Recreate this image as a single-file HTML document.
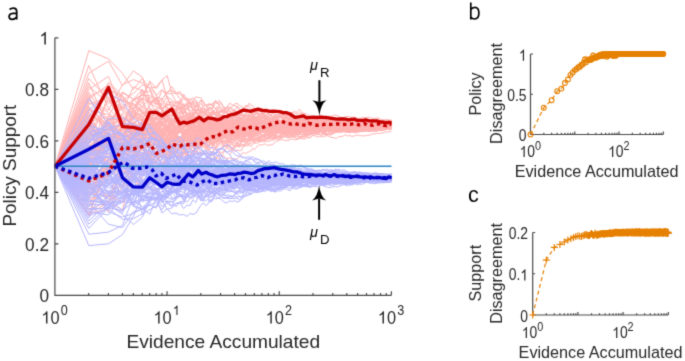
<!DOCTYPE html>
<html><head><meta charset="utf-8"><style>
html,body{margin:0;padding:0;background:#fff;overflow:hidden}
svg{display:block}
text{font-family:"Liberation Sans",sans-serif}
</style></head><body>
<svg width="685" height="361" viewBox="0 0 685 361">
<filter id="bl" x="0" y="0" width="685" height="361" filterUnits="userSpaceOnUse" color-interpolation-filters="sRGB"><feConvolveMatrix order="3" kernelMatrix="0.019 0.1 0.019 0.1 0.524 0.1 0.019 0.1 0.019" divisor="1" edgeMode="duplicate" preserveAlpha="true"/></filter>
<rect width="685" height="361" fill="#fff"/>
<g filter="url(#bl)"><rect width="685" height="361" fill="#fff"/>
<g transform="translate(55 295) scale(0.1)" fill="none" stroke-width="10" stroke-linejoin="round">
<g stroke="#ffb2b2">
<path d="M0 -1288l338-876l197 206l140 116l109 53l89 21l75 70l65 169l57-81l52 1l46-38l42-17l39-63l37 4l33 27l32-112l29-52l28-23l26-31l25-35l24 78l23 25l21 3l21-11l20 24l19 2l19 31l17 11l17 49l17 12l31-4l30 16l28-21l26 21l25 43l24-8l22 41l22 4l21 0l20 14l19 17l18-1l18-9l17-23l16-14l24 3l23-27l22-12l20-15l20-4l19 22l19-5l17-4l17-7l17 8l21-18l20-14l20 0l19 22l18 17l17 9l17 8l16-12l20-17l19 25l18-8l17 14l17 7l16-8l19 5l18-20l18-4l17-27l16-3l18-8l18 5l17 11l17 6l18 5l18 5l16-5l17-12l18 5l17-2l16-3l16-6l18 2l16-9l16 2l17 6l17 5l17 10l17-4l16 1l17-1l17-2l17 1l16 6l18-6l16 13l17 0l16 7l17 3l17 5l16 6l17-4l16 1l17 1l16 1l16-2l17-1l16 7l17 0l16 1l17-5l16-3l16-6l16-3l16 2l16-4l17-10l16-6l16 6l12 1"/>
<path d="M0 -1288l338 490l197-137l140 84l109-444l89-176l75 37l65 43l57-92l52 4l46-29l42 78l39 66l37-89l33 69l32-25l29-33l28-26l26-9l25 58l24 1l23 6l21 22l21 39l20 2l19-37l19 9l17 4l17-43l17 17l31 11l30 25l28-7l26 10l25 7l24-7l22-22l22-31l21-10l20 7l19-10l18-7l18-9l17-26l16 15l24-27l23-23l22 3l20-4l20-8l19 16l19-4l17-1l17 1l17-22l21-16l20-4l20-26l19-34l18 2l17-9l17 8l16 3l20-25l19 3l18 7l17-10l17-8l16-6l19 4l18-16l18 1l17-18l16-13l18-12l18 5l17 17l17 5l18 15l18-6l16 2l17 2l18-5l17 0l16-1l16 3l18-4l16 2l16-9l17-10l17 8l17-4l17-3l16-15l17 0l17 4l17-6l16-10l18 1l16 0l17 3l16 11l17 6l17-1l16 0l17-4l16 2l17 2l16 1l16 1l17 5l16 0l17-4l16 0l17-6l16-3l16 3l16-3l16 1l16-1l17-1l16-7l16-3l12 4"/>
<path d="M0 -1288l338-156l197 28l140-59l109 50l89-209l75-23l65-46l57 77l52-4l46-68l42 48l39-52l37-20l33-29l32-38l29-13l28 61l26 14l25 46l24-1l23 4l21 10l21-16l20 21l19 5l19 28l17 18l17-12l17-5l31 41l30 4l28 19l26 5l25 14l24-7l22 14l22-3l21-11l20 2l19-10l18-14l18-47l17-14l16-12l24-3l23 9l22 39l20-2l20-1l19 11l19 6l17-30l17-13l17-3l21 14l20-8l20-6l19-20l18 5l17-2l17-8l16 3l20-3l19 12l18-1l17 6l17-3l16-2l19-15l18 16l18 6l17 11l16 13l18-1l18-5l17-7l17-1l18-10l18-27l16 7l17-3l18 7l17-3l16-2l16 1l18 2l16 6l16-12l17-7l17-10l17 2l17 3l16 3l17 4l17 4l17-6l16 8l18 7l16-8l17-8l16-7l17-5l17-1l16 5l17 0l16 6l17-4l16 1l16 1l17-8l16 2l17-6l16 0l17 6l16 5l16-6l16-8l16 3l16-4l17 1l16 5l16 3l12-4"/>
<path d="M0 -1288l338-147l197-57l140 61l109-139l89-181l75-149l65-79l57 142l52 153l46-21l42 74l39 102l37-46l33-25l32-2l29 30l28-37l26 9l25-37l24 11l23 0l21 5l21-61l20 8l19-7l19 51l17-20l17-16l17-19l31 25l30-18l28 55l26 1l25-8l24-20l22 32l22 18l21 12l20 28l19 19l18-17l18-5l17 4l16 3l24 3l23 25l22-11l20-6l20-11l19-15l19 14l17-4l17-1l17-2l21 4l20-3l20-14l19 0l18-2l17-6l17 17l16-5l20-7l19-9l18-4l17-6l17-17l16-2l19-19l18 21l18-5l17 9l16 8l18-8l18-14l17 11l17 0l18 10l18-5l16 12l17-17l18 0l17 1l16-1l16 5l18-4l16-4l16-12l17-2l17-6l17 6l17 1l16 1l17-8l17 1l17 3l16-6l18 0l16-5l17 1l16 7l17-1l17-1l16 4l17-1l16-4l17-4l16-2l16-3l17 3l16-6l17-1l16 0l17-4l16-3l16-2l16-5l16 1l16 7l17 3l16-3l16-5l12 0"/>
<path d="M0 -1288l338-424l197-414l140 133l109 139l89 235l75-104l65 27l57-19l52-36l46 80l42 21l39-3l37 51l33-48l32-61l29 22l28-49l26 54l25 43l24-27l23 23l21 24l21 5l20 2l19-43l19 23l17 48l17 23l17-29l31-50l30-28l28-19l26 11l25-17l24-37l22-37l22 9l21 19l20 8l19 26l18 16l18-22l17 16l16 5l24-4l23-23l22-28l20-30l20 33l19 10l19 37l17 4l17 3l17-1l21 25l20 3l20-10l19 14l18 0l17 19l17 4l16-3l20-19l19-11l18-13l17 0l17 4l16 5l19 6l18-15l18-3l17 5l16-9l18-8l18-9l17 15l17-8l18-8l18-13l16 5l17-2l18 1l17-1l16-5l16-1l18 2l16 3l16 1l17-8l17-2l17-3l17 12l16-2l17-2l17 2l17 16l16 7l18-5l16 1l17 1l16-2l17-8l17 5l16 11l17 3l16-2l17-2l16-2l16 2l17-6l16 10l17-2l16 2l17-2l16-1l16 0l16 2l16 1l16-7l17-6l16-1l16 0l12-4"/>
<path d="M0 -1288l338-262l197 0l140-50l109-184l89 32l75 52l65 53l57 57l52-7l46-32l42-32l39 26l37 20l33-29l32 64l29-17l28 24l26-19l25 53l24 19l23 20l21-31l21-6l20 25l19-2l19-5l17-43l17 12l17 21l31 38l30-51l28-7l26-6l25 1l24-53l22-4l22-4l21-33l20-30l19 5l18 0l18-22l17-1l16 12l24-9l23 9l22-11l20-2l20-9l19-13l19 2l17-6l17-12l17-14l21 21l20 2l20 15l19-16l18-1l17-3l17 6l16-21l20-1l19-10l18 0l17-13l17-12l16 6l19 12l18-2l18 0l17 1l16-4l18 0l18-4l17 0l17-11l18 6l18-11l16-9l17 1l18 25l17-3l16 9l16-4l18-5l16 7l16-2l17 14l17-2l17 5l17 10l16 2l17-2l17 4l17-4l16 4l18 4l16 0l17-1l16 1l17 5l17 3l16 6l17 5l16 1l17 5l16-8l16-6l17 2l16 4l17-2l16-3l17 4l16-6l16-2l16-5l16-3l16 4l17 3l16-1l16 5l12-4"/>
<path d="M0 -1288l338-298l197-62l140-7l109 12l89 27l75-34l65 88l57-16l52-81l46 89l42 27l39 5l37-43l33 43l32-7l29 32l28 21l26-42l25 24l24-21l23 2l21 1l21-4l20-42l19-24l19 26l17 3l17-32l17 7l31-23l30-36l28-5l26-38l25 14l24-46l22-3l22 18l21 15l20 14l19-7l18-4l18 0l17-25l16 16l24 30l23 11l22-15l20 14l20 16l19 11l19-17l17-16l17 9l17 3l21-1l20 14l20 9l19-6l18 3l17-11l17 8l16-2l20-19l19-5l18 6l17-12l17 4l16 12l19-5l18-5l18 7l17-1l16 8l18-10l18-12l17-4l17-3l18-3l18 10l16-1l17-4l18-2l17-13l16 8l16 1l18-17l16 5l16 13l17 7l17 6l17-1l17 1l16 6l17-7l17 10l17 6l16 1l18-2l16-8l17 6l16 2l17 2l17 0l16 2l17-7l16-4l17 0l16-5l16 1l17-1l16 3l17 7l16-11l17-6l16 3l16 0l16 5l16-7l16 6l17 3l16-1l16-5l12-5"/>
<path d="M0 -1288l338-767l197-131l140 344l109-241l89 39l75 169l65 104l57 13l52 23l46-4l42-22l39 77l37-8l33 3l32 20l29 57l28 67l26-33l25 0l24 6l23-15l21 4l21 36l20-74l19-8l19-22l17-18l17-6l17-12l31-13l30-12l28-58l26-15l25-45l24-3l22 36l22 6l21 4l20-10l19 5l18 5l18 13l17 23l16-12l24 0l23 6l22 19l20 18l20 11l19-1l19-6l17 10l17 2l17-2l21 13l20 27l20 4l19 1l18 10l17-1l17-8l16 17l20 2l19-2l18-9l17-29l17 2l16-9l19 4l18-1l18-6l17-4l16-23l18 10l18 4l17 15l17-2l18-11l18 6l16 10l17-5l18 6l17 1l16 13l16 4l18-4l16-3l16 2l17-6l17-9l17-11l17 9l16 9l17-3l17 5l17 0l16 0l18 13l16 7l17-2l16 0l17 0l17 2l16 7l17 10l16-5l17 7l16 3l16 3l17-4l16-3l17 4l16-1l17-2l16-9l16 2l16-10l16 3l16-2l17-4l16-7l16-7l12 2"/>
<path d="M0 -1288l338 490l197-583l140 8l109-291l89-13l75-186l65 37l57 7l52 27l46-12l42-39l39-27l37 70l33 80l32 88l29-84l28-50l26-64l25 19l24-19l23 8l21 13l21 63l20 27l19-24l19 20l17 12l17 22l17-13l31-13l30 52l28 33l26 41l25 6l24 3l22 3l22 12l21 18l20-58l19-54l18-24l18-17l17 4l16-29l24 11l23 10l22 10l20-7l20 16l19 8l19-10l17-5l17 0l17 17l21-2l20-3l20 6l19 22l18 5l17 4l17 3l16-13l20 21l19-6l18-7l17-10l17-13l16-5l19-6l18-6l18-1l17 11l16 16l18 5l18-5l17 6l17 1l18-8l18-13l16-3l17 4l18-7l17-7l16 0l16-6l18-7l16 7l16-1l17 4l17 20l17-3l17-1l16 0l17 4l17-3l17 1l16-1l18 4l16-2l17-15l16-3l17-4l17-1l16 2l17 8l16 7l17-5l16 5l16 4l17 0l16 0l17-3l16-3l17-1l16 7l16 2l16-1l16-1l16-2l17-14l16 7l16-2l12-5"/>
<path d="M0 -1288l338-529l197 357l140-111l109 186l89-195l75-121l65-30l57 67l52 1l46 34l42-25l39-10l37 2l33-50l32 21l29 37l28-20l26 21l25 17l24-41l23 19l21-7l21 35l20 32l19-10l19-16l17 5l17-26l17-15l31-24l30 31l28-38l26 33l25 3l24 11l22 27l22 16l21-16l20-24l19-7l18 27l18-18l17-39l16 15l24 16l23-27l22 27l20-7l20-12l19-18l19-10l17-2l17 15l17 4l21 11l20-9l20-19l19-4l18 1l17-15l17-6l16 19l20-15l19-9l18 4l17 14l17-10l16 28l19-4l18 6l18 1l17 17l16 12l18 0l18 16l17 3l17-20l18-5l18 5l16 8l17 18l18 4l17-3l16-18l16 2l18-16l16 1l16 8l17-4l17 13l17 3l17-3l16-3l17-1l17-3l17-5l16-2l18-3l16 1l17-1l16-10l17 5l17-5l16 5l17-7l16 4l17-5l16-4l16-4l17-1l16 1l17 3l16-5l17 0l16 0l16-4l16-4l16-7l16 2l17 3l16 1l16-4l12 4"/>
<path d="M0 -1288l338-383l197 105l140-116l109 40l89-13l75 57l65 63l57-112l52 133l46-105l42-1l39-12l37-13l33-1l32-26l29-67l28 1l26 15l25-26l24-75l23 8l21 55l21-43l20-38l19 11l19 11l17-22l17-41l17 27l31 13l30 14l28 39l26 46l25 20l24 29l22-27l22 4l21-17l20-17l19 12l18 2l18-33l17 14l16-1l24 12l23 7l22 9l20 17l20 0l19-27l19 7l17 11l17 11l17-11l21-26l20 29l20 3l19-12l18 4l17 5l17 0l16 26l20-10l19-7l18-3l17-27l17-6l16-7l19-1l18-4l18-7l17 15l16 11l18 3l18-8l17-9l17-5l18-5l18 13l16 10l17-2l18-4l17 12l16-6l16 4l18-5l16-7l16 3l17 6l17 21l17 3l17-4l16-2l17 4l17 13l17-4l16 2l18-9l16 3l17 14l16 5l17-3l17 10l16 9l17-1l16-2l17-2l16-6l16 1l17 0l16 3l17-4l16 3l17-1l16-3l16 6l16-1l16 1l16 0l17 2l16 4l16 7l12-7"/>
<path d="M0 -1288l338-715l197 479l140-166l109 118l89-45l75-56l65 109l57-60l52-16l46-88l42-21l39-40l37 59l33-16l32 8l29 47l28-19l26-22l25 5l24 9l23-13l21 6l21 13l20-2l19-11l19 2l17 19l17-23l17 6l31-71l30 22l28 24l26 23l25 8l24 5l22-14l22 8l21-6l20-10l19-39l18 18l18-13l17 1l16-32l24-23l23 14l22-14l20 6l20-16l19 4l19 19l17 1l17 20l17 6l21 19l20 25l20 2l19-1l18 8l17 12l17 1l16 15l20-2l19 9l18 19l17-3l17-5l16 13l19 9l18-1l18 18l17 2l16 16l18-6l18-1l17 7l17-10l18-15l18 9l16-5l17 1l18 5l17-11l16-12l16 8l18 5l16 11l16-11l17 3l17 0l17 6l17-5l16-3l17-1l17 8l17-5l16 1l18-7l16-2l17 11l16-7l17 1l17 6l16 5l17 0l16-7l17-5l16-4l16-3l17 0l16-6l17-7l16 6l17 0l16-6l16-8l16-4l16 1l16-4l17 5l16 1l16 2l12-5"/>
<path d="M0 -1288l338 24l197-418l140 40l109 92l89 152l75-181l65 12l57 29l52 18l46 3l42-103l39 96l37-20l33-87l32-62l29-39l28-27l26 14l25 55l24-19l23 50l21-5l21-36l20 24l19-59l19-20l17-23l17 51l17 42l31-8l30 23l28 19l26-6l25-21l24 18l22-15l22-11l21-25l20-11l19 20l18-25l18-22l17 19l16-14l24 43l23-5l22 1l20 9l20-43l19 8l19 1l17 1l17 4l17 5l21-2l20-18l20-1l19-4l18 18l17-29l17-11l16 15l20 8l19-3l18 2l17-6l17 5l16-4l19-5l18-1l18 9l17-3l16-14l18 8l18 13l17-6l17 8l18-7l18-2l16-11l17-3l18-10l17-1l16-8l16-5l18 2l16-6l16-10l17 8l17-1l17 11l17 8l16 3l17-6l17-5l17-2l16 1l18 8l16-1l17-3l16 8l17 9l17 9l16 3l17 2l16 3l17-1l16 7l16 2l17-4l16 5l17-4l16-1l17 6l16 3l16-1l16-2l16 7l16 2l17 5l16-1l16 5l12 7"/>
<path d="M0 -1288l338-672l197-145l140 134l109 130l89-20l75 115l65-72l57-1l52-11l46-10l42 50l39-52l37 32l33-57l32 40l29 46l28-50l26-33l25 66l24 21l23 11l21 35l21 5l20-4l19-17l19 23l17-31l17 11l17 20l31-12l30-22l28-35l26-30l25-30l24-30l22 39l22-2l21-2l20-39l19 11l18-44l18 23l17 8l16 27l24 30l23 25l22 7l20-10l20-14l19-10l19 30l17 19l17 4l17 2l21-2l20-10l20 4l19-18l18 16l17 2l17-11l16 2l20 23l19 2l18-22l17 10l17 5l16-16l19 17l18-15l18 6l17-2l16 1l18 3l18 3l17 9l17 3l18-4l18-2l16-2l17 6l18 2l17-2l16-15l16 5l18 3l16 5l16 9l17 14l17-3l17 3l17 3l16-1l17 3l17 0l17-1l16 8l18 1l16 5l17 10l16 2l17 1l17 5l16 11l17 6l16-1l17-7l16 6l16 1l17 11l16-6l17 6l16-6l17 1l16-1l16-5l16-4l16 12l16 1l17-7l16-2l16 0l12 1"/>
<path d="M0 -1288l338-227l197-248l140 17l109 175l89 170l75-4l65-81l57-1l52 18l46-113l42-46l39-63l37 24l33 79l32 59l29-35l28 2l26-65l25 14l24-42l23-17l21-35l21 12l20-11l19 19l19 20l17 9l17-47l17 18l31 5l30 30l28 6l26-23l25-26l24-18l22-21l22 0l21 18l20 15l19 3l18 22l18 0l17-5l16-15l24 4l23-4l22 13l20-13l20 1l19-24l19-10l17-8l17 1l17 2l21-21l20 0l20 22l19-10l18 10l17-6l17-8l16-13l20 2l19 8l18 7l17-8l17-10l16 12l19-13l18 4l18-6l17 18l16 3l18 5l18-4l17-10l17 0l18 21l18-12l16 0l17 6l18 12l17 10l16 1l16-2l18-3l16-17l16 9l17 6l17 7l17-4l17 1l16-5l17 9l17-1l17-6l16-1l18 3l16 5l17 0l16 3l17-2l17 3l16 3l17 10l16-6l17 17l16-2l16 0l17 6l16-3l17-5l16 6l17-3l16 0l16 4l16 4l16 5l16-1l17-3l16 1l16 5l12 0"/>
<path d="M0 -1288l338-307l197-359l140 232l109 51l89 227l75-124l65 0l57-78l52 101l46 84l42-31l39-65l37 40l33-105l32-45l29-1l28 52l26-24l25 19l24 8l23-26l21-35l21-18l20-14l19-17l19 20l17 2l17 39l17 17l31-34l30 27l28-21l26 25l25-33l24 13l22 18l22 40l21-24l20-15l19 28l18 17l18-20l17 26l16 3l24 3l23-13l22 11l20-1l20-27l19-16l19-2l17 6l17 0l17 6l21 16l20-13l20-17l19 1l18 4l17-2l17-10l16-3l20 11l19 7l18-10l17 16l17-1l16-5l19-6l18-2l18 9l17-1l16-2l18 3l18-6l17-4l17-7l18 8l18 2l16-7l17 11l18 1l17-1l16-8l16 0l18-3l16-9l16 2l17 2l17 10l17 2l17-1l16 4l17 1l17-10l17 3l16 3l18-8l16-7l17 5l16 0l17-3l17 0l16-1l17 13l16-5l17-1l16-1l16-6l17-3l16 4l17-1l16-3l17-1l16-8l16-1l16 1l16 1l16-5l17 1l16 2l16-2l12-2"/>
<path d="M0 -1288l338 156l197-197l140-248l109-233l89-3l75-6l65 110l57-56l52 7l46-123l42 35l39-11l37 29l33 15l32 25l29-41l28 72l26 35l25 44l24-9l23 52l21-3l21-16l20 14l19-33l19 15l17-24l17 39l17 17l31-31l30 1l28-21l26 26l25-11l24-4l22 5l22 22l21-4l20-18l19-14l18-4l18 8l17-17l16 5l24 26l23 3l22 0l20 24l20 11l19 4l19 12l17-16l17-3l17-20l21 1l20 15l20 3l19 0l18 11l17 17l17-5l16 4l20-21l19-7l18-4l17 1l17 3l16-7l19-34l18 11l18 1l17-8l16-2l18-13l18-3l17-11l17-5l18-4l18 9l16 7l17-8l18-5l17-7l16 3l16-2l18-1l16-6l16 2l17-4l17-2l17-4l17 3l16-5l17 0l17-4l17-1l16 8l18-5l16 2l17 9l16 5l17-4l17 5l16 5l17 3l16 1l17 2l16-2l16-1l17-5l16 2l17-1l16-5l17 4l16-3l16 1l16-7l16 3l16 2l17-1l16-1l16-1l12 4"/>
<path d="M0 -1288l338 91l197 19l140-146l109-59l89-75l75 29l65-107l57 21l52-72l46-16l42 51l39 50l37 49l33-26l32-36l29 44l28-10l26-57l25 17l24 41l23 21l21-9l21 18l20-33l19-57l19-14l17-13l17-9l17-24l31-39l30-12l28 41l26 24l25-24l24 21l22-3l22-1l21-21l20-20l19 2l18-12l18-24l17 8l16 1l24 6l23 8l22-3l20 0l20-13l19 15l19-10l17-3l17 28l17-1l21-1l20 13l20-15l19 8l18 7l17 10l17-6l16 10l20 12l19-3l18-3l17-17l17-3l16 5l19 10l18-2l18 2l17 0l16-8l18 5l18-6l17 1l17-1l18-5l18-6l16-9l17-7l18-5l17-8l16 2l16 3l18-4l16 2l16-1l17 1l17 9l17 2l17 9l16-11l17-13l17 3l17-6l16-6l18 5l16-4l17 8l16 5l17 0l17 4l16 4l17 6l16-8l17 3l16-1l16 0l17 5l16-4l17-5l16-2l17-6l16-4l16 3l16 0l16 6l16-4l17-3l16-1l16 3l12-1"/>
<path d="M0 -1288l338-404l197 148l140-148l109-266l89 80l75-101l65 69l57 41l52 92l46-22l42-66l39-23l37 36l33 46l32-5l29 6l28-16l26 0l25 76l24 0l23 17l21 3l21 34l20-30l19-10l19-21l17 52l17-21l17 13l31 6l30 5l28 8l26-18l25-20l24-8l22 22l22 16l21 5l20 6l19-3l18 24l18 5l17-28l16-1l24 23l23 4l22 1l20-12l20 5l19 3l19 4l17 9l17-10l17-10l21 11l20-34l20-21l19-1l18 10l17 8l17 9l16-9l20-1l19-14l18 12l17 8l17 9l16 2l19 2l18 7l18 3l17-19l16-2l18 6l18-18l17 5l17-2l18-2l18 5l16-2l17-8l18 11l17-12l16 7l16 1l18 15l16 4l16-1l17 2l17-5l17-10l17-11l16 3l17 8l17-6l17-4l16-3l18 8l16 2l17 1l16-3l17 1l17 4l16-2l17-3l16 0l17 9l16-7l16 8l17-5l16-1l17-2l16 3l17-5l16-3l16 7l16-1l16 6l16 2l17 1l16-7l16 6l12-2"/>
<path d="M0 -1288l338-693l197-94l140 123l109 54l89 70l75 82l65 113l57-36l52 5l46 66l42 19l39-105l37 99l33-51l32-60l29-14l28 26l26 18l25-30l24-13l23 4l21 4l21 28l20 28l19-5l19 23l17-5l17 1l17 5l31-78l30 68l28 39l26 48l25 15l24 13l22 9l22 4l21 7l20 5l19 6l18-11l18 17l17-30l16-26l24-17l23-5l22-16l20-26l20-1l19 3l19 21l17 6l17 5l17-2l21-3l20-9l20-22l19-12l18-10l17-7l17-5l16-12l20-13l19-4l18 11l17-16l17-7l16 6l19-9l18 5l18 6l17-15l16 6l18-9l18 19l17-5l17 1l18 5l18 1l16-16l17-4l18-5l17-4l16 8l16-7l18 18l16 0l16-1l17 5l17-7l17 5l17 3l16 4l17 1l17 5l17 1l16 2l18 1l16 11l17 0l16 2l17 5l17 0l16-2l17-4l16-14l17 0l16-3l16-8l17 2l16 2l17-2l16-1l17 1l16-8l16 7l16-4l16-7l16-1l17 0l16 4l16-1l12-1"/>
<path d="M0 -1288l338-165l197-173l140-75l109-9l89-55l75 94l65 50l57-91l52 20l46 50l42 42l39-30l37 20l33 87l32-53l29 22l28 2l26 3l25-19l24-5l23-17l21 12l21-25l20 19l19-35l19 28l17-1l17-13l17 13l31 4l30-33l28-8l26-12l25 34l24 19l22 2l22 11l21 40l20-19l19-18l18-3l18 6l17-12l16-19l24-15l23 7l22 11l20 3l20-11l19 11l19 5l17-14l17-18l17-12l21 15l20-14l20 8l19-4l18 1l17-6l17-15l16-4l20 1l19-17l18 5l17-6l17 12l16 4l19 0l18 6l18-4l17 7l16 2l18-5l18-6l17 0l17-7l18 1l18 4l16-3l17 6l18 11l17 4l16-7l16-2l18-15l16 7l16-7l17-5l17 8l17-8l17 0l16-8l17-7l17 0l17-2l16-1l18-7l16 5l17 3l16-2l17-1l17 4l16 10l17 5l16 6l17-3l16-6l16-3l17 1l16-8l17 4l16-5l17 0l16-4l16-2l16 3l16 0l16 1l17-2l16 5l16-4l12 2"/>
<path d="M0 -1288l338 432l197-78l140-143l109-333l89-81l75 136l65-83l57-59l52-16l46-69l42-48l39-43l37 4l33-55l32 17l29-54l28 31l26 1l25-28l24-1l23 51l21 14l21-3l20 10l19-14l19-4l17-2l17 35l17 9l31-27l30 10l28 28l26 15l25-16l24 64l22-23l22-9l21-13l20-10l19-21l18 1l18-42l17 10l16-53l24-24l23-4l22-4l20-26l20 14l19-6l19 20l17-2l17-4l17-3l21-11l20-2l20-22l19-5l18 32l17-20l17 1l16 2l20-15l19 2l18-16l17 18l17-21l16-13l19 33l18 16l18 7l17 20l16-2l18 1l18 12l17-1l17-1l18 3l18 8l16 8l17 13l18 2l17 2l16-2l16 8l18 12l16-8l16-3l17 8l17-2l17-10l17-5l16-16l17 11l17 14l17 8l16 3l18 5l16 7l17-2l16-5l17-5l17-12l16-2l17 2l16 7l17-2l16-3l16 2l17 5l16-2l17-5l16 0l17 2l16 1l16 7l16 5l16-4l16-2l17 2l16-1l16 0l12-1"/>
<path d="M0 -1288l338 34l197-247l140-206l109-15l89 63l75 8l65-110l57-19l52-93l46 10l42 42l39 58l37-21l33 27l32 33l29-17l28 42l26 16l25-8l24-15l23-51l21 28l21 42l20-11l19 53l19-28l17-52l17 29l17 24l31 14l30 23l28 4l26 36l25-48l24-11l22 0l22-6l21-7l20-25l19-11l18-10l18 11l17 16l16 4l24 25l23-1l22-19l20-7l20-6l19 29l19-8l17 35l17 21l17-14l21-26l20 7l20-16l19-1l18 17l17 0l17 1l16 13l20 9l19-20l18 8l17 7l17-11l16-13l19 0l18-1l18-5l17-14l16 2l18-4l18-2l17 6l17 9l18-4l18 1l16-4l17-9l18 4l17 6l16 7l16-4l18 8l16-5l16 1l17 7l17 7l17-6l17 0l16-2l17 3l17 6l17-2l16 10l18 0l16 5l17-1l16 3l17-8l17 1l16 3l17-11l16-7l17-2l16-2l16-13l17-1l16-1l17-3l16-1l17-3l16-3l16-5l16 2l16-1l16 4l17-2l16-5l16 0l12-1"/>
<path d="M0 -1288l338 170l197-172l140-232l109 58l89-47l75-162l65-46l57-46l52 34l46-3l42-38l39 3l37 41l33-57l32 70l29-2l28 26l26-8l25 70l24 27l23-39l21 11l21 8l20 33l19 12l19 22l17 5l17-15l17-27l31-22l30-10l28-40l26 14l25-18l24 30l22-13l22-5l21 36l20-23l19-39l18-32l18-21l17 10l16-2l24 1l23-2l22 6l20-10l20 2l19-2l19-11l17-11l17-4l17-5l21 2l20-8l20-26l19-15l18 5l17 4l17 16l16-13l20 9l19 14l18-8l17 11l17 15l16 11l19 9l18-1l18 7l17-14l16 8l18-10l18 8l17 10l17-5l18 5l18-9l16 6l17 1l18 8l17 6l16 8l16 5l18 16l16 10l16-5l17-4l17 1l17-3l17-2l16 13l17 3l17 4l17 4l16-1l18 10l16 5l17-4l16 3l17-1l17 8l16-4l17-1l16 1l17-3l16 9l16 2l17-5l16 0l17-6l16-5l17-10l16-7l16-2l16 5l16 0l16-1l17-1l16 0l16 3l12-5"/>
<path d="M0 -1288l338-183l197-237l140-61l109 65l89-125l75 23l65-55l57-37l52-86l46 36l42 41l39-20l37-81l33 47l32 22l29 60l28-13l26 4l25-26l24 24l23-6l21-11l21-8l20 23l19 10l19 21l17 25l17 7l17-5l31-28l30 35l28-50l26 18l25 9l24 24l22 54l22 8l21 2l20 3l19 2l18 4l18-5l17 36l16-8l24-34l23-24l22 24l20-8l20 32l19 13l19-27l17 17l17-17l17 5l21 15l20 12l20 10l19 20l18 6l17-3l17-3l16 3l20 5l19-17l18-5l17 2l17-6l16 6l19 14l18-10l18-11l17-1l16 1l18-5l18 3l17 2l17-8l18 11l18 1l16-15l17-1l18 13l17 1l16-2l16 3l18 4l16-3l16-7l17 5l17 0l17 11l17-9l16 5l17 8l17-3l17 14l16 7l18-4l16-6l17-4l16-2l17 7l17-10l16-1l17 7l16-3l17 6l16-3l16 0l17-3l16 5l17-1l16 6l17 2l16 0l16 3l16 4l16 5l16 4l17 3l16-5l16 0l12 3"/>
<path d="M0 -1288l338-601l197 218l140 74l109-114l89 114l75-42l65 152l57-36l52-68l46-65l42-26l39 34l37 62l33 59l32 1l29-11l28-11l26-15l25-11l24 7l23-40l21 21l21-16l20-27l19-23l19 0l17-68l17-49l17 20l31 2l30 14l28 9l26 13l25 9l24-5l22 3l22 10l21-20l20-5l19-11l18-12l18 17l17-28l16-3l24-11l23 9l22 5l20 12l20 5l19 6l19-7l17 14l17-15l17-11l21-10l20 22l20 16l19-9l18-10l17 2l17-15l16-7l20 0l19 4l18 7l17 8l17-12l16 13l19 1l18 7l18 8l17-12l16 0l18-1l18-2l17-2l17 3l18 3l18 7l16-15l17-7l18-21l17 0l16 0l16-3l18 0l16-8l16 16l17-1l17 6l17-1l17 4l16 11l17-3l17 9l17-3l16 5l18 5l16 11l17 9l16-2l17-1l17 16l16-1l17 5l16 2l17 1l16 0l16-2l17 5l16 3l17 5l16 1l17 7l16 0l16 7l16-11l16-2l16-3l17 4l16 0l16-4l12 1"/>
<path d="M0 -1288l338 201l197 259l140-487l109 21l89-280l75-2l65-71l57-80l52-29l46 99l42 34l39-54l37 19l33 4l32-19l29 16l28 18l26-21l25 68l24-39l23 49l21-27l21-7l20-3l19-29l19-33l17 44l17 45l17-29l31-21l30 69l28 35l26 37l25 7l24-18l22-46l22 7l21-40l20 11l19-9l18-16l18 33l17 0l16 0l24 17l23 23l22-34l20-20l20-21l19 11l19-34l17-5l17-15l17-4l21 1l20-6l20-10l19 9l18-6l17 0l17 9l16-3l20-22l19-11l18-12l17 5l17 2l16 13l19-7l18-7l18-6l17 0l16 25l18-1l18-13l17-3l17-4l18-5l18-25l16 4l17 5l18 10l17 10l16-4l16-11l18-5l16 7l16 9l17 8l17-2l17-9l17-5l16 9l17-4l17 5l17 8l16 1l18 2l16-8l17-7l16 2l17 8l17 9l16-8l17 0l16 12l17-1l16-3l16-1l17-4l16-1l17-7l16 5l17 0l16 2l16-5l16-1l16 2l16 3l17 6l16 1l16-2l12-1"/>
<path d="M0 -1288l338-56l197 193l140 75l109-68l89-64l75-170l65 33l57-146l52-73l46 8l42-50l39-15l37-30l33 8l32-45l29-33l28-39l26 63l25 44l24-68l23 5l21 33l21 18l20 13l19-4l19-32l17-60l17 27l17-3l31 20l30-23l28 21l26-52l25 31l24 39l22 2l22 9l21-2l20-12l19-5l18-24l18 7l17 20l16-29l24 29l23-10l22 18l20-3l20 6l19-22l19 5l17 8l17 13l17-5l21 4l20-11l20-8l19 33l18-20l17 5l17 8l16 11l20 8l19 4l18-1l17 14l17 0l16 2l19-21l18-6l18 2l17 3l16 17l18-11l18 4l17-14l17-3l18-7l18 5l16-2l17 28l18 17l17-10l16-3l16 6l18-4l16 4l16-3l17-1l17-6l17 3l17 2l16-2l17-6l17-3l17 1l16-3l18-6l16 5l17-7l16 4l17-12l17-4l16 2l17 5l16 4l17-1l16-5l16-1l17 8l16-6l17-3l16-5l17 6l16-2l16-2l16 0l16-5l16 0l17 4l16-1l16 2l12 0"/>
<path d="M0 -1288l338-174l197-18l140-225l109 91l89-122l75-9l65-11l57 94l52 20l46 25l42-46l39-16l37-38l33 1l32-11l29 84l28 51l26-21l25 34l24-11l23-6l21-41l21 11l20-30l19-26l19-5l17-10l17-38l17-8l31-5l30-40l28 26l26-46l25 8l24-8l22 39l22 53l21 10l20 18l19-17l18-29l18-12l17 1l16-15l24 3l23 44l22-5l20-20l20 22l19 0l19 0l17-3l17-2l17 2l21-7l20 16l20-9l19-5l18 26l17 3l17-10l16-2l20 15l19 4l18 3l17-20l17-6l16 2l19-8l18 0l18 21l17-9l16 15l18-13l18 10l17 7l17 8l18-7l18-9l16-2l17-16l18 3l17-8l16 6l16 6l18 3l16-1l16 0l17 4l17 12l17-1l17-7l16 2l17-8l17 8l17 7l16 6l18 3l16 7l17-9l16 9l17 0l17 10l16-6l17 4l16 2l17 6l16-1l16-6l17 4l16 3l17 4l16 12l17-14l16 1l16-5l16 2l16 3l16-3l17-2l16-1l16-5l12-1"/>
<path d="M0 -1288l338 185l197-490l140-42l109-7l89 84l75 33l65-45l57-76l52-14l46 63l42 3l39-33l37 22l33-5l32 13l29 3l28 3l26-56l25-1l24 20l23-25l21-31l21 33l20-13l19-21l19-42l17-17l17 5l17 22l31 21l30 4l28-19l26-5l25-13l24-13l22 25l22 4l21-4l20-16l19-2l18-14l18-14l17-14l16 22l24 22l23 12l22 11l20-3l20 30l19-1l19-7l17-5l17-5l17-5l21 14l20-12l20-9l19 22l18 7l17 1l17 3l16 12l20-17l19 6l18-15l17-6l17 6l16 9l19-9l18-23l18-15l17-12l16 0l18 3l18 0l17-5l17 0l18 3l18 3l16-12l17 3l18-10l17 5l16 10l16-7l18 7l16 3l16-2l17 7l17 3l17-7l17-7l16 7l17-4l17 6l17-7l16-4l18 14l16 6l17 6l16-4l17 15l17 11l16 8l17-5l16-8l17 2l16-4l16 1l17 0l16 3l17-4l16 2l17 3l16-2l16-7l16 2l16-2l16 1l17 5l16-1l16-1l12 9"/>
<path d="M0 -1288l338-833l197 454l140-29l109 221l89-39l75-43l65-121l57-104l52-57l46-30l42-58l39-14l37 116l33-38l32-29l29-50l28-40l26 8l25 0l24 45l23 41l21 20l21-11l20 16l19-55l19-29l17 26l17 21l17 14l31 52l30 2l28-15l26 23l25 29l24 2l22-35l22 30l21 4l20-25l19-20l18 0l18-3l17 11l16 2l24 23l23 21l22-1l20-1l20 12l19 7l19 8l17 20l17-23l17 24l21 46l20-3l20 5l19 8l18 9l17-4l17-2l16 8l20-1l19-9l18 4l17 23l17-6l16-6l19 6l18 4l18-3l17-8l16-5l18 2l18-4l17-18l17-5l18-14l18-9l16 10l17 20l18 1l17-10l16-5l16-4l18 4l16-9l16-4l17 1l17 0l17 6l17 6l16 0l17 5l17-3l17 1l16 4l18 2l16 6l17 9l16-5l17-4l17-5l16 4l17-7l16-2l17-10l16 1l16-8l17 4l16 7l17-3l16-6l17 9l16 0l16 11l16 0l16 7l16-4l17-1l16-1l16-2l12-1"/>
<path d="M0 -1288l338 339l197-499l140-68l109-81l89-7l75 18l65-1l57-44l52 53l46 18l42-27l39 51l37 39l33 10l32-39l29-27l28-9l26-19l25 38l24-3l23 19l21 48l21-25l20-9l19-20l19-3l17-35l17-18l17 16l31 33l30 0l28 14l26-20l25-45l24 25l22 0l22-8l21-6l20-3l19-10l18 10l18-5l17-15l16-10l24 4l23-21l22 2l20 4l20-13l19 8l19-34l17 12l17 4l17 6l21-19l20 17l20 12l19 11l18-19l17 18l17 0l16 10l20-15l19-3l18-1l17 2l17 3l16-3l19-3l18 5l18-18l17 13l16 4l18-2l18 4l17-9l17 8l18-3l18-9l16 0l17-3l18-6l17 6l16 2l16 7l18-4l16 5l16 1l17-12l17 10l17-7l17 0l16-2l17 12l17 0l17 4l16-4l18-12l16 5l17 3l16-8l17-3l17-3l16-4l17-9l16-5l17 2l16 1l16-5l17 5l16-7l17 4l16-6l17-3l16 0l16 2l16-5l16-1l16 1l17-4l16 4l16 4l12 3"/>
<path d="M0 -1288l338-457l197 280l140 32l109 43l89-78l75 109l65 80l57-45l52-12l46-90l42 24l39 84l37-121l33 13l32-13l29-7l28-60l26 10l25 13l24 0l23 5l21-10l21-25l20 2l19 20l19-84l17 0l17-2l17-4l31 15l30 14l28-17l26-10l25-26l24-7l22-48l22-11l21-14l20-13l19 27l18 13l18-26l17 11l16 13l24-17l23 16l22-9l20-13l20-10l19 20l19 32l17 14l17 17l17 18l21-15l20-8l20 6l19-19l18-14l17-3l17 7l16-8l20-6l19 1l18-10l17-7l17 9l16-4l19 1l18-17l18-5l17 0l16-21l18 3l18 2l17-17l17-11l18 9l18 3l16 11l17 5l18-10l17 15l16-2l16-4l18 0l16 6l16 7l17-3l17-9l17 3l17-12l16 6l17 2l17-8l17 8l16-7l18 3l16 1l17 1l16 2l17-8l17 1l16 9l17 6l16-2l17 2l16 1l16 3l17 4l16 4l17-6l16-1l17 1l16 2l16 0l16 1l16 0l16-4l17 3l16 2l16-1l12 6"/>
<path d="M0 -1288l338 13l197-771l140 58l109 137l89-107l75-183l65 77l57-87l52-42l46 171l42 9l39-23l37 54l33 21l32 4l29-13l28 25l26 73l25 77l24 10l23-42l21-33l21-8l20 11l19-31l19-45l17 25l17-38l17 15l31 65l30-3l28-49l26 15l25 12l24 2l22 22l22 20l21-14l20 11l19 23l18 31l18-17l17-6l16-13l24 19l23 23l22-17l20 22l20 7l19 13l19 9l17-9l17-1l17 9l21-10l20-16l20-12l19-8l18 2l17-10l17-2l16 22l20 2l19 3l18 2l17-5l17 1l16-13l19 0l18 2l18 3l17 13l16 10l18-6l18 0l17 13l17 6l18 0l18 5l16 4l17-5l18 4l17 4l16-8l16 5l18-1l16 0l16-1l17-2l17 5l17-1l17 8l16 9l17-4l17 5l17 5l16-4l18 3l16 5l17 2l16-2l17-5l17-5l16-6l17 8l16 6l17-1l16 4l16 2l17 3l16 3l17 5l16 0l17-4l16 2l16-3l16-6l16 0l16-2l17-3l16 3l16 3l12 1"/>
<path d="M0 -1288l338-492l197 291l140-83l109-269l89 67l75 27l65-117l57 173l52 17l46-59l42-8l39 12l37 15l33 48l32 49l29 34l28-17l26 8l25 4l24 27l23-6l21 16l21 15l20 18l19-11l19-49l17 23l17-4l17-2l31 41l30 4l28-35l26 30l25 37l24-45l22-7l22-1l21-15l20-7l19 7l18 10l18 0l17-6l16 26l24 6l23-15l22-15l20-7l20 7l19-36l19 25l17-22l17 18l17-3l21 0l20 8l20 10l19-11l18 10l17 2l17 1l16-5l20-10l19-1l18 10l17-5l17-2l16-11l19 6l18-13l18-5l17-4l16 12l18 1l18-20l17-7l17-3l18-4l18-3l16 8l17 1l18-8l17-1l16 0l16 5l18 5l16-12l16-8l17-10l17 1l17-5l17-10l16 8l17-7l17 7l17 6l16 2l18-6l16 0l17-13l16-6l17 6l17-3l16 6l17-14l16 5l17 2l16 2l16-7l17-7l16-9l17-9l16-2l17 5l16 4l16 2l16-10l16-4l16-9l17 2l16 2l16-8l12 0"/>
<path d="M0 -1288l338 366l197-252l140-166l109-8l89-10l75-36l65 70l57 46l52-117l46-184l42 11l39-18l37 37l33 25l32-57l29 37l28-7l26-17l25-51l24-2l23 41l21 16l21-25l20 14l19-26l19 26l17 6l17-35l17-21l31-8l30 12l28 34l26-21l25 42l24 6l22-17l22 5l21-22l20-34l19 31l18 21l18 27l17 5l16-11l24-7l23-25l22 16l20-11l20 5l19 5l19-6l17-13l17 15l17 4l21-12l20-6l20 25l19-4l18-23l17 13l17 4l16-10l20 5l19 1l18 4l17-5l17-6l16 12l19-12l18-22l18-14l17-14l16 3l18-11l18-10l17 0l17 7l18 3l18 5l16-12l17-6l18-22l17-11l16 3l16 9l18-1l16-10l16-3l17-2l17-4l17 10l17 1l16 4l17 4l17 4l17 9l16 1l18-4l16-1l17 7l16-4l17 6l17-4l16-6l17-8l16 0l17-19l16 1l16-4l17-5l16 1l17-3l16 5l17 1l16 3l16 4l16-3l16 4l16-1l17-5l16 5l16 3l12 1"/>
<path d="M0 -1288l338-740l197 292l140-147l109 63l89 35l75-8l65 173l57-38l52-31l46-36l42 72l39-99l37 78l33-39l32 41l29-23l28 24l26-22l25-64l24-11l23-3l21-1l21-2l20-38l19 6l19-21l17 4l17-16l17-4l31 15l30-58l28 13l26 29l25 6l24 48l22-20l22 14l21-8l20 17l19 15l18 5l18-4l17-19l16 14l24-11l23-6l22-15l20-30l20 8l19-11l19 6l17-2l17 5l17 21l21 19l20 20l20-1l19 15l18-7l17-3l17-3l16 7l20 15l19 6l18-3l17 9l17-2l16-5l19 10l18 12l18 3l17-5l16-1l18 17l18 4l17 8l17-11l18 2l18 11l16-4l17-2l18 13l17-6l16-7l16-7l18-14l16 1l16-5l17 3l17 7l17-5l17 5l16 3l17 4l17-5l17-9l16 2l18 3l16-18l17 4l16 4l17 3l17-2l16-4l17 5l16 11l17 4l16 2l16-3l17-2l16-2l17-4l16 0l17-5l16 5l16-5l16 5l16-2l16-2l17 3l16 1l16-1l12 2"/>
<path d="M0 -1288l338-130l197-105l140 80l109-21l89-51l75 47l65-79l57 63l52 77l46-51l42-41l39-50l37-46l33-26l32 67l29-71l28-14l26 53l25 47l24-1l23 9l21-44l21-14l20 2l19-12l19 6l17-10l17-7l17-29l31-31l30-47l28 24l26 2l25-12l24 6l22 2l22-2l21 6l20 6l19-25l18 5l18-18l17 18l16 7l24 8l23-24l22 3l20 2l20 6l19 15l19-12l17-15l17-10l17-10l21-31l20-16l20-5l19 5l18 16l17-5l17 8l16 10l20-8l19-10l18 3l17 3l17 4l16-21l19 28l18 11l18 8l17 2l16 4l18 12l18-2l17 9l17 2l18-12l18 9l16-9l17-1l18 8l17 9l16 5l16-10l18 3l16 4l16 1l17 3l17 10l17-3l17 12l16-3l17 3l17 3l17 4l16-10l18 2l16-7l17 5l16-6l17 3l17 2l16 0l17 4l16-2l17 0l16 3l16-1l17 6l16 8l17 0l16-7l17-5l16 2l16 0l16 2l16-3l16 1l17-4l16-2l16-8l12 0"/>
<path d="M0 -1288l338-586l197 270l140 208l109 218l89 144l75-135l65-13l57 39l52-26l46 16l42 47l39-68l37 39l33-30l32 13l29-18l28-40l26 14l25-11l24-100l23 13l21-12l21-31l20-3l19-5l19-40l17 23l17-4l17-10l31-51l30-53l28 37l26-26l25 36l24-18l22 7l22-3l21-42l20-3l19-16l18 1l18-10l17-14l16 15l24-24l23-6l22-1l20-10l20 11l19 11l19-1l17-11l17-1l17-3l21-33l20 3l20-10l19-12l18-17l17-1l17 6l16-2l20 11l19 7l18-15l17 1l17 28l16 5l19 3l18-12l18-7l17 2l16 3l18-14l18-7l17-2l17-5l18-1l18-4l16-8l17 20l18 10l17 3l16-2l16-6l18-4l16-3l16-4l17-8l17-4l17-4l17-1l16 4l17-6l17-11l17 13l16 8l18 0l16-4l17 6l16 3l17-8l17 1l16-7l17-2l16 2l17-8l16-7l16-6l17 2l16-1l17 5l16 12l17-3l16-5l16 4l16-1l16-10l16-8l17 1l16 1l16-3l12-5"/>
<path d="M0 -1288l338-192l197-100l140 252l109 26l89-225l75 32l65-12l57-58l52 126l46-69l42-55l39 29l37 5l33-21l32 14l29-21l28-53l26-16l25 43l24 0l23 35l21 5l21 11l20 13l19 12l19-13l17 13l17-8l17-8l31-4l30 16l28 37l26 29l25-39l24-27l22 7l22-33l21-6l20 11l19-3l18-26l18-14l17-7l16-3l24 8l23 8l22-14l20-6l20 9l19 2l19 0l17-11l17-23l17-7l21-15l20 6l20 2l19 4l18 2l17-11l17-5l16 6l20-4l19 1l18-4l17 3l17-7l16 14l19-29l18 8l18 0l17 9l16-3l18 3l18-5l17-5l17 10l18-10l18-3l16 10l17 7l18 13l17 14l16-1l16-12l18-11l16 2l16-1l17-2l17-14l17-5l17-6l16-1l17-10l17-15l17 8l16 3l18 5l16 5l17-4l16-3l17 2l17 4l16 6l17 0l16 2l17 2l16-7l16-3l17-2l16 2l17-2l16 5l17-1l16 1l16-5l16-1l16 3l16-3l17 7l16-5l16-3l12-4"/>
<path d="M0 -1288l338-393l197 95l140-435l109 62l89-38l75-125l65 128l57-62l52 75l46 120l42 27l39 16l37-64l33-23l32 20l29 28l28 13l26 81l25 36l24 48l23 7l21 6l21-14l20-13l19-2l19 18l17 41l17 26l17-41l31 8l30-7l28 36l26 8l25 25l24 19l22 21l22-3l21-15l20-30l19-30l18 25l18 0l17-9l16-7l24-35l23-19l22 1l20 25l20 2l19 17l19-24l17 8l17-6l17-11l21-5l20-1l20 12l19 10l18 5l17-2l17 1l16-13l20 7l19-2l18 12l17 1l17 3l16 8l19-18l18-20l18 14l17-20l16-3l18-6l18-1l17-6l17-6l18-5l18 6l16 0l17 4l18-3l17-9l16 5l16 1l18 1l16 10l16 6l17-2l17-3l17-5l17 9l16 0l17-3l17-5l17-11l16-4l18-6l16-1l17-6l16-1l17 2l17 5l16 5l17 13l16 2l17-1l16 0l16 1l17 3l16-8l17-1l16-11l17 0l16-4l16 3l16 6l16 10l16-3l17 0l16-4l16-2l12 0"/>
<path d="M0 -1288l338-200l197 170l140 4l109-87l89 19l75 62l65-79l57 22l52 4l46-75l42 17l39-15l37-30l33-6l32-73l29 27l28 0l26-22l25 1l24-41l23 17l21 34l21 20l20-34l19 0l19 1l17 6l17 0l17 8l31 7l30 1l28-25l26-15l25 8l24 1l22-19l22-42l21-19l20-9l19-7l18 14l18-7l17 18l16 1l24-21l23-22l22 1l20 1l20-11l19 6l19 20l17 3l17-1l17 4l21 7l20-3l20-15l19-4l18 4l17 17l17 12l16-5l20-26l19-12l18 17l17-7l17 7l16 13l19 13l18-10l18-29l17-6l16 9l18 4l18-5l17-10l17 4l18-2l18 3l16-4l17-8l18-11l17-4l16 1l16-8l18-3l16-1l16 2l17-15l17-23l17 18l17 11l16 4l17-5l17-10l17-3l16-4l18-1l16 8l17 10l16 7l17 4l17-8l16-1l17-4l16 1l17 4l16-8l16 9l17 2l16-1l17 9l16 2l17-4l16-6l16-5l16 8l16 3l16-4l17 6l16-2l16 9l12-5"/>
<path d="M0 -1288l338-1155l197 81l140 146l109 161l89-111l75 105l65 131l57-27l52-62l46-65l42 63l39 59l37 59l33-13l32-40l29 21l28 91l26-16l25 30l24-12l23 35l21 13l21-29l20-8l19 13l19 1l17 16l17 4l17 17l31 51l30-2l28 27l26-22l25-16l24 7l22-13l22-47l21 10l20-3l19-2l18-10l18-13l17 4l16-29l24 20l23 4l22-1l20 20l20 18l19 1l19 12l17 21l17 9l17 10l21 3l20 25l20 23l19 14l18 11l17-21l17 3l16 5l20-5l19-6l18-9l17-21l17-3l16 6l19-5l18-1l18 4l17 0l16 8l18 6l18-17l17 6l17-10l18 6l18 16l16-12l17-16l18 5l17-10l16-8l16 3l18 2l16 4l16-3l17 1l17-5l17 6l17 2l16 5l17 0l17 5l17 2l16 1l18 4l16-5l17-5l16-15l17 4l17 3l16 6l17 3l16 9l17-5l16 4l16 2l17-9l16-10l17 1l16-7l17-4l16-1l16-4l16 2l16-1l16-5l17 5l16-1l16 4l12 4"/>
<path d="M0 -1288l338 315l197-269l140-414l109-99l89-138l75 120l65 66l57-32l52 33l46-52l42 32l39-66l37 61l33-43l32 64l29-43l28-3l26-15l25 13l24-41l23 7l21-2l21 5l20-53l19 6l19-19l17-32l17 35l17 18l31 14l30 2l28 5l26-2l25-14l24 41l22-6l22-5l21-45l20-11l19 16l18-3l18 24l17 12l16 21l24 23l23 0l22 43l20 25l20 12l19-19l19 11l17 16l17-7l17-4l21 4l20 1l20-3l19-4l18-4l17 8l17-3l16 18l20-33l19 2l18-7l17 12l17-5l16 3l19 5l18-3l18 0l17-5l16 7l18-10l18 5l17 0l17 3l18-8l18 5l16 9l17 1l18 6l17-10l16-6l16 0l18 12l16-2l16 0l17 5l17 2l17-9l17-2l16-7l17-9l17-8l17 2l16 7l18 1l16 0l17-2l16 0l17 3l17 0l16 3l17-1l16 2l17-3l16 2l16 1l17-3l16-7l17-3l16-1l17 0l16 4l16-4l16 3l16 0l16-8l17 13l16-1l16 2l12 4"/>
<path d="M0 -1288l338-571l197 158l140-237l109 26l89 73l75 89l65 131l57 25l52 94l46 109l42-56l39 53l37-50l33 27l32 51l29-20l28-110l26 32l25-26l24-2l23 0l21-20l21 4l20-28l19-49l19-52l17-25l17 4l17 12l31-34l30-32l28 8l26 28l25 6l24 15l22 4l22-6l21 15l20-31l19 2l18 1l18 14l17-9l16-3l24-19l23-40l22 17l20 9l20 9l19 12l19-4l17-6l17-2l17-8l21-1l20-24l20 7l19-12l18-14l17 3l17-8l16 25l20 0l19-11l18-7l17 8l17-1l16-4l19 7l18 7l18-13l17 12l16 12l18 12l18 6l17-7l17 4l18-8l18-14l16-9l17 10l18-11l17 11l16-16l16-9l18 18l16-9l16-2l17-2l17-1l17 0l17-4l16 9l17 2l17 1l17 1l16 3l18-7l16 0l17 5l16-1l17 4l17 1l16-5l17-3l16 4l17 7l16 2l16-5l17-9l16-3l17 7l16-6l17-10l16 8l16 5l16-1l16 3l16-2l17 3l16 8l16 6l12-3"/>
<path d="M0 -1288l338-374l197 451l140-314l109-83l89 16l75-68l65-26l57-59l52 79l46 47l42-102l39 23l37 4l33-28l32 7l29 3l28-21l26 13l25 51l24 3l23-10l21-26l21 54l20 8l19-6l19-17l17 2l17 16l17-7l31-16l30 6l28-21l26-7l25 3l24 5l22-40l22 0l21 10l20-14l19 20l18 27l18-12l17-6l16-13l24-33l23 9l22 12l20-6l20 18l19-2l19 1l17-1l17 1l17 11l21 5l20-6l20 14l19 5l18 12l17 5l17-7l16 13l20 3l19 2l18-10l17-2l17 20l16-2l19-2l18-1l18-12l17 13l16-10l18-1l18-5l17 19l17-24l18-5l18 9l16-5l17-1l18-9l17-5l16 4l16-2l18-1l16 0l16 0l17 9l17-3l17 8l17-3l16-1l17 8l17 4l17-4l16 3l18 8l16-4l17-5l16-2l17 1l17 6l16-3l17 4l16-5l17-4l16-5l16 10l17 3l16-4l17 2l16-7l17 5l16 1l16 3l16-3l16-7l16 2l17-7l16-5l16-1l12-1"/>
<path d="M0 -1288l338-244l197 62l140-351l109 50l89-286l75 143l65-65l57 16l52 93l46 38l42 52l39-28l37-14l33-52l32-53l29 87l28-60l26 56l25 20l24-7l23 10l21 56l21 37l20-4l19 2l19 42l17 1l17-98l17-4l31 46l30 16l28 16l26-31l25 6l24 46l22-16l22-6l21-8l20 9l19-19l18-21l18-14l17 29l16 28l24-49l23-7l22-10l20-16l20 16l19 26l19-1l17 4l17 14l17 10l21 22l20 17l20 25l19-10l18-11l17-3l17-17l16-10l20 4l19 1l18 13l17-3l17 11l16 9l19-8l18-1l18 6l17-22l16 8l18-28l18 5l17 2l17-4l18 4l18-1l16 2l17-4l18 0l17 5l16-6l16-2l18-4l16-5l16-3l17-3l17 10l17 18l17-10l16-11l17 8l17 6l17-5l16-8l18-7l16 4l17 10l16-8l17 0l17-3l16 8l17-4l16 5l17 1l16 6l16-4l17-2l16 3l17 6l16-1l17-1l16 7l16 2l16-7l16-1l16 4l17 5l16 1l16-1l12-5"/>
<path d="M0 -1288l338-1007l197 428l140 141l109 138l89 126l75-21l65 27l57-166l52-26l46 85l42 56l39 17l37 41l33-68l32-22l29-49l28 5l26 50l25-23l24-32l23 11l21 32l21-9l20 0l19-37l19-70l17 30l17-34l17-17l31-7l30 39l28 5l26 24l25 41l24-57l22-26l22 34l21 3l20 4l19 16l18-2l18-2l17-14l16 8l24-13l23 13l22-5l20-4l20-43l19 26l19 3l17-23l17 7l17 7l21-11l20 22l20-6l19 18l18-13l17 6l17 2l16 12l20-1l19 20l18-7l17 1l17 17l16 2l19-2l18 4l18 3l17-14l16-3l18-9l18-13l17-9l17-2l18 16l18-6l16-7l17 12l18-22l17-5l16-4l16-5l18-3l16-11l16 3l17 2l17-3l17 8l17 1l16-9l17-1l17 1l17 0l16 4l18 2l16 5l17 2l16 0l17-10l17 1l16-9l17 8l16-7l17-2l16 7l16-5l17-7l16 4l17-4l16-3l17-2l16-3l16 5l16 2l16 2l16-4l17-1l16 3l16-2l12 1"/>
<path d="M0 -1288l338-653l197 93l140-255l109-51l89 33l75 51l65 69l57 131l52 77l46 88l42-30l39-27l37-14l33-41l32 36l29 48l28 79l26 34l25-15l24-28l23-22l21-5l21-7l20-2l19-37l19-28l17-4l17 9l17-18l31 23l30 42l28 20l26-45l25-13l24 0l22-4l22 19l21 0l20 2l19-12l18-12l18-18l17-11l16 9l24 1l23 12l22-26l20 25l20 7l19-13l19 15l17-7l17-8l17 15l21 15l20 3l20-11l19 13l18 19l17 12l17-3l16-1l20-29l19-11l18 7l17 7l17-13l16-10l19 11l18 3l18-3l17 7l16 1l18-2l18 12l17-9l17 13l18-7l18 4l16-5l17 17l18-16l17 8l16-10l16-5l18 7l16-4l16-2l17 6l17 5l17-3l17-2l16 20l17 7l17-6l17 3l16-12l18 4l16 1l17 1l16 9l17 3l17 7l16 7l17-5l16 1l17 6l16-7l16-1l17-2l16-6l17-4l16-3l17 0l16-1l16 10l16 6l16-4l16 3l17 4l16-10l16 0l12-5"/>
<path d="M0 -1288l338 234l197-243l140-80l109 213l89-83l75-88l65-45l57-58l52 21l46-61l42-49l39 44l37 84l33-45l32-29l29-35l28-27l26-25l25 8l24 25l23 16l21-54l21-6l20-21l19 1l19-36l17-23l17-13l17 0l31 12l30-21l28-71l26 5l25-19l24 32l22 4l22-47l21-11l20 11l19 10l18-17l18 4l17 4l16-23l24 12l23-13l22-25l20 11l20 17l19 14l19 10l17 19l17-9l17-6l21 4l20 15l20 6l19-16l18 5l17 2l17-6l16 5l20-19l19 3l18 14l17 9l17 11l16 1l19 3l18-24l18-6l17-14l16-15l18 5l18 2l17-1l17-7l18 11l18-2l16 9l17 0l18-1l17-3l16 23l16 4l18 1l16-1l16-13l17 4l17 11l17 5l17 1l16-1l17 6l17 10l17 4l16 0l18 1l16-10l17 2l16 6l17-1l17-1l16 8l17-1l16-1l17 2l16-2l16 1l17-5l16-2l17 1l16 3l17 4l16 8l16 3l16-6l16-2l16 5l17-1l16 4l16-2l12 4"/>
<path d="M0 -1288l338-414l197 464l140-143l109-116l89 18l75 148l65 23l57-104l52 43l46-107l42-70l39 7l37-11l33-29l32-25l29-38l28-4l26-16l25-22l24-4l23-56l21-23l21-22l20 4l19 27l19-13l17 34l17-11l17-41l31 15l30-5l28-21l26 39l25 16l24-5l22 9l22 10l21-7l20 9l19-6l18 17l18-9l17 36l16 3l24-26l23-8l22-11l20-10l20-26l19 1l19-2l17-24l17-25l17-16l21-1l20 10l20 6l19 7l18 19l17-25l17 5l16 15l20 3l19 28l18 7l17 7l17 8l16 1l19 4l18 21l18 9l17-9l16 8l18-12l18 1l17 9l17-13l18-3l18 24l16 9l17 5l18-4l17-7l16-2l16 4l18 4l16 0l16-12l17 5l17 1l17 2l17-13l16 0l17 0l17-2l17 11l16 8l18 2l16-2l17-4l16-6l17 6l17-6l16 0l17 2l16 19l17 1l16 1l16-3l17 5l16 0l17-7l16 0l17-6l16 4l16-5l16-1l16 2l16-2l17-1l16 1l16 4l12 0"/>
<path d="M0 -1288l338-364l197 313l140-158l109-162l89 121l75-122l65-23l57 118l52-87l46-64l42-32l39 15l37 44l33 14l32-18l29-84l28 22l26-18l25 7l24 32l23 38l21 39l21-31l20-6l19 34l19 17l17 5l17-14l17-30l31 33l30 14l28 37l26-39l25 9l24-15l22-12l22 17l21-22l20 19l19-4l18 5l18 13l17 14l16-2l24-18l23-34l22-4l20 3l20-19l19-13l19-3l17 16l17-1l17 2l21-6l20 1l20-6l19-2l18-8l17-3l17 4l16 19l20-2l19 11l18 4l17 7l17 19l16 2l19 1l18-5l18-13l17 2l16 13l18-8l18 13l17 3l17 2l18-6l18 9l16-6l17 13l18-7l17 7l16-6l16-15l18 10l16-3l16-5l17-2l17-6l17-2l17 1l16-8l17 1l17-7l17-6l16 1l18 14l16-11l17-1l16 0l17 2l17-2l16 2l17 1l16-1l17-2l16-8l16-9l17 1l16 4l17-2l16-4l17-2l16-8l16 0l16-3l16 0l16-3l17-1l16 3l16 1l12 1"/>
<path d="M0 -1288l338-635l197 96l140 146l109-187l89-147l75-28l65 142l57-147l52 33l46 4l42 79l39 13l37 20l33 106l32 2l29 5l28-36l26 33l25 27l24 8l23-24l21 55l21-21l20 16l19-18l19 12l17-16l17 48l17-4l31-11l30 14l28-42l26 6l25 3l24-15l22 20l22-22l21 16l20 11l19 44l18 7l18-16l17 2l16-3l24 0l23 27l22 6l20 8l20-19l19-28l19 20l17 10l17-16l17-8l21 21l20-13l20 16l19-11l18-12l17-29l17 13l16 1l20 10l19-15l18-2l17-2l17-1l16 2l19-4l18-3l18 10l17-2l16-1l18 3l18 0l17 5l17 10l18-17l18 4l16-5l17 0l18 4l17 5l16 4l16-5l18 4l16-10l16 6l17-1l17 8l17-13l17-2l16 2l17 1l17 13l17 9l16 2l18 4l16-4l17 0l16-4l17-5l17-2l16 2l17 2l16 3l17-1l16 1l16 3l17 4l16-4l17 3l16-4l17 5l16-8l16 2l16 1l16 7l16-2l17 2l16 5l16 2l12-1"/>
<path d="M0 -1288l338-798l197 167l140-30l109-67l89-86l75 33l65-12l57-70l52 184l46 64l42 22l39-29l37 11l33 32l32 16l29 30l28 46l26 49l25 32l24-12l23-8l21-1l21 0l20 29l19-6l19-20l17 35l17 42l17-3l31-20l30-25l28 16l26-27l25 28l24-20l22 7l22 14l21 23l20-1l19-12l18-23l18 0l17 6l16-3l24 13l23 11l22-2l20 17l20-12l19-3l19-4l17 10l17-11l17-3l21-11l20-10l20 11l19-8l18-4l17 0l17-5l16 9l20-3l19 6l18 20l17 5l17-1l16 9l19-9l18-9l18 3l17 6l16-14l18-4l18-1l17 7l17 2l18 7l18-5l16 0l17-2l18-2l17-12l16 10l16-8l18-3l16 2l16 4l17 5l17-1l17 3l17 7l16 4l17-10l17-9l17 0l16 4l18-1l16 0l17 4l16-5l17-3l17 3l16-5l17 4l16-2l17-6l16 1l16-5l17-1l16-1l17 2l16 5l17 1l16-8l16 1l16-3l16-7l16 4l17-7l16-2l16 1l12-2"/>
<path d="M0 -1288l338-236l197 203l140 25l109 176l89-53l75-197l65-59l57-71l52-87l46-22l42-66l39 40l37 44l33-1l32 71l29 4l28-24l26-26l25 14l24 12l23-7l21-2l21 26l20 21l19-20l19-14l17 6l17-35l17 3l31-28l30-45l28-29l26-12l25 10l24 26l22-7l22 11l21 8l20 13l19 5l18 12l18-1l17 14l16-20l24-13l23 4l22-13l20-2l20-6l19-5l19-8l17 4l17 16l17-15l21-12l20-3l20-9l19 12l18 11l17 3l17 12l16 13l20 18l19 9l18 5l17 27l17-10l16 0l19-1l18 10l18-2l17-14l16 0l18-2l18-16l17-2l17 7l18 10l18-8l16 2l17 1l18 3l17-13l16 2l16 5l18 11l16 0l16 2l17 9l17-11l17-9l17-1l16-2l17-8l17-8l17 15l16-9l18 8l16 2l17-3l16-9l17-1l17 5l16 2l17 0l16 4l17-8l16 1l16-2l17-4l16-9l17 1l16-3l17-3l16 0l16-1l16-5l16 1l16-11l17 3l16-3l16-5l12 1"/>
<path d="M0 -1288l338 475l197-47l140-226l109-190l89-73l75-255l65-18l57-6l52 46l46 48l42 57l39 23l37-148l33-41l32-2l29 3l28 74l26-38l25-15l24-36l23-63l21-21l21-2l20 17l19-13l19 18l17 37l17 47l17-26l31 62l30 13l28-1l26-27l25 16l24-87l22-15l22 12l21-9l20-37l19-3l18 1l18 12l17 12l16-4l24 43l23 17l22-21l20-9l20-1l19-24l19 26l17 6l17-10l17-5l21 2l20 6l20 7l19-7l18 6l17 2l17 9l16 4l20-10l19 20l18-1l17 3l17-3l16-4l19 2l18 0l18-1l17 1l16-7l18 3l18 8l17-1l17 5l18-6l18-1l16 7l17 1l18-10l17 3l16-2l16-12l18 6l16-8l16 2l17-6l17 0l17-7l17-1l16 2l17-10l17-2l17 10l16-13l18 6l16-1l17-6l16-12l17 2l17 7l16 7l17-2l16-11l17 4l16 0l16 7l17-2l16-1l17 8l16 1l17 4l16 4l16-1l16 0l16 0l16-2l17-5l16 6l16-1l12 4"/>
<path d="M0 -1288l338-218l197 242l140-36l109-239l89-152l75 54l65-14l57 28l52-19l46-66l42 73l39 79l37-46l33-6l32-14l29-40l28 17l26-35l25 3l24-21l23-41l21 29l21-7l20 39l19-68l19-36l17-5l17 5l17 2l31-43l30-12l28 55l26 30l25-54l24 20l22 6l22 21l21-25l20 22l19 8l18-42l18 16l17 3l16 20l24 23l23-19l22 13l20-3l20-27l19 14l19 7l17-6l17-19l17-3l21 10l20-10l20-9l19-9l18 0l17-1l17-16l16 5l20-12l19-11l18 11l17-1l17 5l16-7l19 1l18-1l18 7l17 4l16 16l18 5l18 27l17-11l17-11l18 2l18 3l16 1l17-2l18 15l17 5l16 14l16 8l18 6l16-10l16-1l17 1l17-5l17-9l17 5l16 6l17-1l17 6l17-1l16-1l18-12l16 1l17 5l16 3l17-1l17 7l16-7l17-8l16 0l17 0l16 9l16-4l17-1l16 0l17-4l16 2l17 5l16 3l16 5l16-4l16-4l16 1l17 1l16 0l16 0l12 2"/>
<path d="M0 -1288l338-93l197-248l140 72l109 47l89-12l75-16l65-14l57 7l52-3l46 36l42-64l39 12l37 63l33 5l32 23l29-18l28 16l26-10l25-16l24-77l23 0l21-17l21 27l20-2l19 11l19-4l17-24l17 11l17 17l31-35l30-15l28-4l26-20l25-16l24-4l22-20l22-1l21-20l20 0l19 8l18 20l18-2l17-3l16 8l24-6l23-6l22 4l20-11l20-2l19 3l19-30l17 7l17 20l17-15l21-12l20-12l20 9l19 6l18-16l17 8l17-16l16 1l20-8l19 11l18-15l17 13l17 2l16 10l19 9l18-6l18 7l17 8l16-23l18-3l18-5l17 6l17 14l18-13l18-1l16-7l17 9l18-1l17-5l16 16l16-4l18-17l16 6l16 22l17 9l17 3l17-2l17 3l16 0l17 3l17-1l17 2l16-5l18-1l16-13l17 4l16 8l17-2l17-2l16 0l17 1l16 9l17-2l16-9l16-6l17 3l16-10l17 2l16-3l17 0l16-4l16 2l16-3l16 3l16 8l17-5l16-5l16-3l12-5"/>
<path d="M0 -1288l338 252l197-228l140-445l109 82l89 13l75 69l65 154l57 6l52-54l46-44l42-40l39-43l37 24l33-23l32 50l29-48l28-32l26 12l25 5l24-50l23-9l21 0l21-15l20 24l19-13l19 14l17-35l17-53l17 16l31 23l30-22l28 64l26-12l25 6l24 11l22 18l22-24l21-16l20 2l19 11l18-23l18 3l17 32l16-8l24 15l23-5l22-6l20-46l20-29l19-13l19 11l17-17l17 13l17 14l21-16l20 26l20-7l19 3l18-17l17 1l17 6l16 21l20-16l19-6l18-14l17-6l17-14l16 8l19 5l18 6l18 6l17 0l16 6l18 17l18 7l17-9l17-1l18-9l18 13l16 15l17-9l18-1l17 5l16 6l16 10l18 6l16 2l16 5l17 10l17 4l17 8l17-5l16-3l17-4l17-2l17-2l16 7l18-10l16 3l17-1l16-1l17-7l17-11l16-8l17-2l16 0l17 6l16-7l16 3l17-6l16 1l17-6l16 0l17 5l16 6l16-2l16-10l16 3l16-4l17 3l16-3l16 1l12-4"/>
<path d="M0 -1288l338 56l197 11l140-288l109-134l89-84l75 103l65-32l57-19l52-146l46-14l42 13l39-64l37 113l33 55l32-19l29 32l28 28l26 52l25-7l24 63l23-42l21-4l21 25l20 8l19-14l19 42l17 31l17-33l17-30l31-1l30-34l28 20l26 16l25-2l24-3l22-63l22 36l21 23l20 1l19-12l18-6l18 11l17-11l16 7l24-17l23-1l22-13l20-16l20-12l19 18l19 28l17-17l17 38l17-14l21-15l20-18l20-5l19 12l18-12l17 1l17-19l16-1l20 23l19-7l18 4l17-11l17 3l16 8l19 11l18-5l18-13l17-9l16-17l18 14l18-1l17-1l17-5l18-1l18 0l16-6l17-8l18 9l17-7l16 0l16 1l18 5l16-4l16-2l17 0l17 2l17 5l17-1l16-6l17-14l17 4l17 14l16 2l18-7l16 5l17 5l16-5l17-4l17-2l16-8l17-3l16-2l17-2l16-1l16-2l17-2l16 4l17 7l16 5l17 4l16-8l16 4l16 7l16 1l16-5l17-4l16-2l16 2l12-1"/>
<path d="M0 -1288l338 79l197-508l140 178l109-265l89 13l75-106l65-78l57 146l52-107l46 11l42 46l39 29l37 48l33 25l32 9l29 16l28 64l26 40l25-9l24-31l23 36l21-21l21 14l20-19l19 4l19-7l17 7l17-25l17-3l31-20l30 23l28-22l26 38l25-24l24 28l22 8l22 3l21-20l20-14l19 4l18 13l18-25l17 12l16 2l24-36l23 0l22 14l20 17l20 3l19-25l19 12l17 4l17-15l17 10l21 2l20 18l20 1l19-11l18 0l17 13l17 6l16 1l20-11l19-1l18-10l17-8l17 14l16-4l19-3l18 22l18-6l17 18l16 0l18 5l18 1l17 4l17-5l18 4l18-8l16 3l17 1l18 12l17-1l16 7l16 11l18-3l16-8l16 1l17-9l17 1l17-10l17-4l16-3l17 2l17-10l17-6l16 0l18-6l16 0l17 7l16 0l17-9l17-5l16 3l17 0l16-4l17 2l16-1l16-10l17 3l16 7l17-7l16 0l17-6l16 5l16-1l16-8l16 0l16-1l17 5l16-1l16-3l12-1"/>
<path d="M0 -1288l338 217l197-668l140-132l109-84l89-100l75 124l65 20l57 1l52 48l46 0l42 0l39-64l37 62l33 44l32 4l29 65l28 60l26 1l25-33l24 59l23-1l21 59l21-17l20-13l19-12l19-49l17-24l17-6l17 35l31 28l30 0l28 9l26-7l25 45l24-36l22-2l22-19l21 29l20-35l19-10l18-25l18 13l17 1l16-11l24 38l23 12l22 11l20 8l20-27l19-20l19-19l17-15l17 18l17 18l21-14l20-3l20 12l19 6l18 1l17 33l17-15l16 8l20-11l19-10l18-4l17-9l17-2l16 1l19 9l18-11l18 7l17-16l16 0l18-5l18 8l17 4l17-5l18-1l18-12l16 8l17 2l18 6l17 5l16 4l16-7l18 0l16-7l16-2l17 4l17-1l17 15l17-7l16 6l17 0l17 6l17-13l16 5l18-4l16-2l17 5l16 5l17 2l17 8l16-2l17 0l16 5l17-4l16-5l16 2l17-4l16 1l17 1l16-2l17-2l16-8l16-2l16 3l16 1l16-8l17 5l16-3l16 3l12 7"/>
<path d="M0 -1288l338-335l197-27l140-127l109 87l89 115l75-53l65 94l57 18l52-69l46 38l42-42l39 34l37 22l33-79l32-24l29-89l28-4l26-7l25 10l24-20l23-5l21-4l21 23l20 4l19 8l19 24l17 9l17-1l17 46l31-7l30-8l28 7l26 3l25-38l24-5l22-14l22-1l21 3l20-19l19-4l18-42l18 16l17 18l16 20l24-21l23 4l22 17l20-21l20-19l19-1l19-4l17 2l17 1l17 16l21 2l20 28l20-20l19 12l18 6l17-21l17 5l16 1l20-3l19 2l18-12l17 5l17-1l16-21l19 3l18-19l18 5l17-6l16 3l18 2l18-1l17 5l17 21l18-7l18 8l16 8l17 1l18 3l17 0l16 15l16-1l18-13l16-21l16-3l17 2l17-1l17-3l17 0l16 9l17-2l17 8l17 3l16 2l18-5l16-11l17 9l16 8l17 0l17-1l16 9l17 2l16 1l17 2l16 5l16-4l17 10l16-2l17 1l16 1l17 0l16-3l16 1l16-1l16-2l16 2l17 4l16 2l16 4l12-3"/>
<path d="M0 -1288l338-103l197-370l140 159l109-41l89 81l75-137l65-86l57 2l52 45l46 9l42 63l39-36l37-24l33-8l32-19l29 81l28 2l26 45l25-108l24 30l23-42l21 14l21-1l20 7l19 45l19-4l17 5l17 47l17-38l31 7l30 27l28 7l26-39l25 36l24-36l22-11l22 27l21 9l20 4l19-33l18 42l18 8l17 21l16-8l24-10l23-11l22-18l20-22l20-16l19 7l19 3l17 0l17-1l17-9l21 1l20 30l20 0l19-8l18-11l17 13l17 9l16 14l20 7l19 12l18 13l17 2l17-19l16-3l19-1l18 0l18-6l17 6l16-1l18-10l18-3l17-3l17-10l18-8l18-1l16-2l17 8l18-6l17-3l16-1l16-2l18-8l16-5l16-15l17-1l17 7l17-3l17-14l16 11l17-4l17-7l17-1l16-7l18-5l16 7l17-5l16 0l17-5l17-7l16 2l17-11l16 1l17-4l16 2l16 6l17-4l16 7l17-3l16 0l17 0l16 1l16-8l16-2l16-2l16 3l17 0l16-1l16-3l12 2"/>
<path d="M0 -1288l338 272l197 22l140 64l109-313l89-133l75 1l65-12l57-63l52-112l46-9l42-4l39 41l37 25l33-8l32-53l29 21l28 69l26 9l25-52l24-20l23-66l21-72l21-66l20-2l19 15l19-8l17 16l17 5l17-17l31 10l30-12l28-22l26 54l25-2l24-32l22 1l22 7l21 3l20-23l19 1l18 10l18-14l17-1l16-13l24-1l23 49l22-14l20 16l20 1l19-17l19 30l17 24l17-3l17 31l21-14l20-11l20 1l19 17l18-14l17-21l17 0l16-14l20-12l19 6l18 10l17-10l17 3l16-17l19 18l18 1l18-3l17 16l16 9l18 5l18 11l17-2l17 0l18 5l18 1l16-13l17 7l18 1l17 7l16 5l16 4l18-7l16 2l16 6l17-10l17 6l17 9l17-11l16-7l17-6l17-5l17-1l16 3l18-10l16 1l17 5l16 4l17-3l17-11l16 1l17 4l16-2l17-8l16 6l16 7l17 1l16-6l17-6l16 6l17 8l16 0l16-10l16-2l16-8l16 3l17-4l16-2l16 3l12 1"/>
<path d="M0 -1288l338-317l197 74l140 144l109-253l89 133l75-54l65-221l57 0l52-8l46 50l42 56l39 42l37-18l33 8l32 74l29-60l28 27l26 8l25 65l24-4l23 28l21 17l21-2l20-36l19-37l19 18l17-21l17-2l17 5l31-58l30 34l28 0l26-28l25-23l24-12l22-12l22 13l21-29l20 2l19-13l18-27l18 7l17 6l16-1l24 5l23-21l22-12l20 4l20 13l19-38l19 7l17 6l17 8l17-2l21 8l20 20l20-8l19-6l18-9l17 13l17-18l16-4l20-6l19 15l18 5l17 13l17 1l16 6l19-11l18 10l18 4l17-8l16 6l18-4l18 15l17-2l17 0l18-7l18-24l16-8l17 7l18-14l17-6l16-3l16 5l18 9l16 1l16-7l17-4l17-9l17 3l17 13l16 8l17-6l17-3l17 3l16 2l18-4l16-8l17-11l16-2l17 0l17 1l16-3l17-4l16 1l17-2l16-2l16-2l17 6l16 9l17-3l16-3l17 1l16 2l16 7l16 10l16-2l16 0l17-2l16 4l16 2l12 0"/>
<path d="M0 -1288l338 3l197-363l140-70l109-230l89-49l75 3l65 40l57 87l52-38l46 12l42 6l39-31l37-45l33 9l32 49l29-24l28-19l26 34l25 64l24 35l23-6l21-7l21 8l20 14l19 32l19 7l17-28l17 29l17-8l31 8l30 21l28-24l26-8l25 50l24 2l22-33l22-17l21 11l20-18l19-4l18 7l18 20l17 5l16 17l24-4l23 7l22-4l20 16l20 13l19-18l19 4l17 29l17 17l17-1l21-13l20 14l20-7l19 21l18 15l17 14l17-7l16-5l20 5l19-16l18-9l17-1l17-3l16-17l19-12l18 10l18-5l17-29l16 10l18-12l18 8l17 3l17-8l18-11l18 1l16 5l17 2l18-5l17 3l16 3l16-2l18-1l16-1l16 5l17 5l17 2l17 10l17 9l16-4l17 3l17-11l17-1l16-3l18 4l16-3l17 7l16-4l17-2l17-2l16 1l17 5l16 12l17-4l16-2l16-1l17 7l16 2l17 3l16 1l17 4l16 0l16-3l16 3l16 3l16-1l17 2l16-10l16-5l12-3"/>
<path d="M0 -1288l338-17l197-221l140 24l109 11l89 23l75-94l65-65l57 39l52-56l46-35l42-10l39-35l37-19l33 44l32 67l29 33l28 61l26 19l25 8l24-11l23-6l21-38l21 8l20-30l19 23l19-34l17-13l17-39l17-7l31 23l30-11l28-38l26-2l25 7l24 48l22-38l22-7l21 0l20-6l19 6l18-24l18-9l17 1l16-12l24-26l23 25l22 17l20-9l20 16l19 12l19-15l17-34l17-23l17-6l21-12l20 10l20-16l19-11l18-2l17 13l17-2l16-18l20 2l19 16l18 18l17 8l17 9l16 17l19 4l18-6l18 7l17 0l16 8l18 5l18-17l17 5l17-6l18 4l18 7l16-11l17 0l18 5l17-4l16-2l16 14l18 6l16 10l16-5l17-3l17-8l17-1l17-5l16 6l17 1l17-7l17-2l16 4l18 5l16-9l17-2l16 2l17 9l17 0l16-3l17 2l16-7l17 5l16 6l16 2l17 7l16-1l17 1l16-2l17-2l16 1l16 4l16 6l16 3l16 12l17-1l16 1l16 5l12-5"/>
<path d="M0 -1288l338-517l197 101l140-200l109 40l89-108l75 55l65 35l57 18l52-28l46-41l42 6l39 40l37 30l33-53l32-20l29 27l28-22l26 40l25 10l24 36l23 18l21-72l21-12l20 0l19 17l19 26l17 31l17 10l17 38l31 45l30 8l28-6l26 11l25-9l24 19l22 12l22 23l21-5l20-3l19-26l18 12l18 11l17-8l16 1l24 30l23-20l22 27l20-15l20-5l19-27l19 21l17 35l17 14l17-2l21-6l20 10l20-6l19 0l18 20l17-3l17-12l16-12l20 10l19-27l18-2l17-23l17 6l16-12l19 13l18-21l18 16l17 0l16-6l18 10l18-4l17-2l17 1l18-1l18-2l16 1l17 1l18 7l17 2l16-9l16 2l18 3l16-10l16 0l17-7l17-1l17-3l17-3l16 0l17 13l17-5l17-1l16 1l18 0l16 4l17-5l16-2l17-5l17 5l16-4l17 9l16-4l17-4l16-2l16 4l17 6l16-5l17 8l16 6l17-10l16-5l16 2l16-3l16 8l16-4l17-3l16-7l16 2l12-2"/>
<path d="M0 -1288l338 45l197-22l140-152l109-60l89-227l75 190l65-117l57-82l52 19l46 74l42 22l39-56l37 21l33-3l32-49l29-62l28 3l26 30l25-35l24 5l23-26l21 13l21 27l20 13l19-28l19 8l17-7l17 11l17-1l31-2l30-32l28 0l26 20l25 18l24-21l22-3l22-4l21 6l20 41l19-23l18-9l18 11l17-6l16 0l24-10l23-10l22-2l20 0l20 2l19 1l19 2l17 16l17 12l17 18l21 2l20 7l20-7l19-8l18 13l17 1l17-22l16-20l20-7l19-7l18 8l17 24l17 0l16-7l19 4l18 12l18 14l17-9l16 14l18 1l18-18l17 17l17 6l18 8l18 7l16-6l17-10l18 6l17 1l16 6l16-1l18-14l16-3l16 12l17 0l17 14l17-1l17 1l16-2l17 6l17 1l17-3l16 0l18-4l16-7l17-6l16-7l17-2l17-6l16 8l17 1l16-2l17 0l16 2l16 11l17-10l16-3l17 3l16-2l17-6l16-1l16-2l16 1l16-3l16-6l17-7l16-6l16-1l12-4"/>
<path d="M0 -1288l338-271l197-149l140 200l109-126l89-81l75 14l65 58l57 10l52 41l46-20l42-26l39-13l37 36l33-40l32 8l29 0l28 19l26 10l25 8l24 55l23 16l21-21l21-14l20 18l19-28l19-12l17 3l17 24l17 12l31-16l30-2l28 13l26-35l25-16l24 8l22-12l22-8l21 6l20 12l19 1l18-14l18-20l17 2l16 5l24-35l23-20l22-7l20 27l20-22l19 2l19 6l17 6l17-11l17-11l21 14l20-3l20-3l19 3l18-5l17 12l17-18l16-14l20-18l19 19l18 8l17 10l17-1l16 7l19 2l18-1l18-3l17-4l16 11l18-8l18 6l17-12l17 2l18 4l18-4l16-9l17 8l18 2l17-7l16 6l16-3l18-4l16-3l16-4l17 6l17 10l17 4l17 14l16 0l17 1l17-15l17 4l16 10l18-2l16 3l17-3l16-4l17 2l17-18l16 0l17-5l16-2l17 1l16 5l16 0l17-2l16-3l17-5l16 4l17-10l16 0l16 2l16-1l16 6l16 5l17-4l16 1l16-6l12-1"/>
<path d="M0 -1288l338-930l197-121l140 245l109-147l89 62l75 242l65-6l57 88l52-58l46 22l42 1l39 28l37-11l33-29l32 89l29 45l28 40l26 5l25 2l24-38l23 46l21 0l21 0l20-44l19-12l19 53l17 17l17-20l17-28l31-24l30-31l28-11l26-11l25-11l24-3l22 28l22-12l21 24l20-5l19 8l18 14l18-24l17-4l16 7l24-41l23 3l22 7l20 17l20 32l19-2l19 8l17 15l17-12l17 1l21-4l20 13l20 21l19-5l18-4l17 5l17 3l16 13l20-8l19 7l18-7l17-7l17 13l16-3l19-1l18-7l18 22l17 5l16-10l18-14l18 1l17 4l17 3l18 14l18-1l16-2l17 4l18-3l17 0l16 0l16 2l18 0l16 0l16 1l17 2l17 1l17 5l17 6l16 1l17 1l17 8l17-3l16 0l18 1l16 8l17 7l16 5l17 7l17 3l16 1l17-3l16-5l17 7l16-1l16-3l17-2l16 1l17 0l16-2l17-1l16 0l16 3l16-1l16 2l16 8l17-4l16-1l16-6l12 0"/>
<path d="M0 -1288l338 68l197 266l140-391l109 27l89 60l75 51l65-26l57 81l52 33l46-10l42-31l39-48l37 4l33-20l32 1l29 13l28 1l26 8l25-73l24-41l23-20l21-18l21 9l20-91l19 20l19-3l17-18l17-30l17-2l31-12l30-19l28-1l26 30l25-27l24 14l22-9l22-33l21-9l20 0l19 6l18-9l18-20l17 5l16 11l24-12l23-2l22-21l20-13l20-2l19-20l19 0l17-31l17 14l17-4l21-21l20-7l20 15l19-12l18 8l17-9l17-14l16 2l20 31l19 5l18 0l17 5l17-32l16 10l19-4l18-8l18 1l17-6l16-8l18 1l18-1l17-3l17 12l18-8l18-12l16 5l17 0l18 2l17-4l16-2l16 5l18-14l16 8l16 5l17 1l17-7l17 16l17-11l16-6l17 0l17-10l17 2l16-10l18 1l16-3l17-7l16 13l17-1l17-1l16 3l17-4l16-1l17 0l16-3l16 1l17 0l16-1l17 1l16-2l17-10l16-1l16 1l16-1l16 4l16 4l17 1l16-3l16 2l12 7"/>
<path d="M0 -1288l338-37l197-464l140-242l109 72l89-3l75 33l65 108l57 43l52-41l46-13l42 70l39-6l37-18l33-24l32 52l29-10l28-65l26 47l25 44l24 5l23 15l21 37l21-52l20 52l19 40l19 1l17-25l17-18l17 9l31 0l30 15l28-21l26-18l25-6l24 13l22-5l22 5l21-23l20-36l19-19l18 33l18 51l17-5l16 34l24 0l23-26l22 3l20-23l20 1l19 3l19-7l17-12l17 1l17 1l21 1l20-6l20-15l19 2l18 8l17-6l17 9l16 20l20 0l19 1l18 14l17 4l17 2l16-1l19-10l18-4l18 21l17-5l16-1l18-14l18 5l17-23l17 9l18-3l18-11l16-4l17-1l18-15l17 0l16 13l16 7l18-2l16-17l16-10l17-3l17 8l17 1l17-7l16 4l17 13l17-10l17 5l16 4l18 2l16-6l17-8l16 3l17 3l17 2l16 3l17 1l16 8l17 7l16-3l16-5l17-4l16-3l17 10l16-1l17-1l16 3l16-3l16-8l16-2l16-7l17 2l16 5l16 2l12 2"/>
<path d="M0 -1288l338 397l197-321l140-361l109-148l89 115l75 123l65 55l57 124l52-29l46-42l42-73l39-56l37-36l33 0l32 5l29 42l28-20l26-66l25 18l24-17l23-31l21-46l21-26l20-16l19 4l19-33l17 1l17 3l17 30l31 26l30-12l28-41l26 13l25 22l24 52l22-1l22-20l21 23l20 23l19 16l18-19l18-37l17-18l16-10l24 15l23 32l22-17l20-8l20-3l19 8l19-25l17-5l17 14l17 2l21 3l20-2l20 0l19 11l18 14l17 11l17-8l16-1l20-11l19-14l18-6l17-11l17 8l16 0l19 6l18 5l18-12l17 9l16 4l18-9l18 2l17 2l17-9l18-3l18-4l16 11l17 2l18-3l17-4l16 10l16-6l18 5l16 7l16-3l17-6l17 3l17-2l17 0l16 6l17 9l17-1l17-3l16 10l18-1l16-1l17 2l16 0l17 0l17 1l16-9l17-1l16-11l17 4l16-2l16-6l17 4l16 8l17 2l16-1l17-2l16 4l16-3l16-9l16-7l16 3l17 5l16-1l16 1l12-4"/>
<path d="M0 -1288l338-209l197 250l140 91l109-444l89-118l75 7l65 78l57 35l52-145l46-36l42-67l39-26l37-23l33-2l32 19l29 10l28 49l26 19l25 28l24 35l23 11l21-9l21-27l20-21l19-39l19 32l17 1l17 9l17 49l31-25l30 21l28 19l26 17l25-12l24 39l22 0l22 29l21 19l20-3l19 10l18-9l18-4l17 22l16 9l24-15l23-18l22-18l20 1l20 21l19 10l19 17l17-6l17-1l17 5l21-7l20-21l20-11l19-1l18-14l17-10l17-23l16-7l20 16l19-20l18-8l17 2l17-7l16 12l19-12l18-2l18 7l17-6l16 7l18 0l18-7l17-8l17 2l18 0l18 9l16-14l17-1l18 4l17-4l16 7l16 4l18 7l16-3l16 0l17 4l17-7l17 1l17-5l16 9l17 3l17-2l17 2l16-12l18-1l16 0l17-11l16-7l17 0l17 11l16 4l17 3l16-4l17 1l16-3l16-2l17-1l16 5l17-2l16 0l17 5l16 6l16 11l16-1l16-2l16 2l17-1l16 0l16-3l12 4"/>
<path d="M0 -1288l338-253l197-417l140 85l109 94l89 39l75-24l65-13l57 62l52 46l46-114l42-31l39 35l37-4l33-9l32 92l29 33l28 49l26-62l25 68l24-59l23 43l21-48l21 17l20-20l19 25l19 50l17-5l17-17l17-2l31-6l30-22l28-61l26-18l25 6l24-39l22 21l22 36l21 0l20 42l19-17l18 5l18-4l17 19l16 10l24-13l23-12l22 2l20 16l20-17l19 24l19-16l17-19l17 17l17 8l21 2l20 11l20 20l19-2l18-3l17-14l17 1l16-17l20-4l19-11l18 0l17-2l17-5l16 7l19-10l18-2l18-3l17-7l16-9l18 13l18 9l17 6l17 9l18 11l18-8l16 2l17-8l18 11l17 16l16 1l16-6l18-5l16-9l16 7l17-10l17-9l17 6l17 5l16-6l17-2l17 2l17-4l16 5l18-1l16-2l17 2l16 6l17-4l17-4l16 2l17 0l16 3l17-4l16-8l16 5l17 6l16-1l17-4l16 12l17 5l16-4l16-2l16-5l16 0l16-2l17 0l16-1l16 5l12 3"/>
<path d="M0 -1288l338 490l197-492l140-74l109 32l89-214l75 7l65 51l57 94l52 55l46 47l42-137l39-46l37 16l33-8l32 6l29-21l28-86l26-27l25-59l24-33l23-33l21-21l21-39l20 59l19 21l19 18l17-28l17-6l17 26l31 6l30 51l28 10l26-18l25-19l24-4l22-35l22 2l21 6l20 10l19 13l18-33l18-30l17-5l16-2l24 0l23-25l22-15l20 5l20-24l19 29l19 3l17 3l17 3l17-7l21 26l20-7l20 10l19-7l18-3l17-27l17-1l16 3l20-12l19-6l18 1l17 0l17 10l16-6l19-15l18 8l18 20l17 13l16 14l18-12l18 7l17-17l17 8l18-1l18-8l16 5l17-8l18 14l17-3l16-2l16 7l18-2l16 1l16 6l17 2l17 1l17 1l17 14l16 4l17-2l17-2l17 2l16-7l18-4l16-5l17 3l16 14l17 6l17 1l16-2l17 0l16 4l17 6l16 2l16-2l17-5l16-7l17 7l16-3l17-5l16 2l16-3l16 5l16 5l16-3l17-3l16 5l16 3l12-1"/>
<path d="M0 -1288l338 103l197 269l140-378l109 95l89-98l75-187l65-234l57 93l52-35l46-63l42-24l39-42l37 100l33 37l32 76l29 44l28 32l26-70l25-51l24-26l23 34l21-7l21-27l20-22l19 12l19-18l17 13l17 36l17 14l31-14l30 4l28-18l26-10l25 22l24-4l22 4l22 37l21 13l20-8l19-13l18-22l18-12l17-16l16 0l24-21l23-6l22-17l20-6l20-13l19 7l19-8l17 6l17-1l17-12l21-6l20 7l20 0l19 4l18 0l17 1l17 2l16-17l20 25l19-4l18-3l17-1l17-15l16 4l19 5l18-2l18-11l17 4l16-2l18-1l18 0l17 15l17-15l18 3l18-2l16 1l17 6l18-6l17 3l16 1l16 0l18-7l16 11l16 5l17-3l17-1l17 3l17 4l16 2l17 5l17-10l17-7l16 12l18-11l16 9l17-7l16-2l17 4l17-1l16 2l17-2l16 3l17 1l16-1l16 0l17 7l16-1l17 1l16-2l17 1l16 8l16 9l16-4l16 13l16 2l17-6l16-4l16-1l12-2"/>
<path d="M0 -1288l338 142l197-191l140-161l109 72l89 122l75-168l65 58l57-114l52-117l46 121l42 25l39-3l37 34l33-27l32 22l29-23l28-34l26 32l25-1l24-20l23-42l21-13l21 2l20 1l19-11l19-16l17-42l17 24l17 21l31-21l30 54l28-67l26-14l25-4l24-12l22 24l22 6l21-8l20-15l19-15l18-1l18-1l17-14l16-2l24-7l23-15l22-4l20 39l20 17l19-9l19-27l17-4l17-8l17 24l21-14l20-10l20-7l19-4l18-21l17-8l17 9l16-6l20-9l19 2l18 4l17 12l17 8l16-8l19 7l18-12l18-6l17 1l16 17l18 6l18-6l17-1l17 6l18 5l18 11l16-17l17-7l18 5l17-6l16-10l16 2l18-3l16 11l16 2l17 6l17 9l17 0l17 2l16 4l17-4l17 4l17 6l16-7l18 0l16 6l17 1l16-5l17 2l17 6l16 4l17 0l16-4l17-3l16 5l16-3l17-1l16-2l17 7l16 3l17 2l16-2l16-5l16 2l16-4l16-2l17 5l16-4l16 6l12-1"/>
<path d="M0 -1288l338-345l197 261l140-245l109-47l89-76l75 13l65 81l57 124l52-70l46-6l42 39l39-2l37-5l33-35l32 49l29-2l28 22l26-23l25-8l24 15l23-32l21 16l21 1l20 50l19 46l19-3l17-16l17-28l17-21l31 45l30 10l28-7l26-44l25-6l24-17l22-32l22-19l21 11l20-9l19-4l18 4l18-24l17 1l16 6l24-26l23-17l22-9l20-13l20-7l19 2l19-9l17-12l17 10l17 5l21-30l20 6l20-1l19-11l18 9l17 4l17 13l16-14l20 3l19 0l18-11l17 0l17-3l16 3l19 8l18 16l18-2l17-7l16-9l18-11l18-3l17 3l17-20l18 10l18-4l16 9l17 3l18 8l17 6l16 0l16-4l18-4l16 3l16-11l17 0l17 7l17-8l17 5l16-5l17 4l17 8l17 5l16-1l18-9l16 2l17 3l16-1l17-10l17 1l16-5l17 16l16 0l17 1l16-6l16 0l17-3l16-8l17 4l16 3l17-3l16 3l16 7l16-10l16 0l16 5l17 6l16 2l16 0l12-1"/>
<path d="M0 -1288l338-326l197 24l140-3l109 0l89-147l75 145l65 92l57 30l52-15l46-63l42 28l39 43l37-92l33-57l32-18l29-6l28-45l26 34l25-26l24-26l23-25l21-4l21-5l20-68l19-19l19 21l17 0l17-14l17 1l31-13l30 21l28-56l26-4l25-29l24-9l22 28l22 7l21 12l20 24l19 5l18-7l18 0l17 15l16 14l24-17l23 9l22-16l20 9l20 8l19 9l19 19l17-5l17 23l17-11l21-8l20 11l20 4l19-8l18 25l17-4l17 18l16-11l20-13l19 10l18 7l17-1l17 8l16 13l19-1l18-11l18 9l17-11l16 3l18 5l18 4l17-3l17 15l18 21l18 9l16 8l17 1l18 3l17-4l16-9l16 6l18 8l16-4l16 1l17 2l17 7l17 6l17 13l16 1l17 4l17-5l17-5l16 10l18-6l16-3l17-2l16-8l17 9l17 8l16 11l17 2l16 4l17-5l16-10l16-7l17-11l16 4l17-6l16 0l17-1l16-6l16 4l16 0l16-3l16-6l17 4l16 5l16 4l12-4"/>
<path d="M0 -1288l338-557l197 40l140 227l109-14l89-5l75 108l65-33l57 135l52-69l46 15l42 41l39 15l37 44l33-85l32-84l29-36l28 57l26-1l25 2l24-27l23 26l21 40l21-15l20-16l19 29l19-23l17-62l17 7l17-18l31 42l30 27l28-46l26-35l25-15l24-2l22 10l22-22l21-8l20-5l19 2l18-13l18-11l17-14l16-15l24-13l23 13l22-10l20 24l20-19l19 14l19 7l17-18l17 28l17-3l21 3l20-21l20 18l19 0l18 0l17 1l17-8l16-17l20 3l19 5l18 18l17-8l17 9l16-3l19 3l18 14l18 13l17-21l16-11l18-8l18-6l17-13l17 11l18-9l18 6l16-9l17-9l18 1l17-3l16-2l16 4l18-3l16 7l16-1l17-4l17-7l17-11l17 6l16 2l17 1l17 7l17-8l16-3l18-2l16-4l17-16l16 1l17 5l17-3l16 5l17-2l16-6l17 8l16 5l16-3l17 2l16-4l17 2l16-4l17 6l16-6l16 3l16-7l16 4l16-3l17 5l16 0l16 8l12-1"/>
<path d="M0 -1288l338 129l197-309l140 26l109-135l89-59l75-47l65 66l57-39l52-30l46-20l42 26l39-55l37-8l33-33l32 79l29 55l28 33l26-32l25 53l24-21l23 5l21 56l21-67l20 27l19-50l19-2l17 11l17-21l17 7l31-31l30-8l28 1l26-10l25-32l24 30l22 17l22 31l21 13l20 6l19-9l18 10l18 4l17 8l16-31l24 14l23 42l22 9l20 10l20-2l19 1l19-23l17-10l17-1l17-10l21-21l20-16l20 11l19 11l18 12l17 2l17 4l16-8l20-21l19-21l18-12l17 4l17-18l16-2l19 1l18-3l18-10l17 7l16 5l18-15l18 5l17 2l17 8l18-2l18 10l16-5l17-1l18 11l17 1l16 1l16 1l18-8l16 2l16-11l17 7l17 2l17-8l17-4l16-8l17 7l17-1l17 0l16 3l18 10l16 3l17-4l16-1l17-1l17-4l16-5l17 8l16 3l17 1l16 6l16-4l17-5l16 6l17 3l16 1l17 6l16-5l16 3l16 0l16-4l16-2l17 2l16-1l16-6l12 6"/>
<path d="M0 -1288l338-543l197 178l140-51l109 118l89-101l75-87l65 3l57 82l52-10l46 46l42 92l39-6l37-66l33 52l32 39l29-23l28-73l26-18l25-16l24 45l23-1l21 4l21 8l20 1l19 31l19-25l17-8l17 11l17 17l31-12l30 18l28 15l26-24l25-27l24-5l22 10l22 13l21-13l20 5l19-7l18 17l18 20l17-4l16-2l24-7l23 6l22 14l20-14l20 1l19-21l19-7l17-20l17 14l17-11l21-8l20 6l20 4l19 11l18 10l17 17l17 2l16 10l20-20l19 11l18 6l17-24l17 3l16-2l19-2l18 5l18-15l17 11l16-8l18 6l18 2l17-15l17-7l18-7l18-14l16-4l17-7l18 0l17 7l16-4l16-5l18-7l16 2l16-11l17 2l17 5l17 1l17 2l16 7l17 1l17-12l17 7l16 0l18-1l16-5l17-6l16 1l17-3l17 5l16-4l17 1l16-3l17-6l16 0l16-6l17 2l16-4l17 4l16 1l17-1l16 3l16 9l16-4l16 6l16-1l17-4l16 8l16-5l12-7"/>
<path d="M0 -1288l338-139l197-324l140-14l109 171l89-26l75 79l65-46l57 61l52-27l46 68l42 58l39-61l37-76l33-5l32 36l29 14l28 16l26-2l25 5l24-34l23 40l21 32l21-54l20 14l19-10l19 38l17 36l17-10l17 30l31-19l30 7l28 25l26-35l25-25l24-32l22 8l22-1l21 0l20-10l19-50l18-4l18-11l17 7l16 19l24-4l23-10l22 2l20-15l20-5l19 3l19 1l17-16l17 2l17-9l21 7l20 3l20-10l19-7l18-8l17 11l17-21l16 19l20-20l19-2l18 9l17-3l17 10l16-5l19-18l18-15l18-11l17-2l16 12l18 3l18 8l17-2l17 0l18-1l18 0l16 0l17-4l18-21l17-10l16 8l16-19l18 2l16-9l16-7l17 6l17 3l17 5l17 2l16 0l17 10l17-1l17-6l16 2l18-4l16-1l17 6l16 6l17 3l17-2l16-3l17-4l16-4l17-7l16 2l16-10l17-7l16 8l17-3l16-9l17 2l16-2l16 0l16-8l16-5l16-4l17 5l16-1l16 1l12 1"/>
<path d="M0 -1288l338-354l197 30l140 161l109-69l89-13l75 51l65-34l57 51l52-99l46-44l42-4l39 74l37-19l33-65l32 13l29-21l28 7l26-26l25 28l24-35l23-21l21-2l21 25l20-1l19 20l19-39l17-3l17 44l17-4l31-48l30-25l28 10l26 3l25-14l24 0l22 2l22-23l21-10l20-25l19-2l18 11l18 8l17 28l16 6l24-16l23-25l22-15l20-7l20 37l19-9l19 9l17 1l17-4l17 7l21 6l20 33l20-14l19 4l18 14l17 2l17 13l16 6l20-11l19-4l18 2l17-3l17-10l16-6l19 8l18 9l18-20l17 4l16-9l18 14l18-6l17 11l17 3l18 7l18 5l16 11l17 19l18-6l17 6l16-18l16 5l18-6l16-6l16 5l17-1l17-14l17-1l17 3l16-1l17 5l17 0l17 7l16 1l18 11l16 5l17-1l16-1l17-8l17 10l16-2l17-1l16-2l17-8l16 1l16 4l17 3l16-3l17-1l16 1l17-4l16-6l16-2l16 1l16-5l16 1l17-5l16-3l16 3l12-3"/>
<path d="M0 -1288l338-435l197 271l140-64l109 181l89 64l75-42l65-117l57-19l52 65l46-32l42-7l39 35l37-35l33 20l32 19l29-63l28-49l26-39l25-6l24 27l23-35l21 14l21-5l20 19l19 11l19-44l17 31l17-39l17-33l31-4l30 7l28-12l26-2l25 1l24 16l22-4l22-11l21 22l20 24l19 1l18-11l18-16l17-12l16 3l24-16l23-21l22-21l20-14l20-31l19 13l19 6l17 7l17-12l17-6l21 5l20 0l20-8l19-1l18-3l17-18l17 0l16 21l20 3l19 15l18-18l17 0l17-2l16 9l19 21l18-12l18-3l17-7l16-1l18 6l18-5l17 14l17 1l18-8l18-2l16 5l17-2l18-1l17-11l16-6l16 2l18 0l16 7l16-10l17-2l17-2l17 10l17-4l16-6l17 4l17 0l17-2l16 7l18-3l16-3l17 3l16 1l17 0l17-2l16-4l17 3l16 3l17 8l16 3l16 4l17 8l16 3l17-8l16 0l17 2l16-2l16-1l16-5l16-4l16-6l17-2l16-3l16 4l12 2"/>
<path d="M0 -1288l338-280l197-161l140 355l109 84l89-50l75-32l65 50l57-135l52 99l46-79l42-39l39 4l37 15l33-26l32-12l29-76l28-37l26 18l25-37l24-44l23-36l21-52l21 60l20 42l19 48l19 13l17 23l17-12l17-40l31 6l30-12l28 26l26 7l25 6l24-13l22-8l22-24l21-44l20-4l19 33l18 14l18 31l17 38l16 2l24-4l23 8l22 21l20 11l20-7l19-12l19-24l17-17l17-5l17 8l21-6l20 13l20 4l19-5l18-4l17-6l17-5l16-12l20-12l19-9l18-4l17-6l17-2l16 4l19-10l18-8l18-11l17-4l16-9l18-12l18-9l17-7l17 8l18 10l18 0l16 6l17-2l18 4l17-12l16 2l16 8l18-8l16 5l16-6l17-9l17-6l17 12l17 7l16 7l17 5l17-9l17-6l16-3l18-7l16 6l17 7l16 0l17 3l17 3l16 3l17 8l16 7l17-5l16 2l16-3l17 2l16-5l17-5l16 0l17 0l16-5l16-6l16-1l16-2l16 5l17-1l16 2l16 2l12 3"/>
<path d="M0 -1288l338-446l197-48l140-14l109 93l89 49l75-98l65-17l57-179l52-83l46-15l42 27l39 5l37 43l33 38l32 26l29-16l28 26l26-13l25-36l24 7l23 47l21-11l21 6l20-14l19-13l19-15l17 14l17 27l17-31l31 52l30 9l28 34l26 27l25 21l24 13l22 50l22 11l21 24l20-5l19 10l18-10l18 1l17-8l16 12l24-32l23 2l22 11l20 24l20 1l19 18l19-8l17-12l17 2l17 9l21-7l20 4l20 2l19-6l18 9l17-10l17-24l16-1l20-3l19 12l18-5l17-5l17-9l16 6l19-2l18-22l18-9l17 6l16 11l18 9l18 2l17 1l17-9l18-6l18-9l16-2l17-6l18-18l17-4l16 6l16-7l18 2l16-1l16 3l17 8l17 6l17-7l17-5l16 7l17 2l17 1l17-3l16 3l18 8l16 9l17 12l16 1l17-1l17-7l16-7l17-3l16-4l17 7l16-10l16 4l17 8l16 10l17-1l16 3l17 0l16-2l16 7l16 3l16 3l16-1l17 5l16-6l16-1l12 0"/>
<path d="M0 -1288l338-84l197-125l140-21l109-205l89 86l75 48l65 46l57 83l52-47l46-138l42 70l39 27l37-66l33-5l32-18l29-22l28 11l26-33l25 34l24 18l23-12l21 35l21-25l20-31l19-11l19-29l17 16l17 30l17-24l31 25l30 8l28 21l26-19l25 48l24-31l22-10l22-7l21-19l20 11l19 23l18 8l18-22l17-27l16 23l24-25l23 19l22-20l20-13l20 2l19 9l19 4l17 13l17-1l17 12l21 22l20-17l20 18l19 3l18-2l17-2l17-12l16-7l20-12l19-6l18-4l17-9l17-9l16-17l19-11l18-4l18 9l17 9l16-2l18 15l18-5l17 5l17 5l18 11l18 2l16 4l17-3l18-7l17-8l16-3l16 7l18 4l16 1l16-9l17-7l17 2l17-1l17 7l16 5l17 2l17 11l17-12l16-5l18 0l16 3l17 8l16-4l17 2l17-20l16-8l17-2l16-15l17 1l16 1l16 10l17-7l16-2l17-3l16 3l17-9l16-7l16 0l16 8l16 2l16-4l17 0l16 4l16 0l12-1"/>
<path d="M0 -1288l338-7l197 78l140-21l109 38l89 148l75-86l65-4l57-68l52-103l46-97l42-25l39-71l37 53l33 30l32 69l29 62l28-13l26-54l25-41l24-16l23 12l21-27l21 1l20 17l19-35l19-5l17-23l17-39l17 17l31 18l30-17l28-40l26 16l25 2l24-5l22 47l22-26l21 5l20-33l19 22l18-9l18-39l17-24l16 24l24 4l23-21l22-3l20-14l20 1l19-11l19-14l17-19l17-1l17-11l21 13l20-23l20 5l19-5l18 7l17-10l17-5l16 9l20 1l19-3l18-10l17 6l17 19l16-8l19 12l18 9l18 6l17-17l16-17l18-4l18 4l17-6l17 1l18-2l18-8l16 0l17-5l18-13l17-5l16 7l16-1l18-5l16 7l16-6l17 8l17 9l17 5l17-8l16 6l17 5l17-2l17-2l16 4l18-4l16-3l17 4l16-3l17-12l17-2l16 12l17-3l16-11l17 2l16 3l16-2l17-1l16 3l17-3l16-5l17 3l16 4l16-1l16 4l16-1l16-7l17-2l16 4l16-4l12-3"/>
<path d="M0 -1288l338-112l197-136l140 307l109-5l89-53l75-159l65 33l57 1l52 80l46-59l42 51l39-36l37-5l33-15l32-63l29 24l28 30l26-76l25-72l24 3l23 14l21-16l21-16l20-4l19 5l19-22l17-2l17 11l17-5l31-39l30-11l28-16l26 25l25-27l24-17l22 43l22 41l21 1l20-8l19-13l18 6l18-28l17 2l16 15l24-54l23 3l22-24l20 28l20-26l19 12l19-30l17 12l17 6l17 5l21-17l20-8l20 7l19-13l18 20l17-4l17-11l16 12l20 8l19-4l18-14l17 5l17 7l16 10l19 0l18 0l18 4l17-2l16-10l18-15l18-5l17-4l17 18l18 4l18-1l16 2l17 10l18-5l17 0l16 8l16 12l18-6l16 7l16-2l17-9l17 0l17 12l17 7l16-1l17 1l17 0l17 3l16-1l18 9l16 1l17-12l16 3l17-4l17-6l16 0l17-4l16-4l17-5l16 1l16 2l17-5l16 5l17-7l16-1l17 0l16-9l16 1l16 5l16 1l16-2l17-3l16 1l16-4l12-6"/>
<path d="M0 -1288l338-289l197 161l140 277l109-36l89-173l75-39l65-94l57-74l52-133l46 75l42-65l39-73l37 14l33-41l32 24l29-39l28-36l26-18l25-3l24-30l23 28l21 4l21-15l20-3l19 18l19 29l17-12l17 1l17 34l31 8l30 13l28 4l26-12l25 7l24 51l22-12l22-6l21-7l20 27l19-10l18 12l18 24l17 2l16 13l24 12l23-21l22-7l20-21l20 3l19-15l19-28l17-2l17-8l17 9l21 2l20-25l20 2l19 11l18 16l17 1l17 23l16-3l20-14l19 2l18 18l17 3l17-2l16-11l19-9l18 18l18 1l17-10l16 1l18-4l18-1l17-4l17 3l18-3l18 4l16-21l17 4l18 3l17 10l16-9l16 0l18 12l16 3l16 4l17 6l17-7l17 3l17 0l16-2l17-3l17 11l17 11l16 13l18-11l16 1l17 2l16 7l17-1l17-3l16 1l17-7l16-3l17-1l16-3l16 0l17 2l16 5l17 5l16-2l17 3l16-5l16-3l16 4l16 2l16-3l17 2l16 4l16 0l12-4"/>
<path d="M0 -1288l338-66l197 349l140-98l109-258l89-48l75-16l65 42l57 57l52-10l46-125l42 20l39-19l37-22l33-32l32-21l29-25l28-30l26-57l25-16l24 15l23 2l21-13l21 6l20-26l19 53l19 9l17 38l17-52l17-16l31-25l30-17l28-9l26 28l25 6l24-35l22-16l22 39l21 15l20-11l19 10l18 12l18-1l17-9l16 25l24 9l23-27l22 9l20 0l20 29l19 23l19-20l17-9l17 18l17 16l21-8l20 8l20-7l19-18l18-18l17-14l17-1l16 3l20-2l19-4l18-11l17 18l17-9l16-4l19 0l18-15l18-8l17 11l16 2l18-6l18-18l17-6l17-2l18 5l18 4l16-7l17-8l18-1l17 9l16-1l16 7l18-1l16 2l16-16l17 14l17 2l17 3l17 0l16 1l17 1l17-7l17-6l16 9l18 1l16 11l17-3l16 0l17-4l17-6l16 7l17-4l16-4l17-5l16 9l16-7l17 2l16 1l17-5l16 1l17-1l16 4l16-6l16 1l16 7l16-4l17 0l16-3l16 4l12-3"/>
<path d="M0 -1288l338-121l197-167l140-21l109 165l89 38l75-36l65 65l57-116l52-13l46 37l42-30l39-52l37 36l33-76l32 26l29 30l28 13l26 6l25-23l24 2l23-8l21-9l21-2l20 14l19-7l19-15l17-14l17-9l17 8l31-59l30 9l28 33l26-42l25 20l24 13l22-11l22-14l21-22l20-8l19 3l18-4l18 7l17 3l16-12l24 18l23-11l22 5l20 1l20-10l19-3l19 11l17 15l17 27l17-1l21 4l20 10l20-5l19-22l18-3l17-11l17-12l16-1l20-20l19-13l18-12l17-6l17-11l16 5l19-20l18-8l18-3l17-2l16 3l18-12l18 13l17 0l17-12l18 8l18 9l16 5l17 9l18-3l17 4l16 4l16-2l18-1l16-4l16 3l17 11l17 9l17-9l17 2l16 1l17 2l17 1l17-6l16 7l18-3l16 0l17-4l16 5l17-1l17 2l16 0l17 6l16 3l17 6l16-4l16-6l17-5l16 5l17 0l16 2l17 5l16 6l16-5l16-2l16-1l16-6l17-1l16-1l16-1l12-1"/>
<path d="M0 -1288l338-618l197-75l140 288l109 277l89-43l75 49l65-56l57-38l52-66l46 89l42-55l39 12l37-116l33-7l32 32l29-16l28 23l26-41l25-58l24 30l23 6l21-26l21-11l20-33l19 15l19 37l17-46l17 40l17 2l31-1l30 18l28-18l26 5l25 10l24-7l22 5l22-25l21-17l20 8l19 11l18 18l18-28l17-11l16 7l24 31l23-33l22 16l20 17l20-1l19 18l19-5l17 17l17-2l17 2l21-14l20-24l20-16l19-5l18 16l17-4l17 16l16-13l20-16l19-11l18-9l17 10l17-3l16 6l19 11l18-15l18 8l17-9l16-8l18-11l18-5l17-5l17 0l18 11l18-4l16 11l17-6l18 1l17-2l16-6l16-3l18 3l16-2l16-1l17-2l17-2l17 6l17 4l16-2l17 6l17-1l17-7l16 10l18 3l16 5l17 3l16-6l17 1l17 0l16 5l17 0l16-4l17 2l16-2l16 18l17 3l16 2l17 1l16 0l17 0l16 5l16 3l16 1l16 1l16 4l17-2l16-3l16 3l12 0"/>
<path d="M0 -1288l338-468l197 218l140 38l109-76l89 32l75-116l65 100l57-6l52 75l46-15l42-102l39-29l37-36l33-47l32-34l29-72l28-29l26 10l25 0l24-18l23 24l21-17l21 54l20 14l19-30l19 18l17-7l17-7l17-22l31-9l30-8l28 13l26 48l25 16l24 19l22-10l22 16l21-33l20-3l19 0l18-7l18 4l17-4l16-2l24-17l23 0l22 9l20-5l20 5l19-8l19 14l17 3l17 9l17 2l21-3l20 19l20-15l19 12l18 2l17-11l17 1l16-20l20 12l19 3l18 16l17-4l17-3l16-12l19 3l18 5l18 6l17 1l16-4l18-6l18 26l17-2l17 0l18-6l18-3l16-5l17 8l18-7l17 5l16-2l16-13l18 9l16 5l16-3l17 2l17 11l17-5l17-3l16 10l17 3l17 2l17 1l16 15l18 10l16 0l17 0l16 6l17 18l17 1l16 9l17 10l16 2l17 3l16-4l16-3l17 7l16-1l17 5l16 1l17-2l16 0l16 2l16-5l16-4l16 1l17 5l16 1l16 0l12 3"/>
<path d="M0 -1288l338-75l197-22l140-25l109-222l89 177l75 57l65-8l57-54l52-10l46 32l42-10l39-43l37 4l33-22l32-64l29 4l28 22l26-2l25-28l24 61l23-23l21-2l21-47l20-3l19-4l19 9l17-19l17 14l17 12l31 8l30-48l28-18l26-18l25-9l24 29l22 13l22-40l21-18l20 5l19 17l18-1l18-20l17 18l16 2l24-16l23 9l22 12l20-13l20 0l19 3l19-12l17 10l17-6l17-14l21-3l20-5l20-1l19-4l18-19l17-22l17-1l16-10l20 11l19 28l18 5l17 4l17-14l16 21l19-12l18 2l18 10l17 2l16 6l18 0l18 12l17 10l17 5l18-9l18-2l16-10l17 8l18 0l17 8l16 1l16-8l18-13l16 2l16-11l17 2l17 7l17-8l17 5l16 0l17 7l17 6l17-1l16-10l18 6l16-1l17 3l16-3l17 4l17 0l16-5l17 10l16 1l17-4l16 3l16-7l17 1l16-4l17-6l16 1l17 5l16 9l16 2l16-3l16-3l16 6l17 2l16 0l16-5l12-6"/>
<path d="M0 -1288l338-480l197 486l140-27l109 0l89 161l75 64l65 52l57-78l52-68l46-34l42 28l39-2l37-69l33-76l32-60l29-12l28-37l26 23l25-1l24 0l23-39l21-16l21-18l20-42l19-32l19-18l17 16l17 8l17 9l31 8l30-15l28-16l26 14l25-3l24-24l22-13l22-24l21 16l20-22l19 8l18 11l18-34l17-3l16-20l24 2l23-2l22-23l20 1l20-1l19 30l19-4l17 10l17-5l17 11l21-22l20-25l20-3l19 0l18 15l17-2l17 12l16-7l20-4l19 1l18-10l17 25l17 18l16 8l19 0l18-3l18-9l17-1l16-11l18 9l18-6l17-10l17 3l18-3l18-9l16 2l17-5l18 10l17-8l16-8l16-8l18 7l16 5l16-1l17-7l17 7l17-11l17-4l16-3l17-9l17-3l17-5l16-5l18-9l16 8l17-9l16-1l17-1l17 7l16 8l17 4l16 6l17-6l16 6l16 12l17-6l16 6l17-6l16 4l17 1l16-3l16-2l16-6l16 5l16-1l17 1l16-4l16 0l12 5"/>
<path d="M0 -1288l338 116l197-17l140-178l109-288l89-79l75-50l65-38l57 102l52 111l46-70l42-43l39 11l37-42l33 28l32-7l29 50l28-1l26 26l25-99l24 7l23-27l21 53l21-20l20 7l19 25l19 14l17-62l17-17l17 22l31 9l30-5l28 9l26-7l25-34l24 10l22-16l22-14l21 11l20-29l19 21l18 3l18-8l17 15l16 14l24 28l23 16l22-10l20 6l20 31l19 2l19-16l17 4l17-9l17-4l21 0l20-10l20 2l19 13l18 4l17 3l17 0l16-7l20 18l19 5l18-9l17-14l17-9l16-11l19 7l18 17l18 5l17-19l16 4l18-17l18-3l17 19l17-15l18 2l18 16l16-3l17-4l18 1l17-1l16 1l16 15l18 6l16 4l16 7l17 11l17-6l17-7l17 0l16 5l17-5l17 11l17-6l16-2l18-7l16 3l17-6l16 4l17 1l17 3l16 5l17 6l16-2l17-3l16 2l16-6l17 1l16 4l17-1l16 1l17 4l16 3l16-10l16-4l16 1l16-1l17 1l16 0l16 0l12-1"/>
<path d="M0 -1288l338-27l197-281l140 43l109-322l89-88l75 191l65 182l57-156l52-48l46 33l42-4l39 39l37 32l33 10l32-15l29-13l28-35l26-47l25-21l24-20l23-12l21 58l21 62l20-4l19 2l19 28l17 23l17-34l17 38l31-25l30 6l28 25l26 27l25 28l24-9l22-43l22 20l21 45l20 21l19-12l18-38l18 1l17-6l16 0l24 4l23-4l22-7l20 1l20 0l19 11l19 7l17-27l17-5l17 10l21 6l20-8l20-19l19 2l18 7l17-6l17-8l16 17l20 3l19-15l18 5l17-12l17 7l16 4l19 7l18 1l18-2l17-4l16-11l18-6l18-5l17-6l17-2l18 8l18 8l16 4l17-7l18-3l17 0l16-4l16 4l18 10l16 5l16-8l17 5l17-6l17 1l17-12l16 5l17-9l17 1l17 5l16 3l18-4l16 8l17-1l16-1l17-1l17-2l16-13l17-1l16 0l17-8l16-1l16-3l17 1l16 4l17 7l16 1l17 9l16-6l16 1l16-9l16 4l16 0l17 0l16 0l16-4l12 5"/>
<path d="M0 -1288l338 292l197-376l140-313l109-233l89 105l75-23l65 183l57-133l52 19l46 133l42 11l39-25l37-24l33-81l32-33l29-18l28-35l26 44l25 30l24 17l23 26l21 7l21-48l20-44l19-13l19 24l17 24l17-52l17 27l31 9l30 16l28-21l26 21l25-17l24-18l22-33l22 7l21-36l20-25l19-2l18 11l18 22l17 30l16-8l24 9l23-4l22-2l20-23l20 14l19-2l19 3l17 21l17 6l17 17l21-4l20 0l20 5l19-7l18 9l17 16l17-9l16 4l20 12l19-12l18 21l17-6l17-9l16-4l19-10l18 9l18 13l17 5l16-1l18-3l18-1l17 8l17 8l18 14l18 8l16-3l17-2l18 6l17 6l16 5l16-4l18 10l16-11l16 3l17-7l17-1l17 10l17 9l16 3l17 0l17 0l17 6l16-4l18 5l16-5l17-6l16 4l17 3l17 1l16 0l17-3l16 2l17-3l16-14l16-2l17 4l16-3l17 0l16 2l17-2l16-1l16-7l16-5l16 5l16 3l17-1l16 0l16 10l12-4"/>
<path d="M0 -1288l338-47l197 94l140-66l109-435l89 98l75 191l65-120l57 24l52-119l46-48l42-9l39 25l37-56l33 8l32-25l29 73l28-24l26 22l25 67l24 39l23 56l21-2l21-18l20-3l19-69l19 12l17 8l17 12l17 36l31 2l30-43l28-17l26-31l25 25l24-4l22 18l22-36l21-3l20 4l19 5l18-8l18-5l17 7l16-12l24-42l23 9l22 6l20-27l20 21l19 27l19 8l17 11l17-1l17-4l21 7l20-9l20-13l19-22l18 2l17 9l17 21l16 18l20-9l19 8l18-8l17 5l17-11l16-18l19 6l18-12l18-10l17-17l16-5l18 3l18-4l17 12l17 4l18 5l18-3l16 12l17-4l18 2l17 3l16-2l16 0l18 4l16-3l16-11l17-4l17-11l17-4l17 3l16-1l17 19l17 11l17 8l16 7l18 14l16-4l17-6l16-7l17-7l17 6l16-3l17-2l16-1l17-6l16-6l16-1l17 3l16-3l17 3l16 3l17-5l16-5l16 2l16 2l16 4l16 0l17-2l16 1l16-5l12-1"/>
<path d="M0 -1288l338-504l197 101l140-72l109 4l89-176l75 155l65-24l57-19l52 16l46-47l42 10l39 32l37 69l33 3l32 10l29 37l28-19l26-56l25 9l24 24l23-7l21 12l21-32l20 49l19 23l19-27l17-22l17 0l17 33l31-25l30 35l28 30l26 10l25-17l24-4l22-5l22-14l21-24l20 8l19 15l18 6l18-19l17 6l16-5l24 28l23 20l22-25l20 1l20 19l19 22l19-11l17-12l17-2l17 11l21 2l20-12l20 10l19 1l18 1l17 10l17 4l16-3l20-8l19 4l18 5l17 8l17-9l16 7l19 0l18-23l18-12l17 8l16-7l18-15l18-5l17-4l17-9l18 1l18 0l16-5l17-11l18 14l17-3l16 10l16-14l18-12l16 3l16 7l17-12l17 1l17 0l17 6l16-2l17-5l17 9l17 5l16 4l18-5l16 0l17-1l16 5l17 4l17-2l16 3l17 3l16 2l17-1l16 8l16-1l17-4l16-4l17 7l16-1l17 2l16-1l16 3l16-1l16-1l16-1l17 4l16-10l16-5l12 3"/>
</g><g stroke="#b6b6ff">
<path d="M0 -1288l338-89l197-8l140-53l109 92l89 24l75 22l65 22l57 79l52-50l46-22l42-22l39 13l37-33l33-16l32-53l29 26l28-31l26 36l25 41l24-3l23-11l21-3l21-2l20-31l19-1l19-8l17 35l17-17l17-6l31 25l30 6l28 1l26 20l25-5l24 14l22 14l22-9l21 2l20 12l19-4l18 10l18 27l17-30l16 6l24 17l23-4l22-10l20-10l20 13l19 4l19 19l17-11l17 12l17 10l21-1l20 12l20 11l19 10l18-4l17-21l17-13l16 16l20-13l19-5l18 1l17 0l17-9l16-21l19 5l18 0l18 2l17 4l16 2l18 6l18 7l17 0l17 4l18 5l18 8l16 7l17-9l18 4l17-4l16-3l16 2l18-8l16-3l16 10l17 1l17 5l17 4l17 3l16 6l17 4l17-6l17-2l16 5l18 5l16-1l17-3l16 1l17 5l17-3l16 2l17 2l16 2l17 1l16-9l16 2l17 0l16-3l17 0l16 5l17 2l16-1l16-1l16-2l16 0l16 4l17-1l16 5l16-3l12 1"/>
<path d="M0 -1288l338 171l197 91l140-16l109 10l89-16l75-199l65 91l57 32l52 30l46-56l42-19l39 46l37 15l33 18l32-21l29 24l28-26l26-25l25-4l24-24l23 5l21 20l21 4l20 6l19 17l19 18l17-4l17-1l17-13l31 8l30 9l28 25l26-8l25 0l24 7l22 10l22-23l21 7l20 6l19-20l18-3l18-22l17-4l16 3l24 33l23 16l22 1l20-13l20 9l19-18l19 14l17-6l17-13l17-2l21-14l20 9l20 9l19-9l18-9l17 0l17 6l16 6l20-9l19 9l18 14l17-5l17 1l16-11l19 5l18 4l18-9l17-19l16-4l18 1l18-11l17 11l17 0l18 0l18-5l16 0l17 5l18 8l17 2l16 5l16 0l18-8l16 2l16 2l17 1l17-6l17 4l17 3l16-5l17 0l17 0l17-1l16 1l18-6l16 3l17-6l16-3l17 4l17 4l16-4l17-4l16-7l17-2l16-3l16-7l17-1l16 3l17-3l16 0l17-1l16-9l16 1l16 1l16-1l16 0l17-4l16 0l16 1l12 0"/>
<path d="M0 -1288l338 303l197-186l140-183l109 28l89 31l75 111l65 65l57-26l52-2l46-103l42 11l39-6l37 2l33 17l32 35l29-3l28 30l26 27l25-19l24-24l23-14l21-7l21 18l20-23l19 39l19 27l17-3l17 2l17-25l31-13l30 1l28 48l26 0l25 4l24-5l22 1l22 11l21-24l20-7l19 17l18-12l18-1l17 9l16-2l24 11l23-6l22-14l20 10l20-2l19-12l19 3l17 8l17-9l17-12l21-5l20-2l20-3l19-11l18-4l17-11l17 14l16 6l20 2l19-2l18-6l17 3l17-5l16 6l19-4l18-7l18-2l17-1l16 5l18 7l18 5l17-4l17 13l18 0l18 5l16-1l17-3l18 0l17-1l16 6l16 4l18 2l16-7l16 1l17-5l17 4l17 11l17-6l16-4l17-8l17 2l17-3l16 8l18-1l16 2l17 4l16 4l17-2l17-3l16 2l17-1l16 3l17-1l16 1l16-2l17-1l16-1l17 2l16 4l17 7l16-1l16 8l16-4l16 1l16 1l17-5l16 0l16-3l12-2"/>
<path d="M0 -1288l338-319l197-19l140 168l109-38l89 128l75 77l65 71l57 17l52 16l46-27l42 75l39 1l37-16l33-24l32-78l29 18l28 31l26-9l25 22l24-17l23-7l21-36l21 44l20 37l19-49l19-3l17 28l17-7l17 13l31 8l30 35l28 23l26 22l25-3l24 6l22-13l22 13l21 22l20-18l19-17l18 15l18-27l17-8l16-3l24-28l23-6l22-4l20-16l20-1l19 5l19 0l17-2l17 16l17-15l21 8l20-9l20 9l19 12l18 13l17 1l17-2l16 1l20 10l19-14l18-2l17-2l17 20l16 0l19-13l18-11l18-1l17-3l16-3l18-19l18-10l17 20l17-6l18-6l18 7l16 0l17 9l18 7l17-8l16-2l16-4l18 4l16 13l16-3l17 2l17-8l17 11l17-4l16-3l17-2l17 2l17 10l16 5l18-1l16-6l17-4l16-4l17-5l17-6l16-2l17 5l16 2l17-4l16 1l16-1l17 3l16-1l17 2l16-3l17 0l16-1l16 2l16 1l16 0l16-1l17 0l16-1l16-1l12-3"/>
<path d="M0 -1288l338 456l197 31l140-188l109-19l89 13l75 37l65-18l57 93l52-37l46 36l42-33l39-7l37 11l33-80l32-55l29 39l28-47l26-59l25 1l24-16l23-6l21 23l21-15l20 6l19-7l19 9l17 3l17 16l17-10l31-33l30-53l28 10l26 2l25-3l24 19l22-21l22 4l21 13l20-11l19-13l18-6l18 1l17 4l16 17l24 21l23 10l22 4l20-15l20-19l19-2l19-6l17-10l17-5l17-9l21 3l20-3l20-23l19 4l18 9l17 10l17-12l16 6l20-8l19-8l18 13l17 11l17 1l16 9l19-7l18 13l18-5l17 4l16 3l18 9l18 0l17-10l17 3l18-2l18 9l16 4l17-2l18-6l17 3l16-9l16 7l18-1l16-6l16 9l17-1l17 2l17 0l17-3l16 9l17-6l17 5l17 0l16-3l18 1l16 3l17 5l16-5l17 6l17 4l16 1l17 1l16 1l17 2l16 7l16 4l17-1l16 2l17-7l16-3l17-1l16 1l16 1l16-4l16-3l16-1l17-7l16-1l16-2l12-2"/>
<path d="M0 -1288l338-237l197-238l140-11l109 69l89 29l75-25l65 93l57 60l52 51l46 40l42-10l39 66l37 57l33 83l32-58l29-20l28 6l26-5l25-39l24-42l23 16l21-18l21 17l20 15l19-33l19-5l17 0l17 2l17 16l31 64l30 63l28 16l26-11l25 7l24 31l22 42l22-10l21 0l20 9l19-10l18-16l18-2l17 3l16 8l24 2l23-17l22 26l20 12l20 15l19-8l19 10l17 2l17 20l17 9l21 14l20-19l20-11l19-12l18 22l17-29l17-10l16-4l20 15l19 8l18-4l17-1l17-4l16 14l19-8l18-8l18-9l17 6l16-8l18-9l18-4l17 8l17 6l18 0l18 2l16 4l17-1l18-2l17-1l16-5l16 3l18 2l16-10l16 15l17-9l17 5l17 0l17 5l16-12l17-2l17 0l17-3l16-2l18 1l16 8l17 5l16 5l17-3l17 0l16 4l17 0l16 10l17-4l16-8l16 1l17 4l16 5l17 6l16 3l17 5l16-1l16-2l16 3l16 0l16 0l17 0l16 2l16 2l12-3"/>
<path d="M0 -1288l338 249l197-120l140-32l109-79l89 25l75-80l65-4l57 45l52 22l46-5l42-57l39 3l37 16l33 12l32 14l29-23l28-8l26 1l25-8l24-24l23-9l21-17l21-4l20 23l19-22l19 9l17 29l17-1l17-18l31 28l30-30l28 17l26-13l25 6l24 25l22 25l22 30l21-12l20-25l19 4l18-5l18 6l17-1l16-6l24-10l23-3l22 37l20 6l20 8l19-20l19 11l17 5l17 9l17 22l21-8l20 10l20-10l19 6l18 15l17-5l17 2l16 3l20 9l19 7l18-2l17-7l17 4l16 0l19 9l18-10l18-1l17 9l16 0l18-5l18-8l17 1l17 2l18-5l18-4l16 0l17 15l18 3l17 1l16 4l16 3l18 5l16 13l16 2l17 0l17 8l17 5l17 3l16-3l17-8l17-2l17-3l16-6l18 6l16-1l17 6l16 3l17 9l17 7l16 2l17 6l16 5l17 2l16-3l16-4l17 0l16 3l17-4l16 0l17 5l16 10l16-4l16-7l16 0l16 2l17 3l16-3l16 3l12-1"/>
<path d="M0 -1288l338 156l197-336l140 181l109-128l89 300l75-10l65-10l57 15l52-95l46-12l42-76l39 51l37 73l33-26l32-12l29-4l28 39l26-32l25 20l24 1l23 23l21-28l21 25l20 14l19 25l19 17l17 0l17 15l17-1l31-12l30-2l28-17l26-3l25 26l24 7l22-28l22-22l21 3l20-4l19-10l18-2l18 1l17 5l16-3l24-23l23 10l22-8l20-20l20 25l19 10l19-11l17-12l17 15l17 3l21 6l20 4l20 5l19 1l18-7l17 3l17 5l16-8l20-1l19-5l18 5l17 1l17 5l16 1l19-4l18-4l18-2l17 11l16 6l18 16l18 4l17-1l17-1l18-6l18 2l16 1l17-2l18 1l17-2l16-1l16 4l18-6l16-3l16 2l17 11l17 0l17 1l17-2l16 4l17 2l17-3l17 8l16 1l18-2l16 8l17 2l16-9l17-8l17 0l16-8l17-6l16 5l17-1l16 0l16-3l17-3l16 3l17-2l16-3l17-4l16-1l16-4l16 0l16-2l16-5l17 6l16 2l16 2l12-1"/>
<path d="M0 -1288l338-303l197 21l140 74l109 50l89 21l75 67l65 157l57 7l52 75l46-14l42-51l39-21l37 40l33 6l32 9l29 38l28-1l26 29l25 10l24 19l23-20l21 0l21 3l20-30l19-25l19-16l17-17l17 10l17 0l31-2l30 38l28 35l26 7l25-2l24-14l22 8l22 8l21 11l20-11l19-18l18-5l18 7l17-2l16-4l24 17l23-4l22 4l20-36l20 9l19-22l19-18l17-15l17 11l17 4l21-3l20-1l20-1l19 2l18-7l17 3l17-8l16-7l20-4l19 9l18-11l17-5l17-8l16-1l19 4l18 12l18-13l17-2l16 13l18-8l18 9l17-2l17-8l18 4l18 2l16 10l17 2l18-2l17-1l16 2l16-2l18-5l16 1l16-4l17-2l17-11l17-6l17-2l16-6l17-1l17 7l17 5l16 6l18 1l16-3l17 4l16 4l17-1l17-8l16-1l17-3l16 6l17 2l16-6l16-1l17 0l16 3l17-3l16 3l17 3l16-2l16 5l16 2l16 0l16 0l17-4l16-4l16-1l12 0"/>
<path d="M0 -1288l338 80l197-300l140 139l109 87l89 70l75-19l65 33l57-3l52-9l46 1l42-66l39-21l37-7l33 22l32-2l29-62l28 39l26-1l25 50l24 34l23 9l21 16l21-33l20 10l19-12l19-25l17 22l17 2l17 3l31 55l30-31l28-5l26-16l25-4l24-33l22-12l22 17l21 18l20-14l19-10l18 20l18-8l17 7l16 8l24 7l23 6l22 21l20 15l20 1l19 18l19 8l17 6l17-14l17 11l21 6l20 9l20-5l19 12l18 7l17 2l17 7l16 4l20-11l19-7l18-5l17 0l17-5l16-9l19-18l18 4l18-6l17 2l16 6l18 5l18-2l17 5l17-8l18 4l18 15l16 5l17-4l18-1l17 3l16 0l16 2l18-7l16 0l16-7l17-2l17 7l17-1l17 13l16-1l17 2l17-5l17-4l16-5l18 9l16 5l17-2l16 2l17-3l17-7l16 3l17-9l16-7l17 0l16-1l16-1l17 2l16 8l17 5l16-2l17 4l16-1l16 6l16 1l16-3l16-3l17-4l16-2l16 1l12 5"/>
<path d="M0 -1288l338 12l197-180l140 69l109-166l89 70l75-75l65 13l57 6l52 65l46-23l42 115l39 59l37 59l33 28l32-16l29-39l28 4l26 8l25-62l24-8l23 41l21 41l21-5l20-16l19 32l19-11l17-23l17 3l17 19l31 12l30 34l28-26l26 12l25-11l24-18l22 15l22 2l21 7l20 37l19 0l18 3l18-10l17-3l16 2l24-6l23 28l22 2l20 12l20-10l19-30l19-19l17 11l17 3l17-13l21 1l20 8l20-3l19-1l18 13l17 12l17-1l16-7l20-4l19 7l18 3l17 3l17 2l16 3l19-19l18 9l18 14l17 4l16 10l18 4l18 7l17-2l17-9l18-13l18 3l16 6l17 7l18-2l17 8l16 0l16-12l18 11l16 2l16 0l17 3l17 7l17-2l17-1l16 2l17 11l17-2l17-8l16 3l18-6l16-5l17-7l16 4l17-3l17 6l16 1l17-3l16-5l17 1l16-7l16-1l17 6l16-3l17 0l16 0l17 1l16 3l16 3l16-5l16 1l16-1l17-1l16 2l16-5l12 1"/>
<path d="M0 -1288l338 193l197 217l140-121l109-99l89-11l75-47l65-32l57 124l52 89l46 19l42-10l39-24l37-20l33-4l32 0l29 15l28-13l26 18l25 2l24 35l23 17l21-19l21 30l20-7l19-35l19-23l17 27l17-4l17-13l31 19l30-12l28-8l26 2l25-18l24-34l22-5l22 4l21 8l20-22l19-12l18 11l18-43l17 15l16-11l24 15l23-4l22 5l20-6l20 15l19 5l19-4l17-4l17-8l17-5l21 13l20-25l20 3l19-1l18-2l17 13l17-8l16-6l20 2l19-9l18-7l17-3l17-6l16-1l19-12l18-3l18-8l17-5l16-12l18 2l18-4l17-6l17 2l18-7l18 0l16 8l17 7l18 2l17 2l16-3l16 0l18 0l16 2l16-4l17-3l17-9l17-8l17 7l16 1l17 2l17-3l17 6l16 1l18-3l16 1l17-1l16-6l17-5l17 3l16 2l17 0l16-1l17-2l16 2l16-5l17-1l16 1l17-3l16 0l17 0l16 6l16 1l16-3l16 4l16-2l17 0l16 1l16 2l12 1"/>
<path d="M0 -1288l338-37l197-129l140-16l109-38l89 33l75 39l65 67l57 62l52-10l46-29l42 25l39 44l37-5l33 72l32 67l29-11l28-48l26-25l25-13l24 25l23 11l21-10l21 20l20 26l19 16l19 7l17 25l17-13l17-13l31-50l30 13l28-3l26 8l25 5l24 6l22-13l22 0l21 16l20-4l19-15l18-19l18-27l17-1l16 2l24 10l23 11l22 13l20 19l20 37l19 5l19-3l17-6l17 3l17 9l21-1l20-14l20 7l19 6l18 6l17 4l17-10l16-11l20 7l19-14l18-6l17 5l17 7l16-5l19 7l18-12l18-8l17-14l16 4l18 6l18-5l17 10l17-1l18-1l18-10l16 1l17-12l18 1l17-4l16 3l16 10l18-6l16 2l16 4l17-8l17-1l17 1l17 5l16 4l17-5l17 0l17 0l16-5l18-4l16-10l17-1l16-6l17 3l17 7l16 0l17 3l16 8l17 6l16-4l16-1l17 0l16 3l17 3l16-2l17-2l16 2l16 3l16 1l16-2l16 1l17-4l16-1l16-1l12-5"/>
<path d="M0 -1288l338 33l197 69l140 51l109 243l89-58l75-28l65-49l57 33l52 23l46-51l42 41l39-13l37 41l33 24l32-36l29-30l28 15l26-8l25 35l24 14l23-48l21-26l21 18l20 10l19-14l19-48l17-14l17-7l17 14l31 19l30-45l28-27l26 17l25 16l24-19l22-12l22 9l21 13l20-1l19 5l18 13l18-34l17-19l16-21l24 4l23 4l22-4l20 2l20 8l19-4l19 3l17-16l17 1l17 1l21 0l20 3l20-17l19-13l18 9l17 0l17-7l16 8l20 11l19 2l18 3l17-2l17 2l16-3l19-32l18-8l18 1l17 13l16-3l18 1l18 2l17 1l17 3l18-4l18-5l16-2l17 0l18-4l17 2l16 3l16 2l18 1l16-6l16-2l17 0l17 0l17-2l17-2l16 0l17 3l17 0l17 3l16-3l18-2l16-3l17-1l16-5l17 4l17 3l16-1l17-9l16 4l17-4l16 3l16 1l17 1l16 6l17 8l16 1l17 1l16-2l16 2l16-1l16 2l16 3l17 3l16 0l16 0l12 3"/>
<path d="M0 -1288l338-675l197 251l140 103l109-73l89 76l75 5l65 57l57 50l52 6l46 153l42 9l39 40l37 9l33 6l32 58l29 10l28-49l26 18l25 37l24-2l23-1l21-2l21-22l20 8l19-30l19 1l17-9l17 4l17-8l31 43l30-9l28-12l26-11l25-6l24-3l22 3l22-22l21 11l20 34l19-14l18-12l18 7l17-2l16 12l24-9l23-17l22-14l20 2l20 7l19-14l19 5l17 10l17 23l17 5l21-7l20-9l20 4l19-14l18-12l17 19l17-7l16 1l20-7l19-5l18 3l17-7l17-13l16-2l19-3l18 22l18 8l17 1l16 8l18-2l18 3l17 8l17 6l18-1l18 3l16 3l17-6l18 3l17 5l16 3l16 4l18-6l16-1l16-2l17-4l17 12l17 3l17 4l16-3l17 9l17-5l17-1l16 4l18 5l16 9l17 12l16 5l17-4l17-3l16-2l17 0l16-4l17 5l16 1l16-1l17-2l16 5l17 7l16 3l17 0l16 2l16 3l16 1l16-2l16-1l17-1l16 0l16 0l12-1"/>
<path d="M0 -1288l338-214l197 213l140 32l109 11l89-127l75-25l65-16l57-105l52 26l46 9l42-6l39-3l37 24l33 24l32-30l29 50l28-75l26 19l25 30l24 19l23 12l21 28l21-9l20-12l19 1l19-5l17-33l17-9l17-9l31 19l30 20l28 22l26 43l25 2l24 10l22 25l22-8l21 15l20-28l19 1l18-9l18-7l17 9l16 4l24-2l23-2l22 21l20-12l20 16l19 6l19 15l17 1l17 4l17-2l21 32l20 17l20-1l19 7l18 1l17 15l17-15l16-12l20-4l19 5l18 0l17 20l17 1l16 19l19 8l18 8l18 14l17 10l16 1l18-8l18-6l17 2l17 3l18-12l18-6l16 3l17-6l18 0l17-3l16-8l16 3l18-2l16 7l16 4l17 2l17-1l17-2l17-2l16-5l17-1l17 2l17-1l16-1l18-4l16-5l17 1l16 0l17-2l17-3l16 4l17 9l16 3l17 0l16 0l16 1l17-2l16 5l17-5l16-3l17 5l16 0l16 1l16 3l16 4l16 2l17 0l16 3l16 4l12 0"/>
<path d="M0 -1288l338 257l197 111l140-322l109 97l89-114l75-62l65 104l57-151l52 85l46 67l42-26l39 48l37 14l33 11l32-51l29 56l28 73l26-5l25 19l24-10l23-4l21 7l21 4l20-12l19-6l19-31l17 13l17 9l17-1l31 2l30-24l28-19l26-1l25 32l24 2l22 13l22 17l21-12l20 14l19-15l18-7l18 19l17 12l16-15l24-29l23 3l22-12l20 2l20-2l19 8l19-7l17 9l17-4l17 11l21 14l20-1l20-3l19 8l18-9l17-15l17-16l16-10l20-18l19 2l18-2l17 8l17 8l16-10l19-4l18 4l18-1l17 8l16-12l18 5l18-2l17-11l17-19l18 4l18 12l16-6l17-2l18-2l17-6l16-1l16 3l18-8l16 5l16-3l17 9l17 2l17-4l17 7l16-6l17-1l17-1l17 6l16-1l18-3l16 1l17 2l16 9l17-1l17 3l16 2l17 7l16-1l17-4l16 0l16 10l17 0l16 0l17 8l16-1l17 0l16 8l16 0l16-5l16-4l16 0l17-2l16 3l16-2l12 0"/>
<path d="M0 -1288l338-288l197-87l140-51l109 5l89 183l75 54l65 67l57-15l52-61l46 64l42 39l39 60l37 5l33-69l32 8l29 61l28 36l26-14l25 44l24 2l23 29l21 18l21-40l20 4l19 2l19-35l17-2l17-18l17-21l31-2l30-4l28 5l26 45l25 9l24 10l22 19l22-14l21-1l20 11l19 16l18 0l18 6l17-9l16 3l24-1l23-2l22 2l20-1l20-11l19-7l19 4l17 7l17 0l17-4l21 2l20-3l20-18l19 11l18-5l17 8l17-6l16 12l20 6l19 24l18 2l17 12l17 3l16 4l19 5l18-2l18-1l17 0l16 12l18-4l18 1l17-4l17 2l18-2l18-3l16-1l17-2l18 3l17-5l16 5l16-7l18-2l16 0l16 2l17 1l17-3l17 5l17-5l16-1l17 3l17-6l17 3l16-1l18 0l16-7l17-7l16-3l17 2l17 3l16 3l17-1l16 4l17 6l16-3l16-2l17-1l16 4l17-2l16 4l17-1l16-3l16 5l16 0l16 3l16 3l17-6l16-1l16-10l12-3"/>
<path d="M0 -1288l338 496l197-69l140-286l109-5l89 35l75-140l65 21l57-27l52-68l46 42l42-54l39-63l37-78l33 62l32-20l29 33l28 30l26 6l25 40l24-34l23 23l21 20l21 14l20 39l19 14l19 20l17 6l17 19l17 28l31-4l30 11l28 7l26-1l25 0l24-3l22-10l22-1l21-7l20-57l19-2l18-14l18-22l17 6l16-1l24 4l23 5l22 0l20 22l20 24l19-22l19-4l17 2l17 5l17-14l21-6l20 8l20 19l19 11l18-20l17 28l17 3l16 9l20-2l19-4l18-3l17 4l17 4l16 2l19-10l18 1l18-4l17-11l16 0l18 2l18-3l17-10l17 5l18-9l18-4l16 7l17-10l18 4l17-4l16-5l16 11l18-4l16 2l16 6l17-7l17-7l17 2l17 8l16 8l17 4l17 3l17 7l16 2l18-5l16-4l17-3l16 2l17 11l17-5l16 1l17 0l16 5l17 3l16 10l16-3l17-1l16-3l17-5l16 2l17 0l16 5l16-2l16 0l16 2l16 4l17-3l16 3l16 1l12-1"/>
<path d="M0 -1288l338-81l197 90l140-145l109 70l89 125l75-53l65 3l57-44l52 97l46 9l42-33l39 17l37 24l33 78l32 5l29 26l28-32l26 7l25 21l24-8l23-5l21-15l21-11l20-12l19 2l19 25l17-3l17-7l17 38l31-14l30-11l28 2l26-8l25 4l24-9l22-10l22-13l21-12l20 4l19-2l18 12l18 12l17-17l16-23l24 26l23 15l22-18l20 6l20-7l19 0l19-6l17 4l17 12l17 6l21-10l20-1l20-8l19-5l18-8l17 5l17-2l16 4l20 2l19 7l18 13l17-2l17-8l16 7l19 10l18 1l18 9l17-10l16-8l18 4l18-6l17 3l17-14l18-9l18 4l16-2l17-2l18-9l17 0l16-8l16 10l18 0l16 4l16 1l17-3l17 5l17-10l17 8l16-4l17-2l17 7l17-3l16 3l18-1l16 1l17-2l16 3l17 3l17 2l16 2l17 4l16-4l17-7l16 0l16 2l17-5l16-7l17 0l16 2l17-3l16 1l16-6l16 0l16 2l16-2l17 3l16 0l16-8l12-1"/>
<path d="M0 -1288l338 439l197-26l140-61l109-78l89-11l75-103l65-124l57 90l52 9l46 19l42-55l39 3l37 26l33-12l32-2l29 0l28 8l26-26l25 4l24 23l23-18l21-15l21 30l20 29l19 13l19 14l17-8l17-2l17 18l31 13l30 48l28 12l26-19l25 21l24 25l22 22l22 3l21-10l20-15l19 11l18-10l18-1l17-25l16-17l24-6l23-4l22-11l20-4l20-22l19 21l19 24l17-12l17-10l17 8l21-7l20 17l20-16l19-29l18 3l17-15l17-5l16-2l20-15l19-6l18-10l17 11l17 4l16-3l19-4l18 13l18 3l17-11l16-2l18 4l18 7l17 0l17 0l18-6l18 5l16 5l17-4l18 0l17 9l16 3l16-2l18-10l16-3l16-9l17-4l17-4l17 6l17 12l16-2l17 1l17 1l17-1l16-5l18 5l16 0l17-3l16-3l17 5l17-1l16 6l17-5l16-7l17-1l16-5l16-4l17 3l16-4l17-2l16 3l17 4l16-5l16 3l16-6l16-2l16-4l17 2l16 4l16 2l12-4"/>
<path d="M0 -1288l338-261l197-124l140 73l109 164l89 13l75-30l65 81l57 73l52 80l46-6l42 43l39 8l37 9l33-9l32-6l29-40l28 2l26-36l25-11l24 3l23 11l21 22l21 7l20 26l19-20l19 29l17 1l17-32l17-21l31-27l30 6l28 22l26 14l25 33l24 6l22-2l22 37l21 16l20 18l19 22l18-13l18-18l17-3l16-13l24 15l23-14l22-17l20 1l20 6l19-9l19-10l17-11l17-8l17-22l21 7l20-11l20 1l19-5l18-19l17 5l17-8l16 3l20 2l19-10l18 5l17 1l17 20l16 10l19-9l18-7l18 8l17-1l16 7l18-1l18 7l17-3l17-4l18-10l18 14l16 4l17 6l18 0l17 5l16-1l16-9l18 1l16-5l16 3l17 3l17 4l17 5l17 6l16 4l17 3l17-13l17 1l16 5l18 6l16 6l17-1l16 7l17-3l17 0l16-2l17 4l16 1l17-2l16-5l16 2l17 1l16 0l17-3l16 3l17 3l16-3l16 3l16-4l16 6l16 0l17 1l16 2l16-2l12-1"/>
<path d="M0 -1288l338 100l197-227l140 27l109 93l89 38l75-39l65-46l57 71l52 48l46 139l42 20l39 15l37-18l33 0l32 31l29 3l28-54l26 41l25-28l24 26l23 3l21-17l21-27l20-5l19-15l19-6l17 4l17-9l17 18l31-1l30-30l28-30l26-13l25-4l24-4l22-14l22 9l21-10l20 11l19-3l18 16l18 10l17-4l16 0l24 25l23 5l22-8l20-2l20 9l19 6l19 6l17-4l17-9l17-9l21-20l20-7l20 4l19 3l18 9l17-1l17-9l16-18l20 10l19 5l18 1l17 10l17-14l16 6l19 0l18-2l18 4l17-2l16-5l18 0l18-4l17 1l17 8l18-2l18 10l16 4l17-2l18-4l17-2l16-2l16 6l18 0l16 8l16 4l17 3l17 10l17-4l17-10l16 7l17-9l17 3l17 1l16-1l18-11l16-9l17-8l16-5l17-1l17-2l16 1l17 3l16-4l17 2l16 0l16 8l17 5l16 0l17 0l16 0l17 4l16-3l16 0l16 1l16 5l16 1l17-2l16 4l16-3l12 0"/>
<path d="M0 -1288l338 135l197-163l140 119l109 146l89 14l75-27l65-88l57 68l52-93l46 77l42-71l39-37l37-34l33 25l32 13l29-18l28 38l26-9l25 24l24 5l23 11l21-38l21-20l20-33l19 4l19 7l17 29l17-2l17-1l31 44l30 4l28 1l26 24l25 1l24-3l22 2l22-17l21 5l20-3l19 24l18 17l18-5l17-31l16 5l24 31l23-12l22 3l20-5l20 8l19-10l19 9l17 15l17-15l17-17l21-1l20 17l20-5l19-23l18 0l17 2l17-4l16-2l20 3l19 9l18 2l17-7l17 18l16 2l19 12l18 8l18 5l17 3l16-4l18-1l18-6l17-5l17-1l18 7l18-12l16-6l17 0l18-2l17-4l16 1l16-21l18-2l16 2l16-2l17 5l17 5l17 6l17 0l16-1l17-3l17 5l17 4l16-1l18-1l16-7l17-5l16 8l17 2l17 1l16-3l17-2l16 0l17-1l16-7l16-4l17 1l16-4l17-2l16-2l17 1l16-2l16 0l16-4l16-9l16 5l17-3l16-3l16 1l12-2"/>
<path d="M0 -1288l338 519l197-417l140-196l109 169l89 18l75-11l65 25l57 1l52-65l46 21l42-41l39 35l37 23l33 13l32-57l29-7l28-41l26 22l25 5l24-50l23 0l21-7l21 7l20 28l19-16l19 18l17-2l17 11l17 6l31 5l30 41l28-45l26-10l25-8l24-11l22 16l22-11l21-11l20 10l19 16l18-3l18-1l17-5l16 17l24 17l23 6l22 8l20 15l20 4l19-12l19 13l17 15l17 0l17 11l21-16l20-11l20-8l19 15l18 6l17-11l17 9l16 10l20 1l19 10l18-1l17-5l17 6l16 21l19-1l18 1l18 1l17-9l16-4l18 18l18 1l17 2l17 7l18 5l18 20l16-5l17 5l18-8l17-5l16-7l16 3l18 0l16 3l16 6l17 2l17 2l17-3l17-6l16-1l17 7l17-9l17-2l16 7l18 2l16-2l17 6l16 8l17-8l17-1l16-2l17-4l16-6l17-4l16 9l16 4l17-1l16 4l17-5l16-1l17-3l16-1l16-4l16-7l16 3l16-4l17 3l16-1l16 2l12-1"/>
<path d="M0 -1288l338-121l197-69l140 334l109-65l89 125l75-89l65-67l57-61l52-18l46 35l42 7l39-10l37 50l33-28l32-59l29 23l28 5l26 30l25 47l24 1l23 18l21 16l21 38l20 14l19-31l19-3l17-6l17-12l17-7l31 26l30 11l28-2l26 12l25 7l24-11l22 13l22 0l21 29l20-9l19-16l18-10l18 2l17-9l16-19l24-15l23-15l22 28l20-16l20 14l19 7l19 5l17 1l17-19l17 5l21-2l20-11l20-3l19 0l18 1l17 1l17 5l16 3l20-4l19 11l18 0l17 7l17 6l16 1l19-2l18 0l18-1l17 4l16 0l18-6l18-14l17 4l17 7l18 2l18 4l16 9l17 9l18-2l17-1l16-12l16 5l18-6l16-11l16 4l17-1l17 2l17 3l17-6l16-2l17-11l17-5l17-5l16-1l18-1l16 6l17-4l16-1l17-2l17 5l16 2l17 3l16-3l17 3l16-1l16-3l17 6l16-4l17-2l16-1l17 5l16 2l16-1l16-1l16-7l16 3l17-1l16-7l16 0l12-1"/>
<path d="M0 -1288l338-66l197-26l140 28l109 57l89 2l75 65l65 10l57-31l52 124l46-13l42 6l39 6l37-67l33-12l32-17l29 37l28 31l26-39l25-3l24-8l23 54l21 25l21 1l20-6l19-16l19 23l17 13l17-5l17 15l31 9l30 31l28-16l26-11l25-11l24-3l22 5l22-19l21-11l20 1l19 1l18 5l18-10l17 3l16 5l24-7l23 27l22 17l20 1l20-3l19 5l19-5l17-6l17-3l17-2l21-8l20-16l20 18l19-4l18-19l17-5l17 2l16 1l20-9l19-4l18 8l17 8l17 1l16 12l19-19l18-1l18-5l17-9l16 1l18-6l18-17l17-3l17-5l18 2l18 10l16 1l17-2l18 9l17 3l16 0l16 15l18-9l16-8l16 5l17-2l17 4l17 5l17 2l16 8l17-2l17 7l17-1l16-2l18-1l16 7l17 2l16-5l17 4l17 1l16-9l17-5l16 0l17 2l16-3l16 5l17 1l16 1l17 0l16 2l17 3l16 4l16 0l16-2l16 3l16-4l17-3l16-3l16-1l12-4"/>
<path d="M0 -1288l338 621l197-206l140 29l109-228l89 10l75 100l65-80l57-28l52-9l46-13l42-19l39-12l37 72l33-6l32 4l29 37l28-32l26 17l25-10l24 18l23 20l21 13l21-11l20-24l19-10l19 1l17-24l17-21l17 10l31-19l30 35l28 2l26 12l25 20l24-7l22-17l22-4l21 0l20-4l19 2l18 2l18 4l17-3l16 18l24 1l23-24l22 0l20-28l20 11l19-20l19-16l17-8l17-22l17-8l21-17l20 7l20-6l19-6l18 15l17 6l17-1l16 2l20 15l19-8l18 2l17-2l17 2l16 3l19 14l18 19l18 5l17 11l16-5l18-2l18-16l17-2l17 8l18-5l18-11l16-4l17 5l18-2l17-5l16-10l16 1l18 1l16-2l16-3l17 0l17-6l17-4l17-4l16 4l17-8l17 0l17-9l16-5l18 1l16 3l17 7l16-3l17-2l17-7l16-8l17-4l16 0l17 5l16-5l16-3l17 4l16 2l17-1l16-2l17 3l16-7l16-3l16 7l16 4l16 0l17-1l16 3l16-5l12 3"/>
<path d="M0 -1288l338 794l197-18l140-93l109-182l89-216l75-170l65 122l57-39l52-1l46 58l42-22l39-64l37-11l33 25l32-53l29-7l28-20l26-6l25-10l24-20l23 33l21 3l21-2l20 38l19 4l19-33l17 25l17-12l17-11l31-31l30 28l28-2l26-58l25-9l24 21l22 18l22-10l21-15l20-12l19-6l18 5l18 5l17-7l16-1l24 1l23 3l22 11l20-7l20-1l19 8l19-13l17 1l17 1l17-13l21-4l20 11l20 6l19 17l18 1l17-13l17 0l16 6l20-5l19 8l18-1l17 4l17 0l16-10l19 4l18 5l18 1l17 5l16 1l18 2l18 4l17 10l17-3l18 0l18 1l16 11l17-3l18 6l17-1l16-8l16-2l18-2l16 3l16 2l17 0l17 4l17 2l17 6l16 3l17 1l17-2l17 9l16-7l18-1l16-4l17 1l16 6l17 1l17 1l16 1l17-2l16 2l17 1l16 11l16 3l17-4l16 1l17 0l16 0l17 2l16 3l16 4l16-3l16 0l16 3l17 3l16 1l16-2l12-1"/>
<path d="M0 -1288l338 381l197 5l140 94l109 104l89-75l75-161l65-40l57 41l52 5l46 40l42-66l39-30l37 6l33 0l32 10l29-22l28 2l26-42l25 35l24 6l23 8l21-37l21-20l20 24l19-3l19 11l17-5l17 29l17-13l31-10l30-20l28-4l26 1l25 2l24 7l22-11l22 15l21-8l20-25l19 24l18-19l18-15l17 27l16 2l24 12l23-7l22-4l20-3l20-32l19-11l19-2l17-21l17-1l17-1l21-24l20 9l20-8l19 3l18 3l17 9l17-9l16 3l20-6l19-17l18-6l17 6l17-7l16-1l19 3l18-3l18-10l17 2l16 6l18-12l18 1l17 11l17 2l18 5l18-1l16-1l17-4l18 13l17 4l16-2l16 3l18-2l16 3l16-4l17-2l17-5l17 4l17 2l16 0l17-4l17 3l17-2l16 5l18-7l16-2l17 4l16-1l17 1l17-2l16 4l17 0l16 3l17-2l16 1l16 5l17 1l16 6l17 9l16 1l17-6l16-3l16-3l16-5l16-5l16-2l17-7l16-1l16-2l12-2"/>
<path d="M0 -1288l338 87l197-154l140-84l109 0l89 120l75-9l65-80l57 122l52 100l46-73l42 10l39 10l37-57l33-63l32 24l29 0l28-23l26-50l25 52l24-7l23 40l21 15l21 6l20 18l19-4l19 20l17 11l17-15l17 13l31 25l30-5l28 1l26-9l25 2l24 32l22 14l22-15l21 11l20-9l19 22l18 12l18 13l17-3l16-3l24-13l23 6l22 0l20 0l20-10l19-5l19-9l17-5l17 8l17 3l21 14l20 0l20 23l19-17l18 12l17 2l17-7l16 6l20-20l19-15l18-2l17-3l17 0l16-1l19 11l18-6l18-12l17 5l16-2l18 8l18 3l17 10l17 15l18-2l18-4l16-19l17 6l18-2l17 8l16 2l16 0l18 6l16-4l16-6l17 5l17-3l17 10l17 3l16-6l17 5l17 8l17 2l16-4l18-8l16-2l17-4l16-1l17 1l17-1l16 9l17-3l16-1l17 4l16-2l16 8l17 0l16 3l17-3l16-2l17-2l16 3l16-2l16 3l16 0l16 2l17-2l16 0l16-1l12 6"/>
<path d="M0 -1288l338 107l197-49l140-100l109 124l89 399l75-49l65-34l57-89l52-4l46-42l42-43l39-41l37-60l33 12l32-20l29-16l28-16l26-34l25 7l24 17l23 36l21 9l21-33l20 14l19-26l19 26l17-12l17 3l17 2l31-10l30-13l28 10l26 5l25-29l24 25l22-2l22 4l21-30l20 17l19 12l18 6l18-1l17-9l16-3l24-5l23 13l22-6l20 7l20-5l19 3l19 12l17-24l17 5l17-12l21 7l20 18l20 16l19 6l18-4l17-6l17-12l16 11l20 1l19-14l18 26l17 6l17-4l16-2l19-10l18-11l18 5l17-12l16 14l18-3l18-10l17 2l17 2l18 2l18-1l16 2l17 15l18-7l17 12l16 0l16 2l18 2l16 5l16 5l17-5l17-4l17 3l17 3l16-2l17-6l17-1l17-4l16-1l18 6l16 2l17-7l16 3l17-3l17 3l16 2l17 0l16 0l17 2l16 0l16 5l17 5l16 4l17 0l16 1l17 0l16 3l16 0l16-5l16 3l16-5l17 0l16-1l16 0l12 2"/>
<path d="M0 -1288l338-97l197 276l140-42l109-6l89-158l75 55l65 6l57-35l52-9l46 40l42-50l39-1l37 6l33-13l32 48l29-14l28 36l26-8l25-45l24 8l23-19l21 16l21-11l20 22l19-26l19 3l17 14l17-3l17-8l31 3l30 15l28 18l26-2l25 9l24-41l22 18l22-15l21 19l20 24l19 6l18 8l18-1l17-2l16-4l24 8l23 23l22-20l20 27l20 10l19 7l19-14l17-23l17 10l17 17l21-5l20 3l20 19l19-15l18-7l17 7l17-2l16-4l20-13l19 14l18 5l17 9l17 1l16-1l19-15l18-3l18-18l17 10l16 0l18 12l18 4l17 4l17-4l18-5l18 6l16 6l17-7l18 1l17-1l16 5l16 5l18 0l16 0l16 1l17-7l17 13l17-6l17-8l16 7l17 4l17 2l17 2l16 6l18 2l16 2l17 1l16-1l17 7l17-3l16-2l17 4l16 1l17-2l16 3l16 1l17 3l16 3l17 6l16 1l17-2l16 2l16-2l16-7l16-6l16 0l17-5l16-3l16 4l12-4"/>
<path d="M0 -1288l338 73l197 149l140-110l109 63l89 182l75-36l65 24l57-178l52 4l46 151l42-14l39-116l37-35l33 73l32-23l29 57l28-10l26 5l25-14l24 3l23 9l21-6l21 26l20 1l19-12l19 15l17-17l17-12l17 5l31 13l30-33l28-32l26-12l25-15l24-20l22 15l22 5l21 1l20 20l19 2l18-18l18-18l17 25l16-12l24 22l23-18l22-9l20-4l20-15l19-6l19-8l17-3l17-13l17-11l21-16l20-7l20-2l19 19l18-6l17-4l17 2l16 9l20 12l19 8l18 9l17 7l17 2l16-2l19 4l18-6l18 13l17-5l16-17l18 3l18 2l17 7l17-1l18-15l18 2l16 5l17 3l18-15l17 5l16 9l16-10l18-4l16-9l16 14l17-6l17 2l17 1l17 5l16-3l17-5l17-8l17 1l16-6l18 0l16 7l17 2l16 3l17-2l17-2l16-4l17 2l16-7l17-5l16-3l16 2l17-1l16 1l17 4l16 2l17 0l16-6l16 5l16 2l16-4l16 0l17 2l16 0l16 2l12-2"/>
<path d="M0 -1288l338-249l197-73l140 263l109 101l89 200l75-40l65-25l57-17l52-113l46-22l42 108l39-42l37-4l33 87l32-65l29-52l28-2l26-27l25-9l24-12l23 15l21-2l21 22l20-47l19-20l19-27l17 18l17 1l17 0l31 9l30 29l28 31l26-35l25-12l24 3l22-1l22-4l21 11l20 31l19-20l18 10l18 1l17 16l16 25l24-4l23-7l22 10l20-17l20-15l19 14l19-23l17-1l17-8l17-4l21 0l20 1l20-8l19 11l18 1l17 1l17-5l16 0l20 12l19 20l18-7l17 10l17 10l16 7l19-14l18 6l18-1l17-4l16-6l18 4l18-8l17 5l17 6l18 10l18 1l16 0l17 1l18 8l17 2l16-4l16-4l18-7l16-6l16 11l17-5l17 3l17 5l17-2l16 6l17 2l17-7l17 9l16 3l18-5l16 3l17-5l16-1l17 1l17 5l16 1l17 5l16-5l17-6l16 1l16 1l17 4l16 0l17-1l16-4l17 7l16 1l16-2l16 0l16 6l16 4l17 9l16-1l16 5l12-2"/>
<path d="M0 -1288l338-9l197 106l140 101l109 205l89 34l75-47l65 28l57-116l52-30l46-78l42 82l39 14l37 37l33-33l32-10l29-15l28-7l26 45l25 41l24-27l23-19l21-47l21-17l20 31l19-17l19-6l17-23l17 0l17-6l31-10l30-29l28 4l26 9l25-34l24-19l22-12l22 0l21-13l20-12l19-20l18 37l18 7l17-8l16 7l24-15l23 3l22-12l20-3l20-8l19 19l19 4l17 9l17 12l17-1l21-5l20 17l20 1l19-8l18 3l17-17l17-1l16 2l20-6l19 16l18-15l17-3l17 2l16-1l19 14l18 3l18-3l17 1l16-2l18-11l18 7l17 5l17 0l18 2l18-3l16-6l17 11l18 8l17 4l16 1l16 0l18-9l16-8l16 3l17 4l17-4l17 3l17-2l16 3l17-7l17-9l17 11l16 1l18 4l16 3l17 2l16 6l17 3l17 1l16 10l17-7l16-3l17 3l16 2l16-1l17-5l16-1l17-1l16 0l17-4l16 7l16 3l16 0l16 1l16-4l17 3l16-3l16 1l12-1"/>
<path d="M0 -1288l338-155l197 199l140 264l109 87l89 31l75-102l65-60l57 41l52-46l46-54l42-55l39 27l37-25l33-25l32 41l29-13l28-1l26 7l25-6l24 29l23 7l21-12l21 14l20 45l19-8l19-18l17 12l17 17l17 12l31 29l30 23l28 16l26 3l25-27l24 16l22-12l22 7l21-7l20-1l19-9l18-19l18 3l17-10l16-9l24-11l23 10l22-2l20-8l20 8l19-13l19-4l17-11l17 11l17 2l21-5l20-9l20-15l19-14l18 5l17 0l17-8l16 1l20-8l19 9l18-9l17 4l17 7l16 4l19-3l18-10l18-7l17-2l16-9l18 2l18-6l17-5l17-8l18-10l18-6l16 4l17-1l18 2l17 6l16 4l16 7l18-3l16-6l16 3l17 8l17-6l17 4l17-2l16 5l17-6l17 2l17 0l16-6l18-1l16 4l17 8l16-2l17-10l17-6l16-1l17 2l16 3l17 3l16-8l16-3l17 3l16-5l17-4l16-2l17 6l16 2l16 0l16 1l16-5l16-1l17-2l16-1l16 0l12 2"/>
<path d="M0 -1288l338-560l197-168l140 78l109 176l89 50l75 100l65-9l57 57l52 98l46 41l42-14l39 31l37 51l33 23l32-56l29 67l28-2l26 38l25 17l24 4l23 32l21 17l21-1l20 14l19-11l19-7l17 20l17 7l17 13l31 9l30 19l28-14l26-4l25 8l24 20l22-3l22-4l21-7l20-13l19-2l18 1l18 10l17-4l16 9l24 11l23-19l22-18l20-26l20 9l19 11l19-4l17 4l17 1l17 7l21-29l20 7l20 14l19 7l18 12l17 2l17 5l16-14l20 11l19-1l18 2l17 6l17 1l16 3l19-15l18 8l18 1l17 5l16 4l18-5l18-5l17 10l17-5l18 3l18-3l16 6l17-3l18-5l17-1l16 3l16 5l18-9l16 7l16 0l17 5l17-1l17-7l17 1l16-4l17-4l17-5l17-5l16-5l18 3l16-3l17 3l16-6l17 0l17 0l16-1l17 1l16 2l17-1l16-4l16 5l17-9l16 8l17 2l16 1l17 5l16 1l16 1l16 4l16 0l16-2l17 1l16 2l16 1l12-3"/>
<path d="M0 -1288l338 356l197-10l140-79l109-32l89 41l75-67l65 8l57 96l52-36l46-9l42-16l39-20l37-30l33-65l32 4l29 6l28-16l26 24l25-6l24 32l23-31l21 21l21-17l20-33l19-21l19 22l17 25l17-16l17 3l31 6l30-46l28 31l26-6l25 6l24-22l22 9l22-24l21-5l20-3l19 6l18 9l18 2l17-7l16 0l24 6l23 4l22 6l20-9l20-2l19-10l19 14l17-9l17 18l17-2l21 16l20-4l20 6l19-12l18-2l17-5l17 19l16 1l20 11l19 14l18 2l17 7l17-8l16-3l19-1l18 3l18-7l17-2l16 4l18-2l18-2l17 7l17 0l18-6l18 4l16-1l17-4l18-1l17 1l16-6l16 6l18-8l16 1l16 4l17-7l17-1l17 4l17 5l16-3l17 1l17-2l17 0l16-8l18 1l16-2l17 1l16 3l17 4l17-5l16 1l17-3l16-3l17 4l16-4l16 0l17-1l16-1l17 4l16 3l17-6l16 0l16 4l16 4l16-5l16 2l17 2l16 1l16-3l12-2"/>
<path d="M0 -1288l338 5l197 80l140 136l109 142l89-173l75-45l65 21l57 36l52 61l46-20l42-8l39-37l37 15l33-9l32-12l29-35l28 52l26 3l25 30l24-11l23 28l21-13l21-15l20-44l19-1l19-20l17 18l17-6l17-7l31-22l30 9l28-18l26-4l25-11l24-37l22 2l22-1l21 1l20 9l19 27l18 14l18-7l17 1l16-17l24-10l23 7l22-22l20 13l20 11l19-3l19 6l17 6l17 9l17-8l21-14l20 5l20-12l19 2l18 19l17-3l17 13l16 8l20-6l19-9l18 2l17 4l17-1l16 14l19-9l18 10l18 1l17-6l16-2l18 0l18-1l17 4l17 6l18-6l18-3l16-6l17-11l18 2l17 3l16-7l16-3l18-5l16 2l16 4l17-8l17 6l17-4l17 4l16 7l17-5l17-14l17 4l16-7l18-2l16-5l17-4l16 0l17 1l17 1l16-6l17-2l16 1l17-1l16-8l16 1l17 11l16 3l17 4l16-1l17 5l16 2l16 5l16-5l16 3l16 4l17-1l16-3l16-6l12 0"/>
<path d="M0 -1288l338 475l197-173l140-28l109-128l89 12l75-3l65-82l57-2l52-82l46-73l42 23l39 93l37 22l33 15l32-19l29-33l28-23l26 39l25-14l24 57l23 48l21 19l21-30l20-26l19 8l19-18l17 19l17-5l17 2l31 13l30-6l28 21l26 15l25-28l24-12l22 1l22-13l21 22l20-3l19 14l18-20l18 23l17-5l16-22l24 19l23 6l22-10l20 12l20-10l19 12l19-4l17 6l17-11l17 3l21-23l20 1l20-2l19 8l18-13l17-7l17 8l16 17l20-7l19-10l18 9l17-11l17-1l16 8l19 11l18 1l18 13l17-2l16-1l18 5l18 6l17-13l17-8l18-12l18-8l16 9l17-3l18 3l17-2l16 8l16 0l18 3l16 5l16-4l17-8l17 4l17-10l17 1l16 2l17-1l17 0l17 4l16-2l18 0l16 8l17-3l16 4l17-6l17 1l16-3l17-6l16 0l17 0l16 1l16-3l17 8l16 2l17 0l16-1l17-1l16 1l16 1l16 4l16-2l16-3l17 5l16 6l16 0l12-1"/>
<path d="M0 -1288l338 579l197-177l140-147l109 133l89-210l75 50l65-73l57-19l52 32l46-65l42-29l39 8l37 56l33 0l32-11l29 31l28-68l26 38l25 7l24-6l23 37l21-16l21 16l20 5l19 35l19 12l17 3l17 15l17 11l31-21l30 12l28-6l26-14l25 13l24-44l22-31l22-3l21-33l20 26l19-36l18-18l18 0l17-9l16 3l24 9l23 8l22-1l20 12l20 5l19 7l19-9l17-14l17-5l17-2l21 15l20-1l20 4l19 21l18 2l17 28l17 6l16-8l20-17l19 11l18-19l17-4l17-12l16 0l19-11l18-5l18-5l17 9l16 1l18 9l18-9l17 4l17 8l18-2l18 9l16-1l17-4l18-3l17 3l16-5l16-11l18-5l16-5l16-3l17-11l17 7l17-3l17 2l16 13l17-8l17-5l17 0l16 6l18 2l16 1l17-1l16 2l17 2l17 4l16 0l17-5l16-1l17 4l16-5l16 1l17-9l16 6l17 6l16 1l17 3l16-1l16-4l16 0l16-3l16-2l17 6l16 2l16 8l12 5"/>
<path d="M0 -1288l338-2l197 158l140-136l109 3l89 15l75-34l65 21l57-34l52 5l46 69l42 85l39-19l37 35l33 1l32 23l29 21l28 29l26-2l25 45l24-62l23-9l21-2l21 30l20 10l19-6l19 2l17-4l17-35l17-8l31-28l30 0l28-26l26-16l25 19l24 6l22-6l22-28l21 5l20 10l19 10l18-20l18 21l17-20l16 23l24 3l23 12l22-16l20 10l20-11l19 4l19 21l17 6l17-7l17-1l21-16l20 2l20 18l19-11l18-5l17-9l17 3l16-2l20 18l19 3l18 1l17 6l17-20l16-10l19-3l18-22l18-14l17-5l16-1l18-2l18 3l17-2l17-4l18-9l18-7l16 0l17-1l18-9l17-2l16-2l16 11l18 2l16 8l16 1l17 8l17 6l17-9l17-10l16-4l17 6l17 8l17-1l16 4l18 3l16 4l17-8l16-4l17-2l17 6l16 0l17-2l16-2l17-8l16-2l16 0l17 4l16-2l17 0l16 3l17-5l16 6l16 5l16 4l16 6l16 1l17 6l16 2l16 0l12-2"/>
<path d="M0 -1288l338 53l197 44l140-210l109 71l89-63l75 145l65 53l57 38l52 119l46-3l42 8l39-37l37 0l33 3l32-25l29-5l28 18l26-93l25-50l24-2l23 10l21-10l21 8l20 11l19 6l19 15l17 0l17-13l17-7l31-22l30-49l28-10l26 0l25-4l24 9l22-20l22 22l21 3l20-24l19-4l18 19l18 1l17 0l16-2l24 2l23-19l22 17l20-26l20 5l19-7l19-3l17 35l17 18l17 11l21-2l20 9l20 11l19-15l18-1l17 14l17 3l16-15l20 3l19-1l18 7l17-7l17 11l16 6l19-3l18 5l18 1l17 8l16-1l18 18l18-4l17 1l17 2l18-2l18-1l16 6l17 9l18 2l17-3l16 12l16 8l18-1l16-7l16-6l17 5l17-5l17 0l17 6l16 6l17 2l17 13l17 1l16-7l18 1l16-3l17 9l16 3l17-4l17-1l16-3l17 3l16 2l17-5l16 3l16-9l17 1l16-3l17-4l16 3l17 2l16-2l16 8l16-9l16-1l16 0l17 3l16 0l16 3l12 2"/>
<path d="M0 -1288l338-146l197-299l140 142l109 209l89 118l75 105l65 62l57 13l52-78l46 10l42 23l39-7l37-53l33 3l32 20l29 23l28 3l26 40l25-13l24 3l23 31l21 5l21-12l20-42l19-21l19-7l17-17l17 30l17 24l31-32l30-1l28 0l26 11l25-10l24-6l22-3l22 8l21 16l20 5l19 12l18 8l18 11l17 5l16 17l24-27l23-2l22 18l20-3l20-9l19 8l19 21l17 7l17-10l17-17l21-5l20-16l20 14l19-1l18 2l17-4l17 5l16-13l20-8l19-14l18-10l17 9l17-14l16-4l19 2l18-11l18-2l17 5l16 2l18-3l18 0l17 3l17-4l18 13l18-3l16-3l17-5l18 5l17-1l16-6l16-5l18-8l16 1l16 5l17-11l17-6l17 2l17-5l16-1l17-12l17-1l17 9l16 0l18-5l16-3l17 3l16-2l17 0l17-2l16 4l17-3l16 4l17-6l16-6l16 7l17-3l16-5l17 6l16 0l17-2l16 11l16-9l16-3l16 5l16-1l17-2l16-6l16 0l12-3"/>
<path d="M0 -1288l338-204l197 221l140-119l109 204l89-142l75-46l65-68l57-11l52 8l46 10l42 59l39 62l37-21l33-66l32 41l29 14l28-1l26-4l25 49l24 28l23-15l21 19l21-21l20 15l19-10l19-1l17-7l17 42l17 21l31-16l30 10l28 14l26 3l25-21l24-16l22 13l22 15l21 23l20-20l19 12l18-6l18 10l17 9l16-15l24-9l23 10l22 20l20 13l20 9l19-2l19-7l17 11l17-17l17-3l21-1l20 2l20-3l19 11l18 1l17 5l17 6l16 5l20-4l19 8l18-6l17-4l17 9l16-1l19-1l18 5l18-4l17-1l16 2l18-13l18-6l17-3l17-1l18-1l18 10l16 1l17 1l18-4l17 1l16-4l16 0l18 7l16 2l16 7l17 1l17 8l17 4l17-8l16 0l17-10l17-3l17 8l16 3l18 7l16 1l17 2l16 1l17 0l17-1l16 5l17 2l16 6l17 3l16-5l16-3l17 1l16-5l17 3l16-5l17-2l16-1l16 0l16 1l16-5l16 3l17-7l16 1l16-2l12-1"/>
<path d="M0 -1288l338-105l197-47l140-90l109 193l89 141l75-40l65 8l57 13l52-133l46-40l42 79l39 23l37 45l33 61l32 1l29-11l28 47l26 42l25-9l24 16l23-15l21 23l21 29l20 30l19 26l19-7l17-4l17 4l17-1l31 16l30-8l28 2l26 13l25-21l24-12l22 1l22-7l21-3l20-27l19-6l18 17l18-5l17-8l16 9l24 8l23-22l22 16l20-6l20-2l19 4l19-6l17 7l17-4l17 18l21 3l20-13l20 8l19-15l18-11l17 4l17 3l16 12l20-7l19-18l18 0l17-1l17-1l16-1l19-5l18-12l18 4l17 1l16 4l18 5l18-9l17-4l17-7l18-14l18 2l16-8l17-4l18-4l17 3l16-9l16 2l18 6l16 6l16-1l17 3l17-3l17 2l17-1l16-4l17-3l17-3l17-4l16-6l18-2l16 2l17-4l16 3l17-4l17-8l16 0l17-1l16 7l17 4l16 0l16-5l17-4l16-6l17 0l16-10l17 6l16-2l16 3l16 4l16 0l16-1l17 4l16-5l16 0l12 1"/>
<path d="M0 -1288l338 19l197 147l140-24l109 160l89-105l75-115l65-36l57-25l52 3l46 13l42-52l39 58l37 25l33-19l32 14l29 34l28-7l26 11l25-49l24 41l23-1l21 4l21-4l20-2l19-2l19 0l17-1l17-39l17-15l31-38l30 2l28 10l26-4l25-14l24 25l22 11l22 15l21 5l20 30l19-9l18 21l18 12l17 20l16 24l24-18l23 23l22-17l20 3l20 4l19 8l19-16l17 4l17 10l17-16l21 16l20-8l20 2l19 12l18-10l17-2l17 13l16-7l20-13l19 3l18-19l17-9l17 0l16-3l19-15l18 4l18-3l17 3l16 7l18-5l18-2l17 7l17 6l18-11l18 0l16-10l17 7l18 3l17 2l16-6l16 6l18-4l16 3l16-7l17-1l17 5l17 4l17 7l16-1l17 7l17 1l17 3l16-6l18 0l16 5l17-11l16-3l17 3l17 10l16 5l17-5l16 3l17 5l16 3l16 8l17 7l16 3l17 7l16 5l17-1l16 0l16-6l16-2l16 0l16-4l17-2l16-7l16-4l12 3"/>
<path d="M0 -1288l338-336l197-67l140 123l109-62l89 114l75 38l65-34l57 23l52 36l46-51l42 6l39-47l37 65l33-39l32-3l29 13l28-53l26-11l25 18l24 39l23-3l21 19l21 25l20 1l19-1l19 20l17 3l17-9l17 0l31 0l30 35l28-16l26 9l25 27l24 15l22 1l22 16l21-4l20 11l19-16l18 4l18-1l17 0l16 12l24 4l23 12l22 11l20 27l20 0l19 30l19 12l17 4l17-8l17-21l21 0l20 9l20 8l19-2l18 5l17 4l17-5l16 18l20 19l19-4l18 10l17-6l17-5l16 8l19-2l18 1l18 0l17-4l16-11l18 9l18 2l17 2l17 2l18 8l18 11l16 9l17 3l18 4l17 4l16 5l16 2l18-8l16 13l16 6l17-9l17 10l17-9l17-8l16 10l17 1l17 4l17-1l16 4l18 1l16-2l17 1l16 3l17-9l17-5l16 2l17-2l16-1l17 6l16-4l16-5l17 5l16-1l17 0l16-3l17 4l16-1l16-3l16-3l16 0l16 0l17 5l16-1l16 3l12-1"/>
<path d="M0 -1288l338-165l197-66l140 10l109 312l89-87l75-56l65 30l57 16l52 70l46-22l42 43l39 49l37 11l33-17l32 22l29 55l28 62l26-2l25-5l24-3l23-26l21-15l21 39l20 17l19-38l19 17l17 15l17 7l17-28l31 2l30-23l28-14l26-26l25-26l24-13l22 13l22 16l21-14l20-11l19 7l18-10l18 21l17 14l16 7l24-29l23-16l22 15l20 1l20-3l19 0l19-21l17 7l17 7l17-4l21-1l20 2l20 3l19 12l18 0l17-2l17-1l16 4l20 6l19 1l18 1l17-19l17 3l16-3l19 7l18 1l18-2l17-5l16 12l18 5l18 3l17-6l17-7l18 1l18-7l16 2l17 5l18-4l17-6l16-11l16-6l18-3l16-3l16-1l17 2l17 9l17-7l17 7l16 4l17 0l17-6l17-2l16 4l18 3l16 0l17-6l16 2l17-6l17-8l16-4l17-1l16 0l17 0l16 1l16-6l17-2l16-1l17 11l16 1l17 3l16 4l16-3l16 1l16 2l16 1l17-3l16-2l16-1l12-4"/>
<path d="M0 -1288l338-16l197 294l140-290l109-99l89-11l75 35l65 157l57-18l52-44l46-6l42-13l39 80l37 39l33-4l32 27l29-72l28 11l26 33l25 27l24-12l23 23l21 0l21-14l20-14l19 0l19-9l17-12l17 1l17 8l31 14l30 10l28 2l26-14l25-33l24-7l22 1l22 27l21-12l20 17l19 18l18 11l18-4l17 2l16 11l24-10l23-7l22 11l20 4l20-12l19-2l19-2l17 11l17-12l17-1l21-13l20 6l20 1l19-13l18 4l17-4l17 15l16-4l20-1l19-13l18 20l17-1l17 1l16-12l19 3l18 6l18-1l17 13l16 3l18 5l18-12l17 11l17-1l18-10l18-1l16-2l17-3l18-1l17-11l16 6l16 8l18 0l16-7l16-2l17 1l17-9l17 2l17 5l16-3l17-4l17 0l17 3l16 6l18-6l16 2l17 4l16-2l17 1l17-6l16 4l17 2l16 4l17 0l16 0l16-5l17 2l16-1l17 5l16-2l17 4l16 0l16 0l16 2l16 1l16-2l17 2l16-4l16 6l12 0"/>
<path d="M0 -1288l338-174l197 217l140-95l109-54l89 29l75 92l65 35l57 19l52-35l46-49l42-9l39 16l37 32l33 18l32 5l29-25l28-19l26 18l25-2l24 33l23 21l21 9l21-4l20-32l19 35l19-66l17 12l17 4l17 29l31-10l30 19l28-23l26-12l25 3l24-13l22-3l22 8l21 11l20 11l19-5l18 22l18 4l17-1l16-6l24 0l23 2l22 4l20 6l20-11l19 14l19-6l17 14l17-14l17-7l21-1l20-10l20-8l19-5l18 20l17-12l17 5l16-9l20 9l19 3l18-16l17 9l17 13l16-7l19-10l18 11l18-3l17-2l16 4l18-4l18 0l17 8l17 7l18 11l18 15l16 2l17 9l18-13l17-2l16 11l16-4l18 5l16 2l16-3l17 7l17 5l17 0l17-8l16 0l17-4l17 4l17-4l16 2l18 3l16 7l17-8l16-2l17-6l17 7l16 2l17 2l16-6l17-5l16 5l16 1l17 3l16 2l17-4l16 3l17-2l16 0l16 4l16-3l16 5l16 0l17 4l16-5l16-3l12 0"/>
<path d="M0 -1288l338-44l197 18l140 272l109 79l89-173l75 62l65 118l57 7l52-21l46-108l42-12l39-14l37 5l33-32l32 21l29 18l28-70l26 18l25-12l24 24l23-3l21-28l21 18l20-32l19 40l19-24l17 14l17 20l17 3l31-8l30 9l28-10l26-28l25-13l24 2l22 6l22-9l21 11l20 19l19 16l18 13l18-10l17 18l16 6l24 9l23-10l22 12l20 11l20-3l19-24l19-15l17-7l17 25l17 11l21-1l20-10l20-11l19-12l18 5l17-16l17-23l16 0l20-2l19-16l18 1l17 3l17-4l16-4l19-7l18 9l18 1l17 9l16-3l18 6l18-4l17 17l17 5l18-10l18-2l16 0l17-1l18-11l17-6l16-1l16-6l18-4l16 10l16-2l17-4l17-5l17 0l17 5l16-1l17-6l17 4l17 6l16 2l18 2l16-2l17-8l16 1l17 2l17-1l16 1l17 6l16 6l17 3l16-4l16-4l17-1l16-3l17-3l16 1l17 0l16 0l16-1l16-1l16 4l16-5l17 1l16-5l16 0l12 0"/>
<path d="M0 -1288l338-460l197 221l140 162l109 28l89 99l75 14l65 0l57 26l52-31l46-35l42 86l39 12l37 29l33-27l32-27l29-37l28-35l26-16l25-33l24-14l23 32l21-14l21 17l20-56l19-12l19 26l17 12l17-11l17 5l31 9l30 18l28 23l26-3l25-15l24 55l22-14l22-21l21-4l20-4l19 8l18-19l18 32l17 0l16 25l24 1l23-25l22 24l20 18l20 14l19-3l19 14l17 12l17-6l17 8l21 3l20 7l20 3l19 6l18-26l17 2l17-8l16-10l20 11l19 8l18 3l17-14l17-5l16-4l19-4l18-6l18 7l17-2l16 0l18 9l18-2l17-3l17 1l18-4l18 1l16 1l17 11l18-7l17 2l16 3l16 7l18 6l16 2l16-2l17-1l17-7l17 14l17 0l16-4l17-1l17 1l17 1l16 11l18 4l16 3l17-3l16 1l17-1l17 1l16-3l17-6l16-2l17-1l16-5l16-1l17 3l16 0l17-6l16 4l17 4l16-1l16-2l16 3l16 0l16 1l17-3l16-1l16-1l12 3"/>
<path d="M0 -1288l338-193l197-4l140 261l109 100l89-32l75 84l65-53l57-28l52-35l46-50l42-12l39 24l37-53l33-83l32 78l29 9l28 4l26 3l25 20l24 22l23-6l21 20l21-39l20 23l19 0l19 8l17 20l17-10l17 9l31-12l30 19l28-16l26-8l25 35l24 29l22-19l22-30l21 50l20-11l19 5l18-1l18-11l17-10l16 19l24 7l23-7l22-23l20 0l20-8l19-5l19 17l17-2l17-15l17 8l21-8l20-1l20 9l19-6l18 7l17 1l17 9l16-10l20-12l19 6l18-3l17 4l17 2l16 2l19-3l18-1l18-9l17 4l16-1l18 1l18-6l17 3l17-3l18 0l18 10l16-10l17 9l18 4l17-3l16 2l16-6l18 5l16 7l16 5l17 2l17 2l17-12l17-12l16-9l17-4l17 2l17-8l16-3l18 3l16 4l17-7l16 0l17 11l17 0l16 4l17 2l16-2l17 2l16 5l16 3l17-8l16 2l17 3l16 4l17 4l16 1l16 2l16 3l16 0l16 5l17-1l16-6l16 0l12-2"/>
<path d="M0 -1288l338 149l197 307l140 54l109-38l89-48l75 55l65-156l57 146l52-43l46 51l42-10l39 22l37-7l33 20l32-29l29 8l28-10l26-42l25-39l24-24l23 28l21-13l21-36l20-10l19-22l19 15l17-6l17 0l17 5l31 32l30 7l28-20l26 7l25-9l24 16l22-11l22-17l21-16l20-36l19-19l18-43l18 0l17-5l16-8l24 2l23 11l22-11l20 15l20-6l19 12l19-15l17 7l17 5l17 12l21-9l20-2l20-9l19-9l18 9l17-6l17-11l16-9l20 1l19-12l18-1l17 2l17 6l16 4l19 6l18-12l18 6l17 0l16 11l18 1l18-5l17 0l17 8l18-3l18-4l16-9l17-1l18 15l17 0l16 7l16 2l18-2l16-4l16-2l17 0l17 4l17-10l17-3l16-8l17-4l17 1l17-7l16 2l18 2l16-2l17-12l16-10l17-8l17 1l16 3l17 0l16 1l17-1l16-5l16-8l17 2l16-3l17-1l16 0l17-4l16-2l16-5l16-4l16-6l16 0l17-1l16 0l16 4l12-1"/>
<path d="M0 -1288l338 334l197 57l140-56l109-97l89 94l75-80l65-19l57 110l52 89l46-14l42-43l39-11l37 59l33-32l32 2l29-57l28 27l26-66l25 12l24-1l23-2l21-4l21 39l20 12l19-43l19-37l17-18l17-32l17-29l31 6l30 1l28-6l26-2l25-18l24-11l22 15l22-4l21 15l20 8l19-13l18-4l18 1l17-4l16 0l24-8l23-6l22-18l20-21l20 0l19 13l19-16l17 6l17-6l17 11l21-4l20 8l20 12l19 6l18-6l17 4l17 2l16 0l20 21l19-6l18 13l17-9l17 0l16 6l19-1l18 6l18 3l17-13l16-2l18 1l18 0l17 3l17-2l18-5l18 3l16-5l17 6l18 10l17 5l16-6l16-8l18 2l16-5l16-3l17 0l17 0l17-3l17 2l16-3l17 5l17-2l17-1l16-8l18-2l16-7l17 0l16 8l17-5l17-2l16-4l17 8l16-11l17-2l16-5l16-2l17 0l16-1l17 1l16 3l17 2l16-4l16 0l16 1l16-2l16-8l17 5l16-5l16-1l12-1"/>
<path d="M0 -1288l338 394l197-143l140 9l109-152l89-90l75 47l65 49l57-26l52 26l46 21l42-74l39 47l37 7l33-33l32 62l29-39l28 9l26-8l25-43l24 24l23 9l21-21l21 26l20 19l19-15l19 2l17-1l17 20l17-20l31-8l30 13l28 14l26-34l25 16l24 19l22-19l22 32l21-11l20 14l19-4l18-16l18 0l17-16l16-11l24 2l23 17l22 6l20 30l20-8l19-1l19 20l17-5l17 7l17-2l21 3l20-16l20-17l19 5l18-9l17-1l17 8l16-7l20 11l19-6l18-2l17 0l17-11l16 0l19 7l18-1l18-5l17 1l16 6l18-6l18-2l17 0l17 9l18 4l18-2l16-11l17 8l18 7l17-13l16 10l16-7l18 1l16-8l16-14l17-7l17-7l17-4l17 10l16-2l17-7l17 8l17 7l16 3l18 3l16 1l17 3l16-4l17-3l17-3l16-6l17 0l16 2l17 7l16 4l16-7l17 0l16 1l17-2l16 5l17 1l16 2l16-2l16 0l16-3l16-5l17-2l16 2l16 4l12-5"/>
<path d="M0 -1288l338 240l197 177l140-54l109-106l89-94l75-40l65-81l57-10l52-26l46 42l42-35l39-45l37 21l33 8l32 64l29 31l28-20l26 26l25 7l24-25l23-16l21 18l21 2l20-7l19 9l19-5l17-37l17-6l17-20l31-14l30-1l28 30l26 33l25-3l24 15l22-31l22 50l21 7l20-6l19 7l18 31l18-24l17-1l16-20l24-19l23-21l22 23l20-6l20-1l19 10l19 20l17-2l17 12l17 14l21 1l20-13l20 17l19-1l18-3l17-9l17 12l16-10l20-8l19 1l18-2l17 5l17-4l16 4l19 10l18-3l18 5l17 11l16-2l18 2l18-3l17 12l17 9l18-3l18 2l16 8l17 3l18 2l17 10l16-1l16-5l18-2l16 1l16-2l17-1l17-6l17 1l17 4l16-4l17 6l17 2l17 3l16-5l18-3l16-4l17 3l16-1l17 0l17-4l16 1l17 4l16-7l17 0l16 0l16-4l17-3l16-1l17 0l16 2l17 0l16-3l16-1l16 5l16 2l16 4l17 1l16 4l16-7l12-1"/>
<path d="M0 -1288l338 185l197 11l140-185l109 35l89-28l75-22l65-110l57 9l52 12l46 21l42-50l39-91l37 13l33-13l32 3l29 5l28 40l26 26l25 14l24-6l23-29l21 31l21 63l20-10l19 2l19 14l17 6l17 5l17 12l31-18l30 6l28 12l26 0l25 13l24 21l22 18l22-2l21-3l20-5l19 30l18 5l18-1l17 23l16 4l24 7l23 15l22-6l20 2l20 9l19 4l19-16l17-4l17 18l17-14l21 7l20-2l20-9l19-16l18 13l17 8l17 5l16-14l20 12l19 2l18-8l17 3l17 25l16-26l19 1l18 10l18 8l17-3l16-6l18 20l18 3l17-4l17-7l18-8l18-1l16-2l17-3l18 0l17 1l16-3l16-2l18 4l16 5l16-6l17-10l17-3l17 4l17-4l16-1l17 5l17 1l17 3l16-3l18 8l16 3l17-4l16-9l17-1l17 3l16 12l17-3l16 6l17-2l16 4l16 5l17 3l16 3l17-4l16-2l17-5l16-2l16 3l16 6l16 7l16-3l17 0l16 0l16 7l12 3"/>
<path d="M0 -1288l338 313l197-317l140-69l109 68l89 49l75 2l65-5l57 23l52-61l46 57l42 43l39-58l37 23l33 30l32 15l29 26l28 6l26-32l25 9l24 23l23-38l21-23l21 41l20-23l19-30l19-19l17-14l17 7l17-15l31 41l30 33l28-12l26-39l25 4l24 25l22 32l22-6l21 15l20 4l19 13l18-20l18 28l17-18l16 19l24-7l23-21l22 17l20-4l20-2l19-5l19-18l17 6l17-14l17-4l21 6l20 13l20 29l19-4l18-8l17-10l17 4l16 13l20-6l19 13l18-6l17 9l17 6l16-10l19-21l18 2l18-1l17 10l16-6l18-16l18 2l17-4l17 7l18 2l18 14l16 14l17 5l18 0l17-1l16-4l16 7l18 10l16 4l16-4l17-6l17 6l17-6l17 4l16 4l17 7l17-4l17 4l16 1l18-7l16 0l17-3l16 5l17-2l17-2l16-8l17 2l16-1l17 3l16-3l16 7l17 3l16-2l17 0l16 0l17-5l16-1l16-4l16-1l16 1l16-1l17-3l16 2l16-2l12-3"/>
<path d="M0 -1288l338-129l197-198l140 245l109 12l89 21l75 72l65 3l57 50l52 14l46 10l42-26l39 3l37 26l33-66l32-10l29 34l28 3l26 21l25-29l24 57l23-30l21-13l21 42l20 1l19 10l19-24l17 26l17-60l17 45l31 12l30-9l28 34l26-38l25 5l24-10l22 5l22 7l21 2l20-3l19-10l18 7l18 12l17 6l16 1l24-5l23-3l22-14l20 20l20-2l19-6l19-4l17-12l17-4l17-22l21 4l20 13l20 5l19-2l18-2l17-7l17-17l16 0l20 2l19-2l18-3l17 3l17 5l16 3l19 10l18-2l18 0l17 10l16-4l18 15l18-13l17 2l17 5l18 1l18 3l16 5l17-6l18-2l17 16l16 3l16 8l18-4l16 2l16 4l17-3l17 6l17-9l17 0l16 0l17-10l17-2l17 7l16-7l18 4l16-7l17 0l16 2l17-2l17-4l16 1l17 7l16 3l17 1l16 1l16-7l17 4l16 1l17-6l16 7l17 0l16 1l16-2l16 0l16 3l16 4l17-6l16 2l16-4l12-3"/>
<path d="M0 -1288l338 163l197-229l140 49l109 83l89 128l75-14l65-21l57 59l52-39l46-28l42-37l39 47l37-12l33-68l32 7l29 7l28 10l26-5l25 40l24-41l23 8l21 2l21 25l20 12l19 3l19-5l17 9l17-6l17 1l31 18l30-5l28 0l26 20l25 10l24-19l22 1l22-35l21 0l20-15l19 7l18-2l18-1l17 6l16-19l24-33l23 1l22 14l20-3l20 7l19-8l19 7l17-7l17 3l17-26l21-8l20-11l20 6l19 5l18-4l17 7l17-14l16 22l20 1l19 8l18 17l17 4l17-3l16-4l19 5l18-5l18 2l17 1l16 3l18 2l18-10l17 5l17-1l18 2l18-2l16 0l17 8l18 2l17 4l16-1l16 9l18 4l16 7l16 2l17 11l17-1l17 4l17-1l16-2l17-1l17 1l17 4l16-7l18-7l16-10l17 0l16-4l17-2l17-6l16 1l17-3l16 1l17-9l16 6l16 0l17 4l16 3l17 3l16-1l17-1l16-4l16-2l16-6l16-3l16 4l17-2l16 0l16 0l12-2"/>
<path d="M0 -1288l338-355l197 230l140-144l109 41l89-28l75-4l65 56l57 38l52 90l46 76l42 58l39-77l37 55l33-27l32 16l29 14l28-6l26-34l25-12l24 46l23-32l21 18l21-7l20 41l19 15l19-14l17-11l17-37l17 19l31-9l30 24l28 39l26 25l25 14l24-2l22 13l22 14l21 8l20-25l19-9l18 18l18-14l17 26l16-5l24-5l23-27l22-16l20-14l20-13l19-5l19 2l17 2l17-1l17-7l21 7l20 6l20 11l19 21l18-5l17 10l17-6l16-2l20 13l19-13l18 7l17-18l17-6l16 14l19 5l18 20l18 4l17-7l16-4l18-7l18 10l17-6l17-1l18 1l18 0l16 1l17-3l18 4l17-2l16 0l16 4l18-8l16 5l16 10l17-3l17 10l17-7l17-4l16-2l17-2l17-2l17 1l16-9l18-2l16 4l17 7l16 3l17-5l17-1l16 4l17 2l16 0l17-1l16 0l16-3l17 0l16 0l17-1l16 2l17 3l16 11l16 0l16-3l16 1l16-1l17 0l16-2l16 5l12 2"/>
<path d="M0 -1288l338 293l197-103l140-93l109-110l89 13l75-72l65 116l57 43l52-162l46-37l42-2l39 62l37 88l33-30l32-16l29 59l28 5l26 28l25-8l24 36l23 42l21 5l21-13l20-5l19-18l19 1l17-12l17 31l17 25l31-28l30-43l28-10l26-11l25 4l24 8l22-36l22 13l21 22l20-20l19-7l18-3l18 18l17-1l16-14l24 19l23-31l22-6l20 24l20 11l19-32l19 24l17-8l17 7l17 26l21 0l20 4l20 8l19 14l18 0l17-5l17 6l16 2l20-10l19 2l18 2l17-1l17-5l16 6l19-1l18 8l18 13l17-10l16-2l18 0l18 0l17 0l17 2l18-1l18 5l16-3l17-9l18-2l17 7l16 5l16 6l18 1l16-2l16-5l17-6l17 5l17-7l17 6l16 7l17-1l17-9l17-3l16 4l18 7l16-4l17 5l16-3l17-5l17 0l16 0l17 9l16-7l17 0l16-3l16 1l17-2l16 2l17 0l16 4l17-4l16 2l16-7l16 0l16 2l16-2l17-1l16 3l16-2l12-4"/>
<path d="M0 -1288l338-274l197 79l140 50l109-175l89-4l75 177l65 14l57-34l52 99l46-30l42-10l39 45l37-32l33 43l32 33l29 11l28 62l26-40l25-4l24 27l23-3l21-30l21 41l20 30l19 22l19 24l17-1l17-3l17 5l31 18l30-10l28 18l26-6l25 0l24 29l22-15l22 5l21 16l20-12l19 4l18-11l18 7l17-24l16-15l24-17l23-15l22-1l20-6l20-5l19 10l19-11l17-12l17-10l17 13l21-1l20 0l20-11l19-10l18 10l17-13l17-4l16-4l20-9l19 7l18-9l17 2l17-10l16 9l19 6l18 16l18 3l17 2l16 3l18 8l18-6l17 1l17-6l18 3l18 2l16-3l17 2l18 21l17 5l16 0l16-5l18-1l16 2l16 5l17 7l17-5l17 5l17-3l16 5l17-6l17 1l17-5l16-1l18 1l16 2l17 0l16 7l17-1l17-3l16-2l17 4l16 2l17-9l16 5l16-2l17-7l16-5l17-2l16 5l17 7l16-5l16 0l16 10l16 1l16 4l17 3l16-2l16-1l12 3"/>
<path d="M0 -1288l338 94l197 97l140-189l109-49l89 119l75 4l65-14l57 4l52-9l46 7l42 30l39-58l37 16l33-14l32 43l29 1l28 45l26 25l25-9l24-17l23-6l21-15l21 14l20 4l19-7l19 24l17 2l17-26l17-27l31-46l30-21l28 18l26 29l25-22l24 24l22-5l22 5l21-9l20 1l19 42l18 7l18-8l17 13l16 30l24-3l23 1l22-1l20-12l20 4l19 10l19-16l17-3l17-6l17 5l21-16l20 7l20-4l19 6l18-4l17-11l17 10l16 1l20-9l19 9l18 7l17 0l17 4l16 19l19 6l18-3l18-1l17-1l16 6l18 9l18 3l17-2l17-3l18 2l18 6l16-6l17-1l18-10l17-5l16-3l16-7l18-5l16-7l16 1l17 6l17 0l17 0l17 7l16-1l17-15l17-2l17-11l16-6l18 6l16 0l17-6l16 6l17-3l17 0l16 0l17-7l16-2l17-2l16-5l16 0l17 0l16-2l17 3l16 1l17 1l16 4l16 9l16 0l16-1l16 2l17 4l16-7l16-3l12-3"/>
<path d="M0 -1288l338 680l197-21l140-67l109-290l89-172l75-12l65 55l57-38l52-1l46 12l42 41l39 11l37 16l33 26l32-48l29 35l28 25l26 23l25 56l24-71l23-16l21-31l21 10l20-26l19-8l19-23l17-16l17 1l17-6l31 27l30-31l28-4l26-2l25 7l24-30l22-5l22-26l21-13l20-3l19-12l18 22l18-2l17 9l16 3l24-3l23-5l22-26l20-1l20-11l19 16l19-4l17 7l17-9l17 4l21-6l20 14l20 17l19-4l18 8l17 7l17 4l16 2l20-7l19-6l18 2l17 7l17-11l16-3l19-10l18 10l18 3l17-5l16-6l18 15l18-11l17 8l17 1l18 1l18-1l16 4l17-6l18-5l17-5l16-6l16 2l18 0l16-7l16 7l17 1l17-5l17 11l17 0l16 3l17-6l17-1l17-2l16-2l18 2l16-1l17-3l16-3l17 10l17 2l16-4l17 2l16-1l17-1l16 4l16 8l17 0l16 0l17-4l16 1l17 3l16 0l16-1l16 5l16 3l16 2l17 0l16 4l16 2l12 3"/>
<path d="M0 -1288l338 266l197-193l140 36l109 145l89-5l75-85l65-109l57 90l52-15l46-20l42 40l39 15l37 1l33-11l32 3l29-52l28-2l26-12l25 15l24 20l23-18l21-7l21 3l20 25l19-2l19-28l17 17l17-10l17 13l31 0l30 29l28 29l26 31l25-13l24 14l22 8l22-14l21 23l20-8l19-9l18 8l18-13l17-12l16 8l24-26l23 2l22-14l20-3l20 4l19-14l19 9l17-5l17 19l17-15l21-5l20 3l20 3l19-7l18 1l17-8l17-1l16-13l20 3l19 4l18-14l17-4l17 3l16 11l19 3l18 2l18 6l17-2l16 15l18-1l18-3l17-8l17-4l18-11l18 2l16 1l17-2l18 5l17-2l16-2l16 5l18 2l16 3l16 1l17-2l17 9l17-3l17 3l16-6l17-7l17 15l17-8l16-2l18 5l16 2l17-3l16 1l17-5l17 1l16 7l17 1l16-4l17-1l16-2l16-2l17 0l16-1l17-1l16 0l17 4l16 1l16-2l16-2l16-7l16 0l17 2l16-2l16 2l12 0"/>
<path d="M0 -1288l338-501l197-243l140 311l109 146l89 42l75 139l65-87l57-4l52 34l46-7l42 72l39 7l37 20l33-11l32-28l29 2l28-25l26 4l25-8l24-15l23 40l21 31l21 3l20 62l19 28l19 7l17-13l17 18l17 11l31 14l30-20l28 7l26 8l25-10l24 2l22 1l22-24l21 2l20 14l19 24l18-19l18 5l17 30l16 9l24 17l23-7l22 21l20 4l20 39l19-14l19-7l17-3l17-8l17 20l21-8l20 1l20 20l19-3l18 9l17 5l17-2l16-3l20 15l19-1l18 1l17-3l17 0l16-11l19-3l18-4l18 0l17-3l16-9l18-8l18 18l17 7l17 3l18 7l18 0l16-6l17-3l18-8l17 2l16-5l16-3l18 7l16-8l16 7l17 9l17 5l17-3l17 0l16-5l17-8l17 4l17 4l16-1l18-6l16-2l17 11l16-3l17 3l17 5l16-9l17-4l16 5l17-1l16 1l16 0l17-5l16-4l17-2l16 7l17 3l16 0l16-3l16-2l16 8l16 3l17 1l16-2l16-2l12 2"/>
<path d="M0 -1288l338-51l197-41l140 84l109-22l89-57l75 114l65 14l57-23l52-43l46 1l42 23l39 6l37 45l33 2l32-29l29 32l28 82l26-55l25 18l24 9l23 38l21-8l21-17l20-5l19 1l19-32l17 2l17-22l17-15l31-9l30 16l28 7l26 17l25 24l24 28l22 13l22 32l21-25l20-10l19-26l18 18l18-17l17 11l16 13l24 15l23 15l22-24l20 5l20 7l19-8l19 7l17 2l17-2l17-2l21-25l20-2l20 14l19 23l18 18l17-14l17 14l16 5l20-8l19-5l18 10l17-20l17-10l16-9l19-7l18-17l18 7l17 3l16-9l18 0l18 3l17-11l17 5l18-2l18 7l16 1l17-9l18-1l17 1l16-6l16-2l18 10l16 6l16-9l17-4l17-9l17-3l17 6l16-7l17-4l17 2l17 7l16 4l18 13l16 2l17 3l16-5l17 2l17 1l16 2l17-1l16 4l17-3l16 4l16 2l17-2l16-1l17 1l16-1l17-2l16 3l16 1l16 3l16 1l16-2l17 6l16-7l16-1l12 1"/>
<path d="M0 -1288l338-225l197-222l140 320l109 51l89-46l75 114l65-3l57-4l52 56l46 24l42-14l39 107l37-51l33-17l32 12l29-2l28-16l26-32l25 4l24-28l23-54l21 4l21 2l20-7l19 6l19 0l17 31l17 16l17 20l31-23l30-5l28 14l26 6l25 6l24-12l22-5l22 11l21 26l20-4l19-2l18 10l18-4l17 16l16 5l24 8l23 17l22 1l20-2l20-25l19 5l19-15l17-4l17 1l17-4l21 6l20 12l20 6l19 1l18 23l17 1l17 10l16 2l20-7l19-2l18-10l17 3l17-2l16-11l19-5l18 4l18-2l17 4l16 7l18 10l18 4l17 2l17-2l18-8l18 4l16-5l17-6l18 0l17-5l16-1l16 2l18 9l16 9l16 3l17 7l17-4l17-6l17-1l16-2l17-3l17-1l17 2l16 2l18 4l16-4l17 1l16 4l17 8l17 3l16 7l17-5l16 2l17 2l16 3l16 3l17-6l16-1l17 6l16-2l17-1l16 0l16-4l16-1l16-4l16-4l17-1l16-5l16 3l12-2"/>
<path d="M0 -1288l338 121l197-44l140 114l109 93l89-132l75-12l65-55l57-7l52-52l46-18l42 41l39 29l37 38l33-8l32-25l29-17l28-37l26-8l25-13l24 13l23-13l21 2l21-2l20-1l19-13l19 8l17 25l17 0l17 12l31-4l30 11l28 2l26 51l25-25l24 10l22-1l22 13l21-15l20 9l19-4l18 22l18-8l17-4l16-2l24 0l23-14l22-12l20 25l20-15l19 13l19 15l17 4l17 3l17-4l21-3l20-1l20 15l19 8l18-8l17 11l17 4l16 9l20-2l19-3l18-21l17 8l17 7l16-5l19 7l18 7l18-12l17 5l16 0l18-10l18-4l17-8l17 4l18 1l18 1l16-8l17 1l18 9l17-4l16-5l16 3l18 4l16-5l16 2l17 7l17-7l17 3l17-2l16 0l17 2l17 0l17-10l16 2l18-3l16 1l17 0l16-4l17 3l17 1l16-5l17 0l16 3l17-3l16-6l16-3l17-1l16 4l17-3l16 1l17 1l16 4l16 1l16 1l16-8l16-2l17 0l16 3l16-4l12-8"/>
<path d="M0 -1288l338 26l197 116l140 5l109-73l89 7l75 45l65 11l57-25l52-55l46 84l42-45l39-77l37 16l33-57l32-18l29-69l28-63l26-11l25-6l24 42l23-9l21 6l21-3l20 22l19-1l19 14l17 21l17-13l17 39l31 27l30-7l28 7l26-17l25 9l24 0l22 6l22 25l21 6l20-13l19 28l18-2l18-11l17 6l16 4l24 11l23 20l22 11l20-4l20 2l19 0l19 1l17-4l17 7l17 23l21 13l20 19l20 12l19 10l18-2l17-20l17-5l16-11l20-2l19-1l18 8l17 3l17-2l16 1l19-17l18 7l18 1l17 10l16 8l18 4l18 11l17-4l17 10l18-12l18 1l16 0l17-4l18 4l17 0l16-7l16-1l18 2l16-1l16 2l17 0l17 5l17 0l17-4l16-13l17 1l17 5l17 5l16-1l18 3l16 3l17 6l16 0l17-2l17 2l16-4l17-1l16 2l17-2l16-1l16-7l17 4l16 3l17 5l16 5l17 3l16-5l16-8l16 4l16 1l16-7l17 1l16-3l16-2l12-1"/>
<path d="M0 -1288l338-23l197 290l140 3l109-136l89-29l75-92l65 92l57-1l52 7l46 41l42-63l39 81l37 41l33-17l32 49l29-31l28-26l26 8l25-32l24-13l23-6l21 3l21 28l20-1l19 20l19-6l17 14l17 13l17-20l31 0l30-2l28-12l26 1l25 19l24-31l22 12l22 4l21-11l20 28l19-31l18 17l18 11l17-23l16 7l24-5l23-3l22 2l20 1l20-2l19 2l19-9l17-4l17-14l17-14l21-1l20 0l20 16l19 9l18-15l17-5l17 3l16-14l20 15l19-16l18 5l17 8l17-9l16 2l19 6l18-1l18 1l17 3l16-7l18-4l18 6l17-9l17-5l18 1l18-6l16-6l17-5l18-9l17 0l16 0l16-1l18 7l16-1l16-1l17-9l17-1l17 0l17-11l16-2l17 1l17 0l17 8l16 0l18-3l16 6l17-2l16 1l17 3l17-2l16-2l17 1l16-4l17 4l16 3l16-1l17 0l16 5l17 4l16 5l17 1l16 0l16 2l16 6l16 4l16 5l17-4l16-1l16 0l12-1"/>
<path d="M0 -1288l338 546l197-180l140 99l109-221l89 51l75 15l65 12l57-75l52-27l46 11l42-72l39-52l37 17l33 9l32 11l29 21l28 9l26-33l25 7l24-27l23-17l21 19l21 10l20-20l19-13l19 5l17-6l17 10l17 4l31-12l30 49l28 29l26 5l25-12l24 4l22-9l22 13l21 4l20 9l19 8l18-3l18 19l17 15l16-2l24-18l23-9l22-15l20-12l20-6l19-7l19 3l17 7l17-5l17 18l21-2l20 1l20-7l19 1l18 8l17 14l17-8l16-14l20-14l19-10l18-3l17 4l17 9l16 11l19-23l18 5l18-11l17-4l16 10l18 5l18-4l17-11l17 4l18-3l18 10l16-1l17 0l18 2l17-7l16-5l16 4l18-1l16-3l16-5l17-5l17 4l17-4l17-6l16-14l17-3l17-1l17-6l16 0l18-2l16-2l17 8l16 8l17-2l17 5l16-1l17 4l16 2l17 3l16 2l16-1l17-3l16-1l17-4l16-6l17-2l16-1l16 6l16-8l16 3l16 3l17 0l16 2l16 3l12 1"/>
<path d="M0 -1288l338 208l197 120l140 114l109-84l89-35l75-17l65 8l57 20l52-68l46-9l42 7l39 19l37 25l33-30l32 38l29 5l28-51l26 8l25-28l24-15l23 8l21-46l21 8l20 16l19 7l19-15l17 13l17-15l17-3l31 17l30-15l28-11l26 18l25 16l24 22l22-21l22-7l21-5l20 22l19-8l18-17l18-17l17-5l16 2l24 12l23-9l22-4l20-14l20-7l19-8l19 2l17-18l17-8l17 22l21 5l20-14l20 8l19-5l18 2l17 13l17 7l16-2l20 1l19 7l18 2l17-6l17-2l16-6l19-4l18-8l18-4l17 4l16 0l18 6l18-9l17-3l17 10l18 6l18-9l16-6l17-1l18-2l17 4l16-2l16 4l18-5l16 3l16-2l17-7l17-5l17 6l17 2l16-4l17-4l17-4l17-6l16-2l18 10l16-10l17 3l16 3l17-7l17-5l16-1l17 1l16 2l17 4l16-3l16 2l17-10l16 4l17 1l16 2l17 0l16 7l16-3l16-4l16-2l16-3l17-5l16 2l16-2l12-5"/>
<path d="M0 -1288l338 66l197-397l140 20l109 40l89-89l75-30l65 95l57 116l52 119l46-21l42-11l39 10l37 25l33 29l32 0l29-43l28-2l26-20l25 20l24 13l23-21l21-13l21 1l20 21l19 31l19 39l17 7l17 4l17 16l31-11l30 19l28-7l26 10l25 20l24-24l22 4l22 5l21 8l20 2l19 22l18 10l18 1l17 29l16 16l24-16l23-3l22 4l20-3l20 7l19-11l19 16l17 1l17-1l17 9l21 9l20-4l20 1l19-12l18-2l17 6l17 7l16-21l20-12l19 9l18-5l17-1l17-13l16-10l19 14l18-2l18 0l17-7l16-10l18 0l18-8l17 0l17 3l18-3l18 8l16-10l17-4l18 2l17 10l16 0l16 7l18-4l16-1l16 3l17 5l17 0l17 5l17-5l16-2l17-1l17 2l17-10l16-1l18-5l16 9l17 2l16 3l17 0l17 4l16-5l17-3l16-1l17 6l16 1l16 4l17 5l16-4l17 7l16 0l17-1l16-4l16 4l16 0l16 4l16-3l17-4l16 4l16 3l12 3"/>
<path d="M0 -1288l338-74l197 243l140-51l109-80l89-4l75-21l65 4l57 20l52-3l46 52l42 85l39-79l37 39l33-87l32-25l29-6l28 8l26 18l25 34l24-46l23 15l21 21l21-24l20-34l19 38l19-21l17 0l17 8l17-5l31 53l30-4l28-5l26 20l25-16l24 10l22-29l22 4l21 8l20-11l19 22l18 7l18 15l17 20l16-10l24-8l23-1l22 3l20-2l20 11l19-1l19-9l17 8l17-2l17-20l21-4l20 0l20 0l19 19l18 14l17-7l17 9l16 25l20 8l19-22l18 10l17-6l17-13l16-1l19 8l18 10l18-2l17 3l16 13l18 3l18 13l17 5l17 11l18-3l18-7l16-3l17 11l18 5l17-2l16-4l16-4l18-10l16 8l16-6l17-10l17 4l17 3l17-2l16 0l17-2l17-17l17-4l16-8l18 1l16-4l17 1l16 2l17 6l17 2l16-11l17 3l16 0l17-3l16-3l16-3l17-2l16-1l17-6l16-4l17-10l16-4l16-3l16 0l16 3l16-1l17 0l16 5l16 2l12-4"/>
<path d="M0 -1288l338 275l197-122l140 174l109-126l89 50l75 40l65-62l57-32l52 44l46 21l42-15l39-29l37-9l33-27l32-19l29 10l28 17l26-47l25-10l24-1l23 22l21-2l21 8l20-44l19-3l19-1l17-6l17-30l17 16l31 28l30 7l28 20l26 16l25 12l24 6l22 10l22-4l21-13l20 7l19 8l18-21l18 2l17 3l16 0l24 12l23 9l22-5l20-2l20-11l19 7l19 9l17 0l17-6l17-11l21-25l20 7l20 2l19-6l18 15l17 9l17 0l16 1l20-1l19 4l18-8l17-2l17 7l16-15l19 2l18-1l18-2l17 5l16 3l18-5l18 1l17 8l17-2l18-4l18-9l16-2l17 2l18-1l17 2l16-7l16 10l18 1l16 3l16 5l17-2l17 0l17 0l17 3l16-3l17-5l17-6l17-2l16 0l18-8l16-6l17-6l16 4l17 0l17-1l16 0l17 0l16 2l17 1l16 12l16 1l17 2l16-3l17-5l16 2l17-3l16 3l16-7l16 1l16 0l16-5l17 2l16 1l16 0l12-4"/>
<path d="M0 -1288l338 323l197-78l140 45l109-27l89-100l75-12l65-42l57 1l52-21l46-30l42-5l39-30l37 41l33 36l32 81l29-9l28-13l26-21l25-34l24 32l23 18l21 21l21-8l20-4l19-33l19-15l17 45l17-5l17 6l31 23l30-7l28 23l26 18l25-11l24 5l22 6l22 1l21 12l20 19l19-16l18 4l18-10l17-1l16 1l24 8l23-6l22-9l20 0l20-2l19-10l19-32l17 6l17-3l17 2l21-17l20-9l20-3l19-14l18 3l17-8l17-23l16 8l20-7l19 4l18 2l17 0l17-10l16 8l19-12l18-11l18-12l17 0l16-2l18 16l18-3l17 15l17-2l18 7l18-5l16-3l17-4l18 5l17 0l16-1l16-5l18-1l16 10l16 0l17 1l17 4l17 4l17 4l16 5l17-3l17 2l17-1l16-1l18-5l16 7l17 0l16 2l17 2l17-3l16 1l17 3l16 5l17-5l16-3l16-1l17 4l16-4l17-1l16 2l17 1l16-7l16 1l16 2l16 0l16 4l17 3l16-7l16 4l12-2"/>
<path d="M0 -1288l338-138l197-175l140 55l109 166l89-99l75-97l65 21l57 25l52 64l46-31l42 45l39 12l37 53l33 10l32-31l29 41l28-4l26 18l25 33l24-26l23-4l21 14l21 5l20 4l19-15l19-7l17 30l17-2l17-18l31-4l30-3l28 21l26 1l25 36l24-14l22 23l22 9l21-3l20-8l19 14l18 9l18-3l17 0l16-8l24-4l23 15l22 21l20 0l20 27l19-21l19 12l17 8l17-6l17 2l21 5l20 6l20-15l19 9l18 1l17 11l17-15l16 8l20-9l19 8l18 2l17-3l17 0l16-1l19 1l18 6l18-6l17 1l16 3l18-6l18-5l17 7l17 13l18 13l18-11l16-6l17-9l18 1l17 1l16-6l16-2l18-5l16 0l16 2l17 5l17 0l17 0l17-3l16 11l17 7l17-1l17 2l16 2l18 8l16 2l17 3l16 0l17 0l17-2l16 3l17 0l16 0l17-2l16 4l16-3l17-1l16-6l17 0l16 2l17 5l16 5l16 3l16-6l16 4l16-4l17 1l16 5l16 0l12 4"/>
<path d="M0 -1288l338-184l197 61l140 5l109 122l89-22l75 128l65 17l57 28l52-13l46-12l42 57l39-52l37 66l33-29l32-23l29-16l28-1l26 9l25 15l24-14l23-33l21-3l21-23l20 7l19 19l19 3l17 14l17 10l17 13l31 1l30 13l28-21l26 15l25-8l24 2l22-13l22 15l21 8l20-32l19-11l18-11l18 6l17 0l16-5l24-13l23 6l22-19l20-24l20-3l19-1l19 0l17-8l17 6l17-1l21 9l20-9l20 1l19 11l18-3l17-4l17 11l16 14l20 4l19-8l18 11l17 8l17 6l16 1l19 0l18 12l18-6l17 11l16-1l18-3l18 6l17 0l17 12l18-1l18-9l16 15l17 0l18 0l17-12l16-4l16 1l18-14l16-9l16 7l17-1l17 6l17 9l17 2l16-3l17 0l17 0l17-5l16-1l18-5l16 9l17-2l16-3l17-2l17-4l16 4l17-5l16-1l17-1l16-1l16-1l17 1l16-3l17 0l16 1l17 2l16 2l16 2l16 10l16-2l16 3l17-4l16 3l16-2l12 0"/>
<path d="M0 -1288l338 284l197 23l140-165l109 73l89 49l75-87l65-86l57-81l52-16l46-37l42-9l39 50l37-12l33 1l32 16l29 38l28 24l26 30l25 34l24 7l23 15l21-29l21-14l20 49l19-2l19-21l17-2l17-10l17-19l31 36l30-8l28 25l26-7l25 17l24-21l22-28l22-16l21 10l20 15l19-14l18 2l18-16l17 16l16-16l24 7l23-2l22 13l20 4l20 20l19 11l19-17l17-1l17 7l17-23l21-2l20-18l20 10l19 14l18 1l17 8l17-19l16-3l20 12l19 10l18-1l17 5l17 11l16-7l19-3l18 1l18 11l17-9l16-2l18 6l18 2l17-13l17 9l18 3l18-8l16 1l17-5l18-20l17-4l16 2l16-7l18-1l16 0l16-2l17 2l17 0l17 8l17 5l16 5l17-8l17-9l17 1l16 7l18 2l16 3l17 2l16-4l17 6l17 0l16 2l17-1l16 6l17-2l16 0l16-4l17-1l16 0l17 4l16 3l17-1l16 1l16-2l16 0l16 0l16 0l17 0l16 3l16-5l12 1"/>
<path d="M0 -1288l338-113l197-40l140-141l109 117l89-10l75 105l65 22l57-44l52 46l46 54l42 30l39 47l37-21l33 19l32 14l29 31l28-41l26 29l25-21l24 14l23 26l21 26l21 2l20-19l19-10l19 4l17 4l17 3l17-4l31 30l30 6l28-4l26-7l25 1l24-3l22-10l22-10l21-9l20-5l19-6l18 1l18 16l17 25l16 1l24 8l23 5l22-6l20 18l20 15l19 27l19 18l17 11l17-5l17 13l21-12l20-22l20 2l19 6l18-15l17-6l17 1l16 11l20-9l19-2l18 12l17 4l17-6l16-19l19 2l18-5l18-6l17-12l16-4l18-16l18 10l17 0l17 13l18-3l18-4l16 0l17 4l18-4l17-14l16 3l16 2l18-6l16-1l16 7l17 0l17-1l17 6l17-3l16-7l17 2l17-14l17-7l16-6l18-10l16 3l17-5l16 1l17-6l17 8l16-1l17-2l16 1l17-7l16 0l16 3l17-7l16-1l17-4l16-3l17 2l16 6l16 1l16 1l16 3l16 0l17 2l16-9l16 2l12 1"/>
<path d="M0 -1288l338 46l197-88l140 253l109 127l89 68l75-19l65-25l57 75l52-88l46 2l42 55l39-51l37-3l33-45l32-14l29-39l28-14l26 27l25-27l24 12l23-24l21-1l21 42l20-5l19-37l19 3l17 2l17 9l17-8l31-9l30-37l28-25l26-17l25 25l24-8l22 7l22-13l21-8l20 9l19-15l18 17l18-1l17 7l16-5l24 11l23 4l22 2l20 5l20 19l19-4l19-5l17 15l17-10l17-5l21-20l20-15l20 9l19-13l18 14l17 4l17-10l16-7l20 0l19-8l18-12l17 14l17 8l16-8l19 2l18 8l18-6l17 16l16 6l18-10l18 0l17 4l17-4l18 13l18 9l16-5l17-12l18 1l17-5l16-1l16 2l18 2l16-9l16-3l17-5l17 0l17 3l17-7l16-7l17-3l17-5l17 2l16-4l18 5l16-4l17-9l16 5l17 6l17-3l16-1l17 2l16-4l17 1l16 1l16-1l17 6l16 4l17-3l16-1l17 3l16-5l16-2l16-4l16-4l16 1l17 4l16-2l16-6l12-2"/>
<path d="M0 -1288l338 39l197-261l140 17l109-75l89 68l75-48l65 64l57 88l52 45l46 45l42 18l39-40l37-31l33 3l32-43l29 19l28-22l26-7l25 19l24-16l23-11l21-6l21 8l20 13l19 2l19-6l17-17l17-28l17-8l31-22l30-24l28 18l26 23l25 15l24 14l22 28l22 19l21 14l20-3l19 16l18-4l18-1l17 9l16 28l24 5l23-4l22 1l20 6l20 7l19-14l19-15l17 21l17 0l17-1l21-9l20 16l20 4l19-3l18 9l17 11l17 0l16 10l20-17l19 4l18-3l17 10l17 9l16-2l19 1l18 4l18 8l17 6l16 8l18 4l18 2l17 8l17 5l18-1l18-2l16-6l17-8l18 4l17 0l16 7l16 0l18-5l16 4l16-4l17-10l17 9l17 9l17-1l16-8l17-2l17 11l17 8l16 4l18 3l16 11l17 5l16 1l17 4l17 5l16-3l17 0l16 3l17-2l16-3l16 1l17 1l16-5l17 2l16 5l17 5l16 3l16 2l16-1l16 4l16 5l17-1l16 1l16 0l12 0"/>
<path d="M0 -1288l338 178l197-42l140-15l109-74l89 25l75-83l65 62l57-137l52-33l46 24l42-32l39-15l37 12l33-26l32 64l29-8l28 7l26 6l25 11l24 0l23-2l21 28l21-12l20-8l19 5l19 23l17 19l17 2l17-1l31-23l30 11l28-6l26 11l25 31l24 30l22 3l22 8l21 30l20-13l19 23l18 2l18 9l17 6l16-5l24-6l23 10l22 13l20-4l20 11l19-16l19-9l17 9l17 10l17 5l21 11l20-5l20-1l19 11l18 12l17-10l17 16l16-10l20-9l19-4l18-8l17-3l17 0l16-10l19-9l18-2l18-6l17-5l16-4l18 7l18-5l17 9l17-2l18 9l18-10l16-6l17 3l18 0l17-4l16-9l16 0l18-4l16-7l16 0l17 5l17 10l17 6l17 2l16 5l17 2l17 10l17 0l16-1l18-1l16-1l17-2l16 14l17 2l17-8l16 0l17 4l16-2l17-5l16-3l16-2l17 1l16 7l17 2l16 2l17 2l16-4l16 1l16 2l16 5l16 2l17-1l16 2l16-1l12-1"/>
<path d="M0 -1288l338 423l197-1l140 111l109-10l89-46l75-145l65 10l57-68l52 85l46-3l42-27l39-52l37 25l33-97l32 35l29 15l28-2l26 14l25-65l24-28l23-5l21-5l21 33l20 20l19-8l19 11l17-1l17 6l17-1l31 9l30 16l28-18l26-6l25-6l24-10l22 9l22-2l21-6l20 16l19-2l18-13l18 3l17 18l16 5l24-4l23-11l22 9l20-2l20-29l19-15l19-13l17-10l17 12l17-7l21-6l20-5l20-1l19-2l18-3l17 5l17-3l16-4l20 16l19 11l18-4l17-7l17 1l16 1l19 5l18-9l18 0l17 2l16 1l18 6l18 11l17 2l17-8l18-4l18 10l16 3l17-1l18 4l17-13l16 7l16 5l18 6l16-2l16-5l17-3l17-3l17-4l17-1l16 2l17 5l17 11l17-3l16 1l18-5l16 0l17-10l16 4l17 5l17-6l16 1l17 0l16-7l17-12l16-7l16 0l17-3l16 1l17 2l16 4l17-4l16-3l16 1l16 4l16-5l16 1l17-1l16-7l16-9l12-1"/>
<path d="M0 -1288l338-59l197-36l140-37l109 36l89 21l75 19l65 199l57-35l52-12l46 109l42-29l39 20l37-20l33-27l32-29l29-48l28-46l26 12l25 33l24 71l23-20l21 9l21 10l20 11l19-51l19 20l17-1l17 8l17-11l31 4l30-25l28 25l26 0l25 49l24-7l22 2l22-5l21 24l20-19l19-15l18 13l18 5l17-5l16 6l24 3l23-13l22 3l20 14l20 2l19-14l19 1l17 16l17 10l17 0l21 1l20 18l20 4l19 3l18-10l17-16l17-2l16 0l20-13l19-15l18 11l17 4l17-1l16-8l19 4l18-7l18-13l17 11l16 5l18 1l18 4l17 4l17-9l18-3l18-3l16-4l17-12l18-2l17-9l16-2l16-4l18-2l16-6l16 3l17-12l17 0l17-2l17 2l16 6l17 2l17-6l17 0l16-1l18-1l16 1l17-6l16 1l17 0l17-1l16 0l17 0l16 8l17-1l16 0l16-1l17 4l16 3l17 2l16-8l17-2l16 5l16 0l16 2l16-4l16-5l17 4l16 1l16-2l12 3"/>
<path d="M0 -1288l338-427l197 266l140 43l109-179l89-124l75 110l65 93l57 60l52-22l46-75l42 0l39-45l37 47l33 113l32-1l29 17l28 4l26-6l25 9l24-11l23 29l21 5l21-21l20-9l19 8l19 42l17 17l17-4l17 5l31 4l30 31l28 8l26 10l25-3l24 20l22 0l22 9l21 4l20 11l19-12l18 16l18 43l17-5l16-11l24-11l23 16l22-2l20 3l20-9l19-4l19 10l17-6l17 13l17 3l21-3l20-2l20 9l19 15l18 18l17-3l17-8l16-3l20 12l19 5l18-3l17 0l17 4l16 7l19-3l18 2l18-4l17 11l16 1l18-8l18-1l17 14l17-16l18 1l18 1l16 3l17-1l18 2l17 4l16 11l16 2l18 6l16-4l16 9l17-5l17 2l17 0l17-1l16 1l17-2l17-3l17 9l16 0l18-10l16-3l17-7l16-5l17 0l17-3l16 2l17-3l16-1l17 3l16 6l16-1l17 7l16-8l17 2l16 3l17-6l16-2l16-6l16-3l16-4l16-3l17-1l16-3l16 2l12-1"/>
<path d="M0 -1288l338 142l197-336l140 7l109-5l89-2l75 123l65 45l57-2l52 16l46 20l42-22l39 74l37 16l33-10l32 39l29-34l28 19l26-16l25 24l24 48l23-9l21-3l21 31l20-13l19-9l19-14l17-10l17-18l17 10l31-12l30-13l28 50l26-5l25-5l24 26l22 3l22-15l21 15l20-10l19-20l18-13l18 0l17 3l16-7l24 6l23-15l22-12l20-9l20 4l19-6l19-23l17 16l17-7l17 9l21-21l20-10l20 3l19-10l18-5l17-12l17 3l16 3l20 3l19-1l18 0l17 5l17 1l16 6l19 17l18 17l18 10l17 7l16-7l18 3l18 4l17 0l17-1l18-2l18 0l16 3l17 9l18 8l17-2l16 3l16-5l18 3l16 9l16-3l17 4l17 1l17-1l17-4l16 2l17-8l17-4l17-2l16-3l18 2l16 7l17-7l16-2l17-1l17-6l16 2l17 6l16 2l17 5l16 6l16-5l17-1l16 0l17 1l16-3l17 3l16 5l16 4l16-1l16 5l16-6l17 3l16 0l16 1l12-3"/>
<path d="M0 -1288l338 408l197-219l140 76l109-64l89 106l75-42l65 5l57 98l52-101l46-18l42-10l39 19l37-65l33-54l32 59l29-43l28 16l26-33l25-27l24 3l23-26l21-5l21-17l20-5l19-16l19 0l17-41l17 9l17-2l31 24l30-12l28 5l26-13l25 4l24-9l22 15l22 57l21 5l20 4l19-14l18-13l18-1l17 38l16-4l24 14l23 0l22 20l20-16l20 3l19-1l19 13l17-13l17 0l17-9l21-5l20-7l20 20l19 8l18 2l17 8l17 3l16-8l20 5l19-1l18-4l17 6l17 6l16 0l19 1l18-8l18 3l17-2l16 3l18-11l18 6l17 10l17-1l18 11l18-8l16 8l17-3l18-5l17-6l16 4l16-5l18-1l16 0l16 0l17-7l17 2l17 1l17-7l16 0l17 6l17 0l17 6l16 3l18-8l16 6l17-2l16 2l17 5l17 2l16 5l17 1l16 4l17-1l16-3l16-1l17-3l16-4l17 3l16 1l17-4l16 0l16 2l16 2l16-2l16 0l17-2l16-4l16-8l12 7"/>
<path d="M0 -1288l338 345l197 22l140-13l109 18l89-37l75-62l65 15l57 13l52 4l46-60l42 28l39-23l37 12l33-46l32 49l29-28l28-31l26-50l25-31l24-23l23 52l21-32l21 37l20 16l19-44l19-22l17-1l17-11l17 12l31 15l30-48l28 10l26 32l25-29l24 6l22 7l22 20l21 12l20 6l19 16l18 4l18 4l17-4l16 7l24-15l23-2l22 9l20-24l20 7l19 9l19 17l17 0l17-1l17-14l21-10l20-3l20-9l19 4l18-8l17 16l17-14l16 11l20-2l19-7l18-1l17-5l17-4l16-10l19 6l18 2l18-6l17 1l16-6l18 1l18 1l17 8l17-5l18 0l18-1l16 7l17 7l18 3l17-8l16 0l16 0l18-4l16-5l16 0l17-9l17 7l17-1l17 4l16-6l17 3l17 1l17-4l16-5l18 4l16-3l17 5l16 1l17-8l17-2l16 1l17 5l16 6l17-3l16-2l16 1l17 1l16 0l17 1l16-4l17 2l16 3l16 7l16 8l16 1l16-1l17-2l16-1l16 2l12 2"/>
<path d="M0 -1288l338 224l197-56l140-48l109 88l89 136l75-3l65-18l57-75l52 45l46-76l42-44l39 23l37 8l33 19l32-28l29 45l28 41l26-46l25-7l24-47l23-3l21-31l21 2l20-7l19 9l19-4l17 27l17 8l17-4l31-10l30-7l28 8l26 16l25-19l24 2l22-16l22-11l21-7l20 11l19 32l18-17l18-9l17-22l16 0l24-7l23 3l22 2l20 6l20-3l19 22l19-20l17 19l17 10l17 6l21 14l20-13l20-9l19 19l18-11l17-14l17 6l16-9l20-14l19-1l18 0l17 8l17-2l16 1l19-2l18 8l18 7l17-17l16 2l18 0l18-5l17-1l17 0l18-8l18-9l16-4l17-4l18 4l17 4l16-3l16 7l18 3l16 1l16 7l17-5l17 6l17-1l17-13l16-1l17 5l17-3l17 7l16-5l18 0l16 10l17 7l16 0l17 0l17 4l16 2l17 1l16-6l17 0l16-2l16-2l17-6l16 2l17-2l16-1l17 0l16-1l16 0l16 6l16-1l16-6l17 3l16-6l16-2l12 1"/>
<path d="M0 -1288l338 368l197 212l140 34l109-159l89-22l75-63l65-230l57-15l52 10l46-29l42 51l39-4l37-11l33-4l32-23l29-55l28 13l26-19l25 27l24 11l23 8l21 43l21-8l20-34l19 6l19-5l17-5l17-16l17 20l31 3l30 0l28 26l26 1l25-6l24-8l22-8l22-7l21-40l20 1l19-2l18-5l18-10l17-2l16 32l24 21l23 28l22-8l20-8l20 0l19 8l19 14l17 4l17 1l17 1l21-8l20-11l20-7l19-1l18 12l17 11l17-2l16-2l20 10l19 6l18 14l17-6l17-4l16 0l19 1l18-3l18 4l17 3l16 0l18-2l18-9l17 10l17-4l18-2l18 0l16-9l17-2l18-12l17-1l16-7l16-6l18-9l16-3l16 5l17-7l17 8l17-4l17-7l16-3l17 4l17-6l17 1l16 6l18-2l16-5l17 3l16 0l17-5l17 2l16 0l17-4l16 0l17 4l16 2l16-4l17 1l16-6l17-1l16 1l17 5l16 2l16 5l16 1l16 6l16 5l17 4l16 4l16 1l12-4"/>
<path d="M0 -1288l338 216l197-287l140 3l109-16l89-116l75 200l65 69l57 2l52 57l46 35l42-31l39 42l37-43l33-5l32-46l29-14l28 10l26-1l25 3l24-19l23-31l21 52l21 29l20-2l19 22l19-4l17-24l17-4l17 1l31-20l30-11l28-13l26-10l25 18l24-28l22-33l22-7l21-15l20-32l19 10l18 0l18 21l17 9l16 31l24-11l23 3l22 0l20 12l20-1l19-4l19-2l17-3l17-19l17 7l21 6l20 9l20-9l19 13l18-11l17 26l17 13l16 6l20 2l19 11l18 3l17-8l17 9l16-7l19 19l18 13l18-1l17 5l16-13l18 2l18 8l17 1l17-10l18 5l18-4l16 6l17-11l18 2l17 4l16-11l16-8l18 9l16 4l16-3l17 2l17-4l17 2l17-2l16 10l17-1l17 10l17 2l16 7l18 1l16-4l17 4l16 3l17 3l17 1l16 0l17 8l16-7l17-1l16-2l16-1l17-2l16-1l17 0l16 3l17-1l16-1l16-2l16-3l16 6l16 2l17-1l16-1l16 1l12 4"/>
<path d="M0 -1288l338-400l197 43l140 35l109 151l89-108l75 5l65-2l57 118l52-39l46-5l42-24l39 42l37 5l33 28l32 66l29 48l28 37l26-1l25 28l24-10l23 4l21 10l21-17l20 18l19 7l19 24l17 4l17-16l17 28l31-10l30 5l28 11l26 10l25 21l24-14l22 11l22-4l21 20l20 6l19 9l18-6l18 1l17-3l16-3l24 11l23-5l22-5l20-11l20 0l19 21l19 19l17 11l17-3l17 5l21 2l20 0l20-8l19 21l18-21l17 4l17 0l16-6l20 18l19 1l18 0l17 6l17-1l16-12l19-1l18 11l18 3l17-12l16-6l18-7l18-4l17-6l17 6l18 4l18 10l16 14l17-3l18-2l17-4l16-3l16 5l18-9l16-8l16 10l17-8l17-9l17-5l17-6l16-1l17 6l17 1l17-1l16-9l18 5l16-7l17-5l16-1l17-7l17 0l16-3l17 1l16-3l17 4l16 0l16 2l17-2l16 0l17-4l16-1l17 3l16 5l16-2l16-1l16 1l16-5l17 3l16-4l16 0l12-2"/>
<path d="M0 -1288l338-30l197 417l140-80l109-47l89 4l75-167l65-38l57 29l52 54l46-46l42-5l39-63l37-8l33 2l32-26l29-47l28 22l26 13l25-48l24-17l23 8l21-16l21-33l20-23l19-3l19 20l17 16l17 5l17-1l31 22l30 24l28 13l26-8l25 9l24 14l22 5l22-15l21 34l20-10l19 0l18 1l18 17l17 3l16 6l24-19l23 21l22 2l20 6l20 13l19 11l19-9l17 8l17 11l17-12l21 7l20 17l20-5l19 8l18-3l17 7l17-3l16 4l20 12l19 8l18 4l17-9l17-4l16-9l19 8l18-5l18-2l17-7l16 10l18 1l18-4l17-10l17 2l18-1l18 5l16 11l17-9l18 8l17 1l16 8l16 0l18 7l16 4l16 5l17-4l17-12l17-3l17 1l16-1l17 10l17 1l17-14l16 2l18 4l16-4l17-6l16-3l17 10l17 0l16 3l17-6l16 3l17-1l16 4l16 5l17 1l16-1l17 3l16-3l17 8l16 5l16 2l16 0l16-1l16-7l17 0l16 8l16 6l12 1"/>
<path d="M0 -1288l338 128l197 168l140-209l109-89l89-49l75-104l65 16l57 55l52 41l46-12l42 17l39 41l37-40l33 10l32 18l29 44l28-6l26 40l25 19l24-2l23-37l21 0l21 12l20 11l19 20l19-20l17 13l17-3l17-2l31-36l30 9l28-4l26-15l25 9l24 7l22 10l22-18l21 5l20 0l19 3l18 30l18 2l17 16l16-26l24-6l23 2l22-3l20-22l20 20l19-11l19-5l17-10l17 2l17 4l21 3l20 11l20-14l19-5l18 5l17 7l17 12l16-6l20-6l19-8l18 5l17 8l17 9l16 2l19 8l18-7l18-1l17 5l16 2l18 3l18 14l17-6l17-8l18 9l18 10l16 3l17-6l18-2l17-8l16-1l16 4l18 4l16-10l16 1l17 3l17-2l17-5l17-1l16 1l17-2l17-1l17 7l16 3l18 7l16-2l17-5l16 5l17 4l17 9l16 2l17 1l16 2l17 0l16 5l16-2l17 5l16 5l17 3l16-4l17-2l16 3l16 4l16-6l16-3l16 0l17 0l16 2l16-1l12 4"/>
<path d="M0 -1288l338 232l197-96l140 54l109-69l89 64l75-115l65 26l57 81l52 107l46-61l42 13l39 39l37 68l33-57l32-72l29-30l28 1l26-38l25 8l24-11l23 25l21 24l21-21l20 20l19-11l19-17l17-22l17-21l17-8l31 19l30 10l28-13l26 27l25-35l24-17l22 42l22 10l21 9l20 17l19 10l18 6l18-4l17 20l16 9l24-17l23 10l22-18l20 12l20 21l19-2l19 11l17 11l17-6l17 1l21-13l20-4l20 0l19-11l18-8l17-12l17-10l16 10l20-3l19 10l18-7l17-6l17-1l16 15l19-15l18-4l18-5l17-2l16 0l18-14l18 2l17-6l17 8l18-6l18 1l16 6l17 0l18 0l17-4l16 2l16-2l18 2l16-10l16 0l17-4l17-3l17 7l17 11l16-9l17-9l17-4l17 0l16-3l18-2l16 5l17 4l16-2l17-5l17-4l16-2l17-1l16-1l17-6l16-7l16 3l17-2l16 1l17 3l16-2l17-1l16 5l16-1l16 2l16 2l16-4l17 1l16 2l16 1l12-2"/>
<path d="M0 -1288l338 60l197 35l140-92l109 114l89 18l75 73l65 70l57 57l52-143l46-35l42-5l39 29l37 14l33-49l32 11l29 31l28-27l26 4l25-32l24 27l23 14l21 17l21-17l20 9l19-23l19-6l17 3l17-1l17-11l31-2l30-38l28 15l26 3l25-18l24 8l22 30l22-19l21 6l20 12l19-22l18 0l18 6l17 13l16-11l24 31l23-8l22-5l20-8l20-7l19 10l19 15l17 20l17 0l17-2l21 3l20-27l20-7l19-18l18-10l17 8l17-1l16-9l20 5l19 1l18 2l17 3l17-7l16-3l19 2l18-12l18-8l17-9l16 4l18-2l18 1l17 10l17 8l18 1l18-7l16 13l17 1l18 8l17 3l16-3l16-3l18-4l16-10l16 5l17-11l17-2l17 3l17 3l16 5l17-9l17 1l17-8l16 2l18-3l16 3l17-4l16-1l17-4l17 2l16-5l17 0l16 6l17 8l16 1l16-2l17 11l16-2l17 1l16-4l17-2l16-7l16 6l16-2l16 4l16 0l17 8l16-3l16 2l12 1"/>
<path d="M0 -1288l338 114l197-351l140 393l109-55l89 51l75-22l65 30l57 1l52 91l46 18l42-19l39-28l37-18l33-10l32-8l29-6l28 33l26 5l25-10l24-39l23-36l21 7l21 9l20 5l19 12l19 12l17-11l17-3l17 10l31 9l30-22l28 10l26 1l25-7l24 9l22-1l22 3l21 14l20-4l19 4l18-20l18-5l17-17l16-2l24 2l23 5l22-8l20 2l20 4l19-6l19 14l17 8l17-7l17-9l21 1l20 4l20-5l19 29l18-3l17 7l17 6l16 4l20-6l19 18l18-8l17-3l17-9l16-19l19-8l18 5l18 7l17 23l16-19l18-15l18-3l17-7l17 2l18 6l18-4l16-2l17 2l18-8l17 6l16 3l16-3l18-2l16 6l16-1l17-13l17-4l17-1l17 2l16 8l17-1l17 2l17-2l16 4l18 8l16 6l17 1l16-11l17-1l17 3l16-5l17-8l16-1l17-4l16-1l16-6l17 1l16-4l17 4l16-3l17 0l16-1l16 7l16 0l16 1l16-6l17-4l16 3l16-3l12 3"/>
<path d="M0 -1288l338 201l197 83l140 46l109-57l89 39l75-79l65 1l57 77l52 1l46-68l42 32l39-55l37-7l33-44l32 17l29 16l28 37l26 18l25 22l24-35l23 33l21 23l21 8l20 1l19-19l19-34l17-23l17 27l17 33l31 22l30 6l28 0l26-2l25 2l24-1l22 17l22-20l21-50l20 2l19-5l18 5l18-22l17-1l16-21l24-13l23 14l22 5l20 3l20-17l19 0l19-23l17-4l17-11l17 14l21 15l20 3l20-9l19-7l18-4l17 7l17-22l16 3l20 0l19-3l18-1l17-2l17-17l16 0l19-5l18 6l18-12l17-4l16-9l18 0l18-5l17-3l17 12l18 2l18 18l16-8l17 3l18-12l17-5l16 12l16-12l18-11l16-5l16-5l17 10l17 5l17 1l17 0l16 2l17 9l17 2l17-1l16-3l18-6l16 1l17 1l16 4l17 4l17 7l16-8l17 4l16 1l17-1l16 4l16 6l17-2l16 0l17 0l16 1l17 0l16-3l16 0l16 4l16-5l16-2l17 2l16 2l16-4l12 2"/>
<path d="M0 -1288l338-376l197 104l140 182l109 230l89-57l75-34l65 52l57-13l52 10l46-2l42-32l39-61l37-48l33-42l32 39l29 49l28 56l26 6l25 11l24 20l23 11l21-23l21 6l20 49l19-49l19 12l17-42l17 16l17 0l31-25l30-15l28-16l26 3l25-8l24-22l22 7l22 32l21 5l20 0l19 14l18 9l18 10l17 21l16 20l24-10l23 4l22 8l20-21l20 6l19-5l19-1l17 13l17 7l17-4l21 16l20-2l20-1l19-5l18 16l17-2l17-12l16 0l20 7l19-15l18 17l17 0l17 5l16-8l19-4l18-2l18-6l17 3l16 7l18-4l18-11l17 0l17-4l18 5l18 9l16-2l17-3l18 9l17-4l16 2l16 3l18-2l16-6l16-1l17 4l17-4l17-3l17 0l16-1l17-4l17-3l17 4l16 10l18 11l16 2l17 10l16-1l17-1l17 0l16 1l17 1l16 2l17-6l16-2l16 2l17 3l16-2l17 4l16-3l17 4l16 0l16-5l16 1l16-4l16-2l17-3l16 1l16-1l12 1"/>
</g></g>
<line x1="55" y1="166.25" x2="391.5" y2="166.25" stroke="#2b86c4" stroke-width="1.3"/>
<g fill="none" stroke-linejoin="round">
<path d="M55.0 166.2 88.8 124.5 108.5 87.5 122.5 126.6 133.4 127.4 142.3 129.7 149.8 112.4 156.3 112.4 162.0 115.8 167.2 112.2 171.8 109.1 176.0 117.3 179.9 123.8 183.6 122.2 186.9 123.2 190.1 122.0 193.0 121.2 195.0 120.2 199.4 117.3 203.8 120.9 208.1 117.8 211.1 118.4 214.0 118.9 216.9 119.9 219.8 119.4 224.2 116.6 227.1 116.5 230.0 115.0 234.4 114.2 238.8 112.2 243.2 110.1 246.8 110.5 250.5 111.4 254.3 110.1 258.1 109.1 263.1 110.6 266.4 110.5 269.8 111.3 273.1 111.1 276.4 111.4 279.7 111.7 283.2 112.6 286.7 112.7 290.0 114.0 295.0 117.3 300.0 116.6 303.3 115.8 306.7 117.9 310.0 117.3 313.3 117.2 316.7 117.5 320.0 117.1 323.3 117.3 326.7 117.5 330.0 118.1 333.3 118.6 336.7 119.1 340.0 118.9 342.9 119.0 345.7 119.2 348.6 119.9 351.4 119.3 354.3 119.1 357.1 120.4 360.0 120.4 362.9 120.3 365.7 119.8 368.6 120.6 371.4 121.0 374.3 120.9 377.1 120.9 380.0 122.0 382.9 122.2 385.8 122.8 388.6 122.4 391.5 122.7" stroke="#c80000" stroke-width="3.3"/>
<path d="M55.0 166.2 88.8 149.3 108.5 138.4 122.5 177.8 133.4 186.9 142.3 187.1 149.8 177.8 156.3 182.5 162.0 186.9 167.2 182.2 171.8 183.8 176.0 184.3 179.9 184.0 182.7 180.3 185.5 177.5 188.3 174.0 192.8 176.8 195.5 174.0 198.2 170.4 201.7 174.0 206.0 172.2 209.0 174.0 211.9 174.8 214.8 176.2 217.7 176.8 222.0 175.3 225.7 175.2 229.4 174.0 232.4 174.1 235.3 174.5 238.2 173.3 241.1 173.1 244.0 172.2 247.4 172.7 250.8 173.5 254.2 173.2 257.9 170.7 261.5 169.6 264.4 168.7 267.4 168.6 270.8 168.1 274.2 167.6 277.6 168.6 281.2 169.3 284.9 169.9 290.0 170.9 293.3 171.9 296.7 171.9 300.0 172.9 303.3 174.2 306.7 174.4 310.0 174.5 313.3 175.0 316.7 175.1 320.0 175.0 322.9 175.6 325.7 174.5 328.6 175.7 331.4 175.8 334.3 174.6 337.1 175.9 340.0 175.8 342.9 175.8 345.7 176.5 348.6 176.0 351.4 176.4 354.3 176.7 357.1 176.2 360.0 176.8 362.6 177.2 365.2 176.9 367.9 177.3 370.5 176.9 373.1 177.8 375.8 177.7 378.4 177.3 381.0 177.8 383.6 178.3 386.2 178.7 388.9 176.9 391.5 177.8" stroke="#0000c8" stroke-width="3.3"/>
<path d="M55.0 166.2 88.8 180.9 108.5 172.9 122.5 147.5 133.4 149.0 142.3 146.7 149.8 143.6 156.3 153.4 162.0 151.3 167.2 149.0 171.8 144.1 176.0 145.4 179.9 146.2 183.6 144.1 186.4 144.7 189.3 144.7 192.2 144.5 195.0 144.2 197.9 144.9 200.9 143.8 203.8 141.3 208.9 137.4 212.6 136.6 216.2 137.2 221.3 133.3 224.2 132.3 227.1 130.7 230.1 131.9 233.0 131.7 238.1 127.1 242.4 128.7 246.8 129.7 249.8 127.5 252.7 127.1 255.6 127.8 258.5 128.9 263.6 127.1 268.0 125.3 272.4 123.5 276.8 122.5 281.9 121.4 286.2 123.2 291.4 124.0 294.3 123.3 297.1 124.2 300.0 124.0 302.9 124.9 305.7 125.3 308.6 123.3 311.4 124.0 314.3 124.8 317.1 125.3 320.0 124.5 322.9 124.7 325.7 124.1 328.6 124.6 331.4 124.4 334.3 124.2 337.1 123.9 340.0 124.3 342.7 124.5 345.4 124.4 348.1 124.2 350.8 124.2 353.6 123.6 356.3 124.0 359.0 124.9 361.7 124.2 364.4 123.5 367.1 125.0 369.8 124.6 372.5 125.4 375.2 124.3 377.9 124.0 380.7 123.5 383.4 125.0 386.1 125.7 388.8 123.8 391.5 124.3" stroke="#c80000" stroke-width="3.4" stroke-dasharray="3.4 3.6"/>
<path d="M55.0 166.2 88.8 178.4 108.5 172.4 122.5 162.4 127.0 164.2 132.4 168.3 139.6 168.3 146.8 167.0 152.3 169.9 155.9 176.0 161.3 173.2 165.8 178.4 170.3 176.8 176.6 174.0 181.1 180.4 184.7 181.4 187.3 181.3 190.0 182.0 193.5 183.8 197.0 185.0 202.0 182.0 205.0 180.5 208.0 179.9 212.0 183.5 215.5 183.4 219.0 183.5 222.0 182.4 225.0 181.7 228.5 181.2 232.0 180.4 235.0 180.0 238.0 178.4 241.0 178.1 244.0 177.8 249.0 179.9 254.0 177.6 256.7 177.4 259.3 176.0 262.0 175.5 265.0 176.7 268.0 177.6 271.5 175.4 275.0 175.5 277.7 174.2 280.3 174.9 283.0 174.0 286.5 174.8 290.0 176.3 293.3 176.5 296.7 176.4 300.0 176.0 302.9 176.8 305.7 176.5 308.6 176.6 311.4 176.0 314.3 175.7 317.1 175.6 320.0 176.0 322.9 175.8 325.7 175.6 328.6 176.0 331.4 176.3 334.3 176.5 337.1 176.3 340.0 176.6 342.7 175.5 345.4 176.6 348.1 176.8 350.8 177.4 353.6 177.1 356.3 176.5 359.0 176.5 361.7 178.1 364.4 177.5 367.1 178.1 369.8 178.3 372.5 176.8 375.2 177.5 377.9 177.6 380.7 177.7 383.4 177.7 386.1 177.6 388.8 177.6 391.5 177.6" stroke="#0000c8" stroke-width="3.4" stroke-dasharray="3.4 3.6"/>
</g>
<path d="M55 37.5V295H391.5M55 295h3.5M55 243.5h3.5M55 192h3.5M55 140.5h3.5M55 89h3.5M55 37.5h3.5M88.77 295v-2.2M108.52 295v-2.2M122.53 295v-2.2M133.40 295v-2.2M142.28 295v-2.2M149.79 295v-2.2M156.30 295v-2.2M162.03 295v-2.2M167.17 295v-4M200.93 295v-2.2M220.68 295v-2.2M234.70 295v-2.2M245.57 295v-2.2M254.45 295v-2.2M261.96 295v-2.2M268.46 295v-2.2M274.20 295v-2.2M279.33 295v-4M313.10 295v-2.2M332.85 295v-2.2M346.86 295v-2.2M357.73 295v-2.2M366.62 295v-2.2M374.13 295v-2.2M380.63 295v-2.2M386.37 295v-2.2M391.50 295v-4" stroke="#4a4a4a" stroke-width="1.2" fill="none" transform="translate(-0.1 0.3)"/>
<line x1="319.4" y1="80.2" x2="319.4" y2="102.1" stroke="#000" stroke-width="2"/><path d="M319.4 115.4Q318 104.2 312.4 100.2L319.4 102.1L326.4 100.2Q320.8 104.2 319.4 115.4Z" fill="#000"/>
<line x1="319.1" y1="219.8" x2="319.1" y2="198.5" stroke="#000" stroke-width="2"/><path d="M319.1 185.2Q317.7 196.4 312.1 200.4L319.1 198.5L326.1 200.4Q320.5 196.4 319.1 185.2Z" fill="#000"/>
<path d="M530.5 54V134.5H663.3M530.5 134.50h2.5M530.5 94.25h2.5M530.5 54.00h2.5M543.83 134.5v-1.8M551.62 134.5v-1.8M557.15 134.5v-1.8M561.44 134.5v-1.8M564.95 134.5v-1.8M567.91 134.5v-1.8M570.48 134.5v-1.8M572.74 134.5v-1.8M574.77 134.5v-3M588.09 134.5v-1.8M595.89 134.5v-1.8M601.42 134.5v-1.8M605.71 134.5v-1.8M609.21 134.5v-1.8M612.18 134.5v-1.8M614.74 134.5v-1.8M617.01 134.5v-1.8M619.03 134.5v-3M632.36 134.5v-1.8M640.15 134.5v-1.8M645.68 134.5v-1.8M649.97 134.5v-1.8M653.48 134.5v-1.8M656.44 134.5v-1.8M659.01 134.5v-1.8M661.27 134.5v-1.8M663.30 134.5v-3" stroke="#4a4a4a" stroke-width="1.2" fill="none"/>
<path d="M532.7 232.5V315H668.3M532.7 315.00h2.5M532.7 273.75h2.5M532.7 232.50h2.5M546.31 315v-1.8M554.27 315v-1.8M559.91 315v-1.8M564.29 315v-1.8M567.87 315v-1.8M570.90 315v-1.8M573.52 315v-1.8M575.83 315v-1.8M577.90 315v-3M591.51 315v-1.8M599.47 315v-1.8M605.11 315v-1.8M609.49 315v-1.8M613.07 315v-1.8M616.10 315v-1.8M618.72 315v-1.8M621.03 315v-1.8M623.10 315v-3M636.71 315v-1.8M644.67 315v-1.8M650.31 315v-1.8M654.69 315v-1.8M658.27 315v-1.8M661.30 315v-1.8M663.92 315v-1.8M666.23 315v-1.8M668.30 315v-3" stroke="#4a4a4a" stroke-width="1.2" fill="none"/>
<path d="M530.5 134.5 543.8 107.7 551.6 100.2 557.2 91.2 561.4 88.6 564.9 83.0 567.9 79.5 570.5 74.9 572.7 72.5 574.8 70.1 576.6 68.9 578.3 67.3" stroke="#e68000" stroke-width="1.2" fill="none" stroke-dasharray="4 3"/>
<g fill="none" stroke="#e68000" stroke-width="1.1"><circle cx="530.5" cy="134.5" r="2.4"/><circle cx="543.8" cy="107.7" r="2.4"/><circle cx="551.6" cy="100.2" r="2.4"/><circle cx="557.2" cy="91.2" r="2.4"/><circle cx="561.4" cy="88.6" r="2.4"/><circle cx="564.9" cy="83.0" r="2.4"/><circle cx="567.9" cy="79.5" r="2.4"/><circle cx="570.5" cy="74.9" r="2.4"/><circle cx="572.7" cy="72.5" r="2.4"/><circle cx="574.8" cy="70.1" r="2.4"/><circle cx="576.6" cy="68.9" r="2.4"/><circle cx="578.3" cy="67.3" r="2.4"/><circle cx="579.8" cy="66.9" r="2.4"/><circle cx="581.2" cy="64.9" r="2.4"/><circle cx="582.6" cy="64.5" r="2.4"/><circle cx="583.8" cy="62.5" r="2.4"/><circle cx="585.0" cy="59.3" r="2.4"/><circle cx="586.1" cy="62.2" r="2.4"/><circle cx="587.1" cy="59.7" r="2.4"/><circle cx="588.1" cy="60.1" r="2.4"/><circle cx="589.0" cy="59.6" r="2.4"/><circle cx="589.9" cy="59.1" r="2.4"/><circle cx="590.8" cy="60.1" r="2.4"/><circle cx="591.6" cy="58.6" r="2.4"/><circle cx="592.4" cy="58.8" r="2.4"/><circle cx="593.1" cy="55.5" r="2.4"/><circle cx="593.9" cy="57.5" r="2.4"/><circle cx="594.6" cy="57.7" r="2.4"/><circle cx="595.2" cy="57.4" r="2.4"/><circle cx="595.9" cy="57.5" r="2.4"/><circle cx="596.5" cy="57.6" r="2.4"/><circle cx="597.1" cy="56.9" r="2.4"/><circle cx="597.7" cy="56.2" r="2.4"/><circle cx="598.3" cy="56.5" r="2.4"/><circle cx="598.9" cy="55.5" r="2.4"/><circle cx="599.4" cy="56.2" r="2.4"/><circle cx="599.9" cy="55.9" r="2.4"/><circle cx="600.4" cy="54.7" r="2.4"/><circle cx="600.9" cy="55.3" r="2.4"/><circle cx="601.4" cy="56.0" r="2.4"/><circle cx="601.9" cy="55.7" r="2.4"/><circle cx="602.4" cy="55.0" r="2.4"/><circle cx="602.8" cy="54.0" r="2.4"/><circle cx="603.3" cy="55.5" r="2.4"/><circle cx="604.1" cy="54.4" r="2.4"/><circle cx="604.5" cy="55.7" r="2.4"/><circle cx="604.9" cy="55.2" r="2.4"/><circle cx="605.3" cy="54.3" r="2.4"/><circle cx="606.1" cy="54.7" r="2.4"/><circle cx="606.5" cy="54.3" r="2.4"/><circle cx="606.8" cy="56.8" r="2.4"/><circle cx="607.2" cy="54.0" r="2.4"/><circle cx="607.5" cy="55.3" r="2.4"/><circle cx="607.9" cy="55.8" r="2.4"/><circle cx="608.2" cy="54.4" r="2.4"/><circle cx="608.6" cy="54.0" r="2.4"/><circle cx="608.9" cy="54.8" r="2.4"/><circle cx="609.5" cy="54.4" r="2.4"/><circle cx="609.8" cy="54.4" r="2.4"/><circle cx="610.2" cy="54.0" r="2.4"/><circle cx="610.5" cy="54.0" r="2.4"/><circle cx="610.8" cy="54.2" r="2.4"/><circle cx="611.3" cy="54.4" r="2.4"/><circle cx="611.6" cy="55.0" r="2.4"/><circle cx="611.9" cy="54.0" r="2.4"/><circle cx="612.4" cy="54.4" r="2.4"/><circle cx="612.7" cy="54.8" r="2.4"/><circle cx="613.0" cy="54.0" r="2.4"/><circle cx="613.2" cy="56.0" r="2.4"/><circle cx="613.5" cy="54.0" r="2.4"/><circle cx="613.8" cy="54.0" r="2.4"/><circle cx="614.0" cy="55.3" r="2.4"/><circle cx="614.3" cy="54.1" r="2.4"/><circle cx="614.5" cy="54.8" r="2.4"/><circle cx="615.0" cy="55.6" r="2.4"/><circle cx="615.2" cy="54.8" r="2.4"/><circle cx="615.5" cy="54.0" r="2.4"/><circle cx="615.9" cy="55.7" r="2.4"/><circle cx="616.1" cy="54.0" r="2.4"/><circle cx="616.4" cy="54.0" r="2.4"/><circle cx="616.8" cy="54.0" r="2.4"/><circle cx="617.4" cy="54.0" r="2.4"/><circle cx="617.8" cy="54.0" r="2.4"/><circle cx="618.4" cy="54.0" r="2.4"/><circle cx="618.8" cy="54.0" r="2.4"/><circle cx="619.4" cy="54.0" r="2.4"/><circle cx="619.8" cy="54.0" r="2.4"/><circle cx="620.3" cy="54.0" r="2.4"/><circle cx="620.9" cy="54.0" r="2.4"/><circle cx="621.4" cy="54.0" r="2.4"/><circle cx="621.9" cy="54.0" r="2.4"/><circle cx="622.4" cy="54.0" r="2.4"/><circle cx="622.9" cy="54.0" r="2.4"/><circle cx="623.3" cy="54.0" r="2.4"/><circle cx="623.8" cy="54.0" r="2.4"/><circle cx="624.4" cy="54.0" r="2.4"/><circle cx="624.8" cy="54.0" r="2.4"/><circle cx="625.4" cy="54.0" r="2.4"/><circle cx="625.8" cy="54.0" r="2.4"/><circle cx="626.3" cy="54.0" r="2.4"/><circle cx="626.8" cy="54.0" r="2.4"/><circle cx="627.3" cy="54.0" r="2.4"/><circle cx="627.8" cy="54.0" r="2.4"/><circle cx="628.3" cy="54.0" r="2.4"/><circle cx="628.8" cy="54.0" r="2.4"/><circle cx="629.3" cy="54.0" r="2.4"/><circle cx="629.8" cy="54.0" r="2.4"/><circle cx="630.3" cy="54.0" r="2.4"/><circle cx="630.8" cy="54.0" r="2.4"/><circle cx="631.3" cy="54.0" r="2.4"/><circle cx="631.8" cy="54.0" r="2.4"/><circle cx="632.3" cy="54.0" r="2.4"/><circle cx="632.8" cy="54.0" r="2.4"/><circle cx="633.3" cy="54.0" r="2.4"/><circle cx="633.8" cy="54.0" r="2.4"/><circle cx="634.3" cy="54.0" r="2.4"/><circle cx="634.8" cy="54.0" r="2.4"/><circle cx="635.3" cy="54.0" r="2.4"/><circle cx="635.8" cy="54.0" r="2.4"/><circle cx="636.3" cy="54.0" r="2.4"/><circle cx="636.8" cy="54.0" r="2.4"/><circle cx="637.3" cy="54.0" r="2.4"/><circle cx="637.8" cy="54.0" r="2.4"/><circle cx="638.3" cy="54.0" r="2.4"/><circle cx="638.8" cy="54.0" r="2.4"/><circle cx="639.3" cy="54.0" r="2.4"/><circle cx="639.8" cy="54.0" r="2.4"/><circle cx="640.3" cy="54.0" r="2.4"/><circle cx="640.8" cy="54.0" r="2.4"/><circle cx="641.3" cy="54.0" r="2.4"/><circle cx="641.8" cy="54.0" r="2.4"/><circle cx="642.3" cy="54.0" r="2.4"/><circle cx="642.8" cy="54.0" r="2.4"/><circle cx="643.3" cy="54.0" r="2.4"/><circle cx="643.8" cy="54.0" r="2.4"/><circle cx="644.3" cy="54.0" r="2.4"/><circle cx="644.8" cy="54.0" r="2.4"/><circle cx="645.3" cy="54.0" r="2.4"/><circle cx="645.8" cy="54.0" r="2.4"/><circle cx="646.3" cy="54.0" r="2.4"/><circle cx="646.8" cy="54.0" r="2.4"/><circle cx="647.3" cy="54.0" r="2.4"/><circle cx="647.8" cy="54.0" r="2.4"/><circle cx="648.3" cy="54.0" r="2.4"/><circle cx="648.8" cy="54.0" r="2.4"/><circle cx="649.3" cy="54.0" r="2.4"/><circle cx="649.8" cy="54.0" r="2.4"/><circle cx="650.3" cy="54.0" r="2.4"/><circle cx="650.8" cy="54.0" r="2.4"/><circle cx="651.3" cy="54.0" r="2.4"/><circle cx="651.8" cy="54.0" r="2.4"/><circle cx="652.3" cy="54.0" r="2.4"/><circle cx="652.8" cy="54.0" r="2.4"/><circle cx="653.3" cy="54.0" r="2.4"/><circle cx="653.8" cy="54.0" r="2.4"/><circle cx="654.3" cy="54.0" r="2.4"/><circle cx="654.8" cy="54.0" r="2.4"/><circle cx="655.3" cy="54.0" r="2.4"/><circle cx="655.8" cy="54.0" r="2.4"/><circle cx="656.3" cy="54.0" r="2.4"/><circle cx="656.8" cy="54.0" r="2.4"/><circle cx="657.3" cy="54.0" r="2.4"/><circle cx="657.8" cy="54.0" r="2.4"/><circle cx="658.3" cy="54.0" r="2.4"/><circle cx="658.8" cy="54.0" r="2.4"/><circle cx="659.3" cy="54.0" r="2.4"/><circle cx="659.8" cy="54.0" r="2.4"/><circle cx="660.3" cy="54.0" r="2.4"/><circle cx="660.8" cy="54.0" r="2.4"/><circle cx="661.3" cy="54.0" r="2.4"/><circle cx="661.8" cy="54.0" r="2.4"/><circle cx="662.3" cy="54.0" r="2.4"/><circle cx="662.8" cy="54.0" r="2.4"/><circle cx="663.3" cy="54.0" r="2.4"/></g>
<path d="M532.7 315.0 546.3 260.1 554.3 247.4 559.9 244.5 564.3 242.0 567.9 239.9" stroke="#e68000" stroke-width="1.2" fill="none" stroke-dasharray="4 3"/>
<path d="M529.2 315.0h7m-3.5 -3.5v7M542.8 260.1h7m-3.5 -3.5v7M550.8 247.4h7m-3.5 -3.5v7M556.4 244.5h7m-3.5 -3.5v7M560.8 242.0h7m-3.5 -3.5v7M564.4 239.9h7m-3.5 -3.5v7M567.4 238.7h7m-3.5 -3.5v7M570.0 237.4h7m-3.5 -3.5v7M572.3 236.6h7m-3.5 -3.5v7M574.4 235.8h7m-3.5 -3.5v7M576.3 236.2h7m-3.5 -3.5v7M578.0 236.4h7m-3.5 -3.5v7M579.6 235.6h7m-3.5 -3.5v7M581.0 235.0h7m-3.5 -3.5v7M582.4 234.5h7m-3.5 -3.5v7M583.6 235.0h7m-3.5 -3.5v7M584.8 235.4h7m-3.5 -3.5v7M585.9 235.4h7m-3.5 -3.5v7M587.0 234.3h7m-3.5 -3.5v7M588.0 233.6h7m-3.5 -3.5v7M589.0 234.4h7m-3.5 -3.5v7M589.9 235.4h7m-3.5 -3.5v7M590.8 235.1h7m-3.5 -3.5v7M591.6 233.3h7m-3.5 -3.5v7M592.4 234.2h7m-3.5 -3.5v7M593.2 235.4h7m-3.5 -3.5v7M593.9 234.2h7m-3.5 -3.5v7M594.6 234.9h7m-3.5 -3.5v7M595.3 234.5h7m-3.5 -3.5v7M596.0 234.1h7m-3.5 -3.5v7M596.6 234.2h7m-3.5 -3.5v7M597.2 233.7h7m-3.5 -3.5v7M597.8 233.8h7m-3.5 -3.5v7M598.4 234.0h7m-3.5 -3.5v7M599.0 233.6h7m-3.5 -3.5v7M599.5 233.4h7m-3.5 -3.5v7M600.1 234.2h7m-3.5 -3.5v7M600.6 233.7h7m-3.5 -3.5v7M601.1 233.9h7m-3.5 -3.5v7M601.6 233.6h7m-3.5 -3.5v7M602.1 233.9h7m-3.5 -3.5v7M602.6 233.4h7m-3.5 -3.5v7M603.0 233.4h7m-3.5 -3.5v7M603.5 233.4h7m-3.5 -3.5v7M603.9 233.7h7m-3.5 -3.5v7M604.4 233.4h7m-3.5 -3.5v7M604.8 233.6h7m-3.5 -3.5v7M605.6 233.1h7m-3.5 -3.5v7M606.0 233.5h7m-3.5 -3.5v7M606.4 232.8h7m-3.5 -3.5v7M606.8 232.9h7m-3.5 -3.5v7M607.1 233.8h7m-3.5 -3.5v7M607.5 233.0h7m-3.5 -3.5v7M607.9 233.4h7m-3.5 -3.5v7M608.2 233.0h7m-3.5 -3.5v7M608.6 233.0h7m-3.5 -3.5v7M608.9 233.6h7m-3.5 -3.5v7M609.2 233.0h7m-3.5 -3.5v7M609.6 233.0h7m-3.5 -3.5v7M609.9 232.6h7m-3.5 -3.5v7M610.2 233.3h7m-3.5 -3.5v7M610.5 232.7h7m-3.5 -3.5v7M610.8 233.2h7m-3.5 -3.5v7M611.4 233.1h7m-3.5 -3.5v7M611.7 232.4h7m-3.5 -3.5v7M612.0 232.6h7m-3.5 -3.5v7M612.3 232.0h7m-3.5 -3.5v7M612.6 232.6h7m-3.5 -3.5v7M612.9 232.5h7m-3.5 -3.5v7M613.4 233.0h7m-3.5 -3.5v7M614.0 232.3h7m-3.5 -3.5v7M614.2 232.9h7m-3.5 -3.5v7M614.5 232.7h7m-3.5 -3.5v7M615.0 232.5h7m-3.5 -3.5v7M615.2 232.8h7m-3.5 -3.5v7M615.5 232.7h7m-3.5 -3.5v7M615.9 232.6h7m-3.5 -3.5v7M616.2 233.0h7m-3.5 -3.5v7M616.4 232.4h7m-3.5 -3.5v7M616.6 233.1h7m-3.5 -3.5v7M616.9 233.0h7m-3.5 -3.5v7M617.3 232.3h7m-3.5 -3.5v7M617.5 232.8h7m-3.5 -3.5v7M618.0 233.0h7m-3.5 -3.5v7M618.2 232.5h7m-3.5 -3.5v7M618.4 233.0h7m-3.5 -3.5v7M618.8 232.4h7m-3.5 -3.5v7M619.0 233.0h7m-3.5 -3.5v7M619.4 232.6h7m-3.5 -3.5v7M619.8 232.6h7m-3.5 -3.5v7M620.0 232.1h7m-3.5 -3.5v7M620.2 232.8h7m-3.5 -3.5v7M620.4 233.0h7m-3.5 -3.5v7M620.7 232.6h7m-3.5 -3.5v7M620.9 232.7h7m-3.5 -3.5v7M621.3 232.7h7m-3.5 -3.5v7M621.6 232.8h7m-3.5 -3.5v7M621.8 232.7h7m-3.5 -3.5v7M622.3 232.5h7m-3.5 -3.5v7M622.5 231.9h7m-3.5 -3.5v7M622.8 233.1h7m-3.5 -3.5v7M623.0 232.0h7m-3.5 -3.5v7M623.2 232.4h7m-3.5 -3.5v7M623.3 232.8h7m-3.5 -3.5v7M623.5 232.2h7m-3.5 -3.5v7M623.7 232.5h7m-3.5 -3.5v7M623.8 232.7h7m-3.5 -3.5v7M624.1 232.9h7m-3.5 -3.5v7M624.3 232.5h7m-3.5 -3.5v7M624.4 232.2h7m-3.5 -3.5v7M624.8 232.4h7m-3.5 -3.5v7M624.9 231.9h7m-3.5 -3.5v7M625.0 232.9h7m-3.5 -3.5v7M625.3 232.6h7m-3.5 -3.5v7M625.5 232.9h7m-3.5 -3.5v7M625.8 232.5h7m-3.5 -3.5v7M626.3 232.3h7m-3.5 -3.5v7M626.6 232.2h7m-3.5 -3.5v7M626.8 232.4h7m-3.5 -3.5v7M627.0 231.9h7m-3.5 -3.5v7M627.3 232.5h7m-3.5 -3.5v7M627.6 232.8h7m-3.5 -3.5v7M627.8 232.2h7m-3.5 -3.5v7M627.9 232.3h7m-3.5 -3.5v7M628.3 233.0h7m-3.5 -3.5v7M628.5 231.9h7m-3.5 -3.5v7M628.8 232.1h7m-3.5 -3.5v7M628.9 232.5h7m-3.5 -3.5v7M629.1 233.1h7m-3.5 -3.5v7M629.3 232.7h7m-3.5 -3.5v7M629.4 232.0h7m-3.5 -3.5v7M629.5 232.8h7m-3.5 -3.5v7M629.8 232.6h7m-3.5 -3.5v7M630.0 232.8h7m-3.5 -3.5v7M630.2 232.1h7m-3.5 -3.5v7M630.4 232.3h7m-3.5 -3.5v7M630.5 232.8h7m-3.5 -3.5v7M630.8 232.7h7m-3.5 -3.5v7M631.0 233.1h7m-3.5 -3.5v7M631.1 231.9h7m-3.5 -3.5v7M631.4 232.8h7m-3.5 -3.5v7M631.5 232.2h7m-3.5 -3.5v7M631.7 233.3h7m-3.5 -3.5v7M631.8 232.7h7m-3.5 -3.5v7M632.3 232.5h7m-3.5 -3.5v7M632.4 231.9h7m-3.5 -3.5v7M632.7 232.8h7m-3.5 -3.5v7M632.8 231.6h7m-3.5 -3.5v7M632.9 232.8h7m-3.5 -3.5v7M633.0 232.7h7m-3.5 -3.5v7M633.3 232.2h7m-3.5 -3.5v7M633.4 232.4h7m-3.5 -3.5v7M633.5 232.8h7m-3.5 -3.5v7M633.8 231.9h7m-3.5 -3.5v7M633.9 232.5h7m-3.5 -3.5v7M634.0 232.9h7m-3.5 -3.5v7M634.3 232.7h7m-3.5 -3.5v7M634.4 233.2h7m-3.5 -3.5v7M634.6 232.1h7m-3.5 -3.5v7M634.8 232.3h7m-3.5 -3.5v7M634.9 232.2h7m-3.5 -3.5v7M635.3 231.9h7m-3.5 -3.5v7M635.4 232.4h7m-3.5 -3.5v7M635.8 232.8h7m-3.5 -3.5v7M635.9 232.5h7m-3.5 -3.5v7M636.0 231.6h7m-3.5 -3.5v7M636.2 232.1h7m-3.5 -3.5v7M636.3 232.1h7m-3.5 -3.5v7M636.4 232.6h7m-3.5 -3.5v7M636.5 233.2h7m-3.5 -3.5v7M636.8 233.3h7m-3.5 -3.5v7M636.9 232.9h7m-3.5 -3.5v7M636.9 232.2h7m-3.5 -3.5v7M637.0 232.6h7m-3.5 -3.5v7M637.3 232.7h7m-3.5 -3.5v7M637.7 232.1h7m-3.5 -3.5v7M637.8 232.4h7m-3.5 -3.5v7M638.1 232.9h7m-3.5 -3.5v7M638.3 232.5h7m-3.5 -3.5v7M638.4 232.8h7m-3.5 -3.5v7M638.8 232.4h7m-3.5 -3.5v7M639.0 232.2h7m-3.5 -3.5v7M639.3 232.5h7m-3.5 -3.5v7M639.6 232.1h7m-3.5 -3.5v7M639.7 232.8h7m-3.5 -3.5v7M639.8 232.1h7m-3.5 -3.5v7M639.9 232.5h7m-3.5 -3.5v7M640.0 232.9h7m-3.5 -3.5v7M640.3 232.6h7m-3.5 -3.5v7M640.6 232.9h7m-3.5 -3.5v7M640.6 232.1h7m-3.5 -3.5v7M640.8 232.5h7m-3.5 -3.5v7M640.9 233.3h7m-3.5 -3.5v7M641.2 232.8h7m-3.5 -3.5v7M641.3 232.2h7m-3.5 -3.5v7M641.4 232.7h7m-3.5 -3.5v7M641.4 232.8h7m-3.5 -3.5v7M641.8 232.1h7m-3.5 -3.5v7M641.9 232.9h7m-3.5 -3.5v7M642.0 232.5h7m-3.5 -3.5v7M642.3 232.6h7m-3.5 -3.5v7M642.4 232.2h7m-3.5 -3.5v7M642.6 232.9h7m-3.5 -3.5v7M642.8 232.7h7m-3.5 -3.5v7M642.9 232.9h7m-3.5 -3.5v7M643.0 233.4h7m-3.5 -3.5v7M643.1 231.8h7m-3.5 -3.5v7M643.3 232.3h7m-3.5 -3.5v7M643.3 231.9h7m-3.5 -3.5v7M643.5 232.9h7m-3.5 -3.5v7M643.8 232.5h7m-3.5 -3.5v7M643.9 232.2h7m-3.5 -3.5v7M644.0 232.9h7m-3.5 -3.5v7M644.3 232.1h7m-3.5 -3.5v7M644.4 232.3h7m-3.5 -3.5v7M644.4 233.0h7m-3.5 -3.5v7M644.8 232.4h7m-3.5 -3.5v7M645.0 232.8h7m-3.5 -3.5v7M645.3 232.4h7m-3.5 -3.5v7M645.7 233.3h7m-3.5 -3.5v7M645.8 233.4h7m-3.5 -3.5v7M645.8 232.4h7m-3.5 -3.5v7M645.9 232.0h7m-3.5 -3.5v7M646.1 233.0h7m-3.5 -3.5v7M646.3 232.3h7m-3.5 -3.5v7M646.4 232.2h7m-3.5 -3.5v7M646.6 232.8h7m-3.5 -3.5v7M646.8 232.1h7m-3.5 -3.5v7M646.9 232.3h7m-3.5 -3.5v7M647.0 232.8h7m-3.5 -3.5v7M647.3 232.9h7m-3.5 -3.5v7M647.3 232.0h7m-3.5 -3.5v7M647.4 232.6h7m-3.5 -3.5v7M647.8 232.3h7m-3.5 -3.5v7M647.8 232.2h7m-3.5 -3.5v7M648.3 232.3h7m-3.5 -3.5v7M648.4 232.9h7m-3.5 -3.5v7M648.6 232.1h7m-3.5 -3.5v7M648.8 232.5h7m-3.5 -3.5v7M648.8 232.1h7m-3.5 -3.5v7M648.9 233.0h7m-3.5 -3.5v7M649.3 231.8h7m-3.5 -3.5v7M649.4 232.9h7m-3.5 -3.5v7M649.4 232.7h7m-3.5 -3.5v7M649.8 232.4h7m-3.5 -3.5v7M649.9 231.9h7m-3.5 -3.5v7M650.0 232.8h7m-3.5 -3.5v7M650.3 232.4h7m-3.5 -3.5v7M650.3 231.9h7m-3.5 -3.5v7M650.5 233.0h7m-3.5 -3.5v7M650.8 232.4h7m-3.5 -3.5v7M650.8 232.8h7m-3.5 -3.5v7M651.2 232.1h7m-3.5 -3.5v7M651.3 232.3h7m-3.5 -3.5v7M651.3 232.2h7m-3.5 -3.5v7M651.5 232.8h7m-3.5 -3.5v7M651.7 233.5h7m-3.5 -3.5v7M651.8 232.5h7m-3.5 -3.5v7M652.0 232.8h7m-3.5 -3.5v7M652.2 232.0h7m-3.5 -3.5v7M652.3 233.0h7m-3.5 -3.5v7M652.3 231.8h7m-3.5 -3.5v7M652.3 232.6h7m-3.5 -3.5v7M652.8 232.1h7m-3.5 -3.5v7M652.9 232.9h7m-3.5 -3.5v7M653.0 232.7h7m-3.5 -3.5v7M653.3 232.6h7m-3.5 -3.5v7M653.3 233.1h7m-3.5 -3.5v7M653.4 232.2h7m-3.5 -3.5v7M653.8 233.3h7m-3.5 -3.5v7M653.8 232.6h7m-3.5 -3.5v7M653.9 233.0h7m-3.5 -3.5v7M654.0 232.1h7m-3.5 -3.5v7M654.3 232.5h7m-3.5 -3.5v7M654.3 232.0h7m-3.5 -3.5v7M654.3 233.0h7m-3.5 -3.5v7M654.5 233.3h7m-3.5 -3.5v7M654.8 232.2h7m-3.5 -3.5v7M654.8 232.8h7m-3.5 -3.5v7M654.9 232.5h7m-3.5 -3.5v7M655.3 232.7h7m-3.5 -3.5v7M655.3 232.9h7m-3.5 -3.5v7M655.4 232.2h7m-3.5 -3.5v7M655.6 231.7h7m-3.5 -3.5v7M655.8 232.2h7m-3.5 -3.5v7M655.8 232.7h7m-3.5 -3.5v7M656.1 233.0h7m-3.5 -3.5v7M656.3 231.8h7m-3.5 -3.5v7M656.3 232.7h7m-3.5 -3.5v7M656.3 231.5h7m-3.5 -3.5v7M656.4 233.2h7m-3.5 -3.5v7M656.8 231.9h7m-3.5 -3.5v7M656.8 232.3h7m-3.5 -3.5v7M656.9 232.9h7m-3.5 -3.5v7M657.3 232.7h7m-3.5 -3.5v7M657.4 232.8h7m-3.5 -3.5v7M657.4 232.0h7m-3.5 -3.5v7M657.8 233.1h7m-3.5 -3.5v7M657.8 232.3h7m-3.5 -3.5v7M657.9 232.2h7m-3.5 -3.5v7M658.3 232.1h7m-3.5 -3.5v7M658.3 233.0h7m-3.5 -3.5v7M658.4 232.4h7m-3.5 -3.5v7M658.8 232.8h7m-3.5 -3.5v7M658.8 232.0h7m-3.5 -3.5v7M658.8 232.4h7m-3.5 -3.5v7M659.3 232.5h7m-3.5 -3.5v7M659.4 232.9h7m-3.5 -3.5v7M659.5 231.9h7m-3.5 -3.5v7M659.8 232.2h7m-3.5 -3.5v7M659.8 232.4h7m-3.5 -3.5v7M659.9 232.8h7m-3.5 -3.5v7M660.1 233.4h7m-3.5 -3.5v7M660.3 232.4h7m-3.5 -3.5v7M660.3 231.9h7m-3.5 -3.5v7M660.4 232.8h7m-3.5 -3.5v7M660.8 231.5h7m-3.5 -3.5v7M660.8 232.8h7m-3.5 -3.5v7M660.8 232.2h7m-3.5 -3.5v7M660.9 232.7h7m-3.5 -3.5v7M661.3 232.7h7m-3.5 -3.5v7M661.3 232.0h7m-3.5 -3.5v7M661.4 232.8h7m-3.5 -3.5v7M661.8 233.1h7m-3.5 -3.5v7M661.8 232.4h7m-3.5 -3.5v7M662.1 231.7h7m-3.5 -3.5v7M662.2 233.3h7m-3.5 -3.5v7M662.3 232.3h7m-3.5 -3.5v7M662.3 231.5h7m-3.5 -3.5v7M662.4 232.8h7m-3.5 -3.5v7M662.5 232.2h7m-3.5 -3.5v7M662.8 232.3h7m-3.5 -3.5v7M662.8 233.1h7m-3.5 -3.5v7M662.8 232.1h7m-3.5 -3.5v7M663.3 233.1h7m-3.5 -3.5v7M663.3 232.1h7m-3.5 -3.5v7M663.3 232.5h7m-3.5 -3.5v7M663.5 233.4h7m-3.5 -3.5v7M663.8 233.0h7m-3.5 -3.5v7M663.8 232.1h7m-3.5 -3.5v7M663.8 232.6h7m-3.5 -3.5v7M664.3 232.5h7m-3.5 -3.5v7M664.3 232.0h7m-3.5 -3.5v7M664.6 232.8h7m-3.5 -3.5v7M664.7 233.3h7m-3.5 -3.5v7M664.8 232.6h7m-3.5 -3.5v7" stroke="#e68000" stroke-width="1.15" fill="none"/>
<g transform="translate(39.42 302.10) scale(0.99 1.06)" fill="#262626"><text x="0.00" y="0" font-size="17.4">0</text></g>
<g transform="translate(25.05 250.60) scale(0.99 1.06)" fill="#262626"><text x="0.00 9.68 14.51" y="0" font-size="17.4">0.2</text></g>
<g transform="translate(25.05 199.10) scale(0.99 1.06)" fill="#262626"><text x="0.00 9.68 14.51" y="0" font-size="17.4">0.4</text></g>
<g transform="translate(25.05 147.60) scale(0.99 1.06)" fill="#262626"><text x="0.00 9.68 14.51" y="0" font-size="17.4">0.6</text></g>
<g transform="translate(25.05 96.10) scale(0.99 1.06)" fill="#262626"><text x="0.00 9.68 14.51" y="0" font-size="17.4">0.8</text></g>
<g transform="translate(39.42 44.60) scale(0.99 1.06)" fill="#262626"><path d="M763 0L583 0L583 -1102Q518 -1043 412.5 -983Q307 -924 223 -894L223 -1061Q374 -1129 486.5 -1226Q599 -1323 646 -1409L763 -1409Z" transform="translate(0.00 0) scale(0.00850)"/></g>
<g transform="translate(41.36 323.50) scale(0.95 1.03)" fill="#262626"><path d="M763 0L583 0L583 -1102Q518 -1043 412.5 -983Q307 -924 223 -894L223 -1061Q374 -1129 486.5 -1226Q599 -1323 646 -1409L763 -1409Z" transform="translate(0.00 0) scale(0.00840)"/><text x="9.57" y="0" font-size="17.2">0</text></g>
<g transform="translate(60.63 315.10) scale(0.97 1.06)" fill="#262626"><text x="0.00" y="0" font-size="13">0</text></g>
<g transform="translate(153.52 323.50) scale(0.95 1.03)" fill="#262626"><path d="M763 0L583 0L583 -1102Q518 -1043 412.5 -983Q307 -924 223 -894L223 -1061Q374 -1129 486.5 -1226Q599 -1323 646 -1409L763 -1409Z" transform="translate(0.00 0) scale(0.00840)"/><text x="9.57" y="0" font-size="17.2">0</text></g>
<g transform="translate(172.80 315.10) scale(0.97 1.06)" fill="#262626"><path d="M763 0L583 0L583 -1102Q518 -1043 412.5 -983Q307 -924 223 -894L223 -1061Q374 -1129 486.5 -1226Q599 -1323 646 -1409L763 -1409Z" transform="translate(0.00 0) scale(0.00635)"/></g>
<g transform="translate(265.69 323.50) scale(0.95 1.03)" fill="#262626"><path d="M763 0L583 0L583 -1102Q518 -1043 412.5 -983Q307 -924 223 -894L223 -1061Q374 -1129 486.5 -1226Q599 -1323 646 -1409L763 -1409Z" transform="translate(0.00 0) scale(0.00840)"/><text x="9.57" y="0" font-size="17.2">0</text></g>
<g transform="translate(284.96 315.10) scale(0.97 1.06)" fill="#262626"><text x="0.00" y="0" font-size="13">2</text></g>
<g transform="translate(377.86 323.50) scale(0.95 1.03)" fill="#262626"><path d="M763 0L583 0L583 -1102Q518 -1043 412.5 -983Q307 -924 223 -894L223 -1061Q374 -1129 486.5 -1226Q599 -1323 646 -1409L763 -1409Z" transform="translate(0.00 0) scale(0.00840)"/><text x="9.57" y="0" font-size="17.2">0</text></g>
<g transform="translate(397.13 315.10) scale(0.97 1.06)" fill="#262626"><text x="0.00" y="0" font-size="13">3</text></g>
<text x="223.3" y="348.2" font-size="19.15" text-anchor="middle" fill="#262626">Evidence Accumulated</text>
<text transform="translate(16.3 165.7) rotate(-90)" font-size="18.9" text-anchor="middle" fill="#262626">Policy Support</text>
<text x="310.0" y="70.1" font-size="14.5" font-style="italic" fill="#000">&#956;</text>
<text x="320" y="77.4" font-size="13.2" fill="#000">R</text>
<text x="310.1" y="236.8" font-size="14.5" font-style="italic" fill="#000">&#956;</text>
<text x="320.0" y="244" font-size="13.2" fill="#000">D</text>
<path d="M9.6 9.5C10.6 8.6 11.9 8.1 13.3 8.1C15.5 8.1 16.7 9.2 16.7 11.5L16.7 19.6M16.7 13.4C15.5 13.3 14.1 13.3 12.9 13.4C10.4 13.7 9.1 14.7 9.1 16.6C9.1 18.5 10.4 19.4 12 19.4C13.7 19.4 15.4 18.7 16.7 17" fill="none" stroke="#000" stroke-width="1.75"/>
<path d="M470.8 2.6L470.8 19.4M470.8 9.6C471.8 8 473.3 7.3 474.9 7.3C477.5 7.3 478.9 9.6 478.9 13.1C478.9 16.8 477.2 19 474.6 19C473 19 471.8 18.4 470.8 17.2" fill="none" stroke="#000" stroke-width="1.7"/>
<text x="467.9" y="201.6" font-size="21.5" fill="#000">c</text>
<g transform="translate(518.87 141.20) scale(0.92 1.08)" fill="#262626"><text x="0.00" y="0" font-size="15.1">0</text></g>
<g transform="translate(507.29 100.95) scale(0.92 1.08)" fill="#262626"><text x="0.00 8.40 12.59" y="0" font-size="15.1">0.5</text></g>
<g transform="translate(518.87 60.70) scale(0.92 1.08)" fill="#262626"><path d="M763 0L583 0L583 -1102Q518 -1043 412.5 -983Q307 -924 223 -894L223 -1061Q374 -1129 486.5 -1226Q599 -1323 646 -1409L763 -1409Z" transform="translate(0.00 0) scale(0.00737)"/></g>
<g transform="translate(520.27 321.70) scale(0.92 1.08)" fill="#262626"><text x="0.00" y="0" font-size="15.1">0</text></g>
<g transform="translate(508.69 280.45) scale(0.92 1.08)" fill="#262626"><path d="M763 0L583 0L583 -1102Q518 -1043 412.5 -983Q307 -924 223 -894L223 -1061Q374 -1129 486.5 -1226Q599 -1323 646 -1409L763 -1409Z" transform="translate(12.59 0) scale(0.00737)"/><text x="0.00 8.40" y="0" font-size="15.1">0.</text></g>
<g transform="translate(508.69 239.20) scale(0.92 1.08)" fill="#262626"><text x="0.00 8.40 12.59" y="0" font-size="15.1">0.2</text></g>
<g transform="translate(519.56 156.90) scale(0.92 1.05)" fill="#262626"><path d="M763 0L583 0L583 -1102Q518 -1043 412.5 -983Q307 -924 223 -894L223 -1061Q374 -1129 486.5 -1226Q599 -1323 646 -1409L763 -1409Z" transform="translate(0.00 0) scale(0.00737)"/><text x="8.40" y="0" font-size="15.1">0</text></g>
<g transform="translate(535.01 150.20) scale(0.92 1.05)" fill="#262626"><text x="0.00" y="0" font-size="11.8">0</text></g>
<g transform="translate(521.76 337.90) scale(0.92 1.05)" fill="#262626"><path d="M763 0L583 0L583 -1102Q518 -1043 412.5 -983Q307 -924 223 -894L223 -1061Q374 -1129 486.5 -1226Q599 -1323 646 -1409L763 -1409Z" transform="translate(0.00 0) scale(0.00737)"/><text x="8.40" y="0" font-size="15.1">0</text></g>
<g transform="translate(537.21 331.20) scale(0.92 1.05)" fill="#262626"><text x="0.00" y="0" font-size="11.8">0</text></g>
<g transform="translate(608.09 156.90) scale(0.92 1.05)" fill="#262626"><path d="M763 0L583 0L583 -1102Q518 -1043 412.5 -983Q307 -924 223 -894L223 -1061Q374 -1129 486.5 -1226Q599 -1323 646 -1409L763 -1409Z" transform="translate(0.00 0) scale(0.00737)"/><text x="8.40" y="0" font-size="15.1">0</text></g>
<g transform="translate(623.54 150.20) scale(0.92 1.05)" fill="#262626"><text x="0.00" y="0" font-size="11.8">2</text></g>
<g transform="translate(612.16 337.90) scale(0.92 1.05)" fill="#262626"><path d="M763 0L583 0L583 -1102Q518 -1043 412.5 -983Q307 -924 223 -894L223 -1061Q374 -1129 486.5 -1226Q599 -1323 646 -1409L763 -1409Z" transform="translate(0.00 0) scale(0.00737)"/><text x="8.40" y="0" font-size="15.1">0</text></g>
<g transform="translate(627.61 331.20) scale(0.92 1.05)" fill="#262626"><text x="0.00" y="0" font-size="11.8">2</text></g>
<text x="596.6" y="177" font-size="16.2" text-anchor="middle" fill="#262626">Evidence Accumulated</text>
<text x="600.5" y="358" font-size="16.2" text-anchor="middle" fill="#262626">Evidence Accumulated</text>
<text transform="translate(481.3 94) rotate(-90)" font-size="16.2" text-anchor="middle" fill="#262626">Policy</text>
<text transform="translate(502.0 93.5) rotate(-90)" font-size="16.2" text-anchor="middle" fill="#262626">Disagreement</text>
<text transform="translate(481.4 273.2) rotate(-90)" font-size="16.2" text-anchor="middle" fill="#262626">Support</text>
<text transform="translate(502.0 273.4) rotate(-90)" font-size="16.2" text-anchor="middle" fill="#262626">Disagreement</text>
</g></svg>
</body></html>
